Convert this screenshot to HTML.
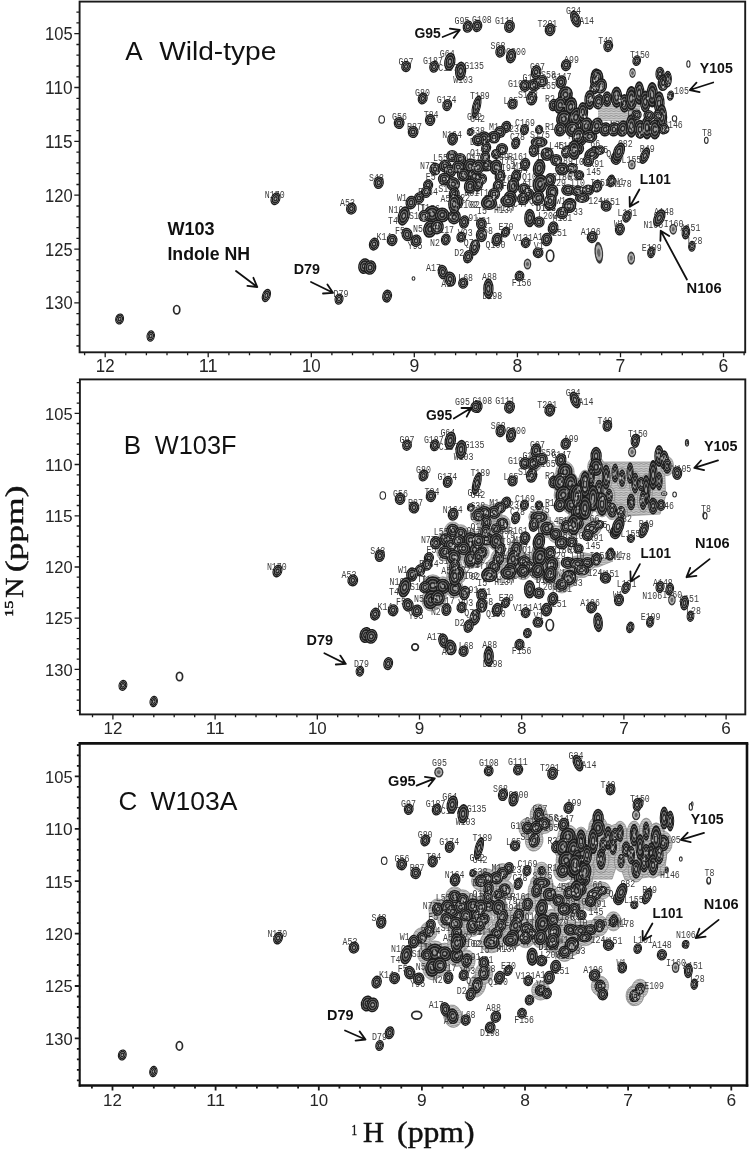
<!DOCTYPE html>
<html><head><meta charset="utf-8"><title>HSQC spectra</title>
<style>
html,body{margin:0;padding:0;background:#fff}
svg{display:block}
.tk{font-family:"Liberation Sans",sans-serif;fill:#262626}
.pl text{font-family:"Liberation Mono",monospace;font-size:10.2px;fill:#3c3c3c}
.an{font-family:"Liberation Sans",sans-serif;font-weight:bold;font-size:15.2px;fill:#111}
.an2{font-family:"Liberation Sans",sans-serif;font-weight:bold;font-size:18px;fill:#111}
.ti{font-family:"Liberation Sans",sans-serif;font-size:26px;fill:#111}
.ax{font-family:"Liberation Serif",serif;font-size:27px;fill:#111}
</style></head><body>
<svg width="749" height="1150" viewBox="0 0 749 1150">
<defs><filter id="bl" x="-2%" y="-2%" width="104%" height="104%"><feGaussianBlur stdDeviation="0.55"/></filter><radialGradient id="cg"><stop offset="0" stop-color="#a8a8a8"/><stop offset=".15" stop-color="#989898"/><stop offset=".24" stop-color="#2a2a2a"/><stop offset=".36" stop-color="#2a2a2a"/><stop offset=".43" stop-color="#686868"/><stop offset=".5" stop-color="#686868"/><stop offset=".57" stop-color="#222"/><stop offset=".69" stop-color="#222"/><stop offset=".75" stop-color="#5a5a5a"/><stop offset=".8" stop-color="#5a5a5a"/><stop offset=".86" stop-color="#1a1a1a"/><stop offset="1" stop-color="#1a1a1a"/></radialGradient><radialGradient id="gg"><stop offset="0" stop-color="#666"/><stop offset=".3" stop-color="#666"/><stop offset=".45" stop-color="#aaa"/><stop offset=".65" stop-color="#aaa"/><stop offset=".78" stop-color="#3a3a3a"/><stop offset="1" stop-color="#3a3a3a"/></radialGradient><pattern id="hat" width="5" height="2.4" patternUnits="userSpaceOnUse"><rect width="5" height="2.4" fill="#cdcdcd"/><path d="M0 0.8Q1.25 0.2 2.5 0.8T5 0.8" stroke="#5c5c5c" stroke-width="0.6" fill="none"/></pattern></defs>
<rect width="749" height="1150" fill="#fff"/>
<g filter="url(#bl)">
<path d="M598 104H640V121H598Z" fill="url(#hat)"/>
<g class="pl"><text x="454.6" y="24.0" textLength="14.9" lengthAdjust="spacingAndGlyphs">G95</text><text x="439.8" y="57.1" textLength="14.9" lengthAdjust="spacingAndGlyphs">G64</text><text x="398.5" y="64.5" textLength="14.9" lengthAdjust="spacingAndGlyphs">G97</text><text x="423.1" y="64.1" textLength="19.8" lengthAdjust="spacingAndGlyphs">G187</text><text x="438.2" y="71.1" textLength="19.8" lengthAdjust="spacingAndGlyphs">C157</text><text x="464.2" y="69.1" textLength="19.8" lengthAdjust="spacingAndGlyphs">G135</text><text x="453.2" y="82.5" textLength="19.8" lengthAdjust="spacingAndGlyphs">W103</text><text x="415.1" y="95.7" textLength="14.9" lengthAdjust="spacingAndGlyphs">G80</text><text x="436.7" y="102.7" textLength="19.8" lengthAdjust="spacingAndGlyphs">G174</text><text x="472.0" y="23.0" textLength="19.8" lengthAdjust="spacingAndGlyphs">G108</text><text x="495.0" y="23.6" textLength="19.8" lengthAdjust="spacingAndGlyphs">G111</text><text x="537.5" y="27.0" textLength="19.8" lengthAdjust="spacingAndGlyphs">T201</text><text x="566.1" y="14.4" textLength="14.9" lengthAdjust="spacingAndGlyphs">G34</text><text x="579.2" y="24.0" textLength="14.9" lengthAdjust="spacingAndGlyphs">A14</text><text x="598.2" y="44.1" textLength="14.9" lengthAdjust="spacingAndGlyphs">T40</text><text x="490.6" y="49.1" textLength="14.9" lengthAdjust="spacingAndGlyphs">S68</text><text x="506.1" y="55.1" textLength="19.8" lengthAdjust="spacingAndGlyphs">G200</text><text x="564.1" y="63.1" textLength="14.9" lengthAdjust="spacingAndGlyphs">A99</text><text x="530.1" y="69.7" textLength="14.9" lengthAdjust="spacingAndGlyphs">G97</text><text x="551.7" y="79.7" textLength="19.8" lengthAdjust="spacingAndGlyphs">G147</text><text x="508.1" y="86.5" textLength="14.9" lengthAdjust="spacingAndGlyphs">G19</text><text x="541.1" y="78.1" textLength="14.9" lengthAdjust="spacingAndGlyphs">S58</text><text x="536.1" y="89.1" textLength="19.8" lengthAdjust="spacingAndGlyphs">S165</text><text x="518.1" y="97.5" textLength="19.8" lengthAdjust="spacingAndGlyphs">S152</text><text x="503.4" y="103.5" textLength="14.9" lengthAdjust="spacingAndGlyphs">L65</text><text x="545.1" y="102.1" textLength="9.9" lengthAdjust="spacingAndGlyphs">R2</text><text x="470.0" y="99.1" textLength="19.8" lengthAdjust="spacingAndGlyphs">T189</text><text x="522.5" y="81.1" textLength="9.9" lengthAdjust="spacingAndGlyphs">G1</text><text x="467.0" y="119.5" textLength="14.9" lengthAdjust="spacingAndGlyphs">G42</text><text x="630.0" y="58.0" textLength="19.8" lengthAdjust="spacingAndGlyphs">T150</text><text x="674.0" y="93.7" textLength="14.9" lengthAdjust="spacingAndGlyphs">105</text><text x="663.0" y="127.5" textLength="19.8" lengthAdjust="spacingAndGlyphs">H146</text><text x="702.0" y="136.0" textLength="9.9" lengthAdjust="spacingAndGlyphs">T8</text><text x="626.0" y="117.0" textLength="14.9" lengthAdjust="spacingAndGlyphs">T82</text><text x="610.0" y="128.0" textLength="14.9" lengthAdjust="spacingAndGlyphs">N71</text><text x="515.1" y="126.0" textLength="19.8" lengthAdjust="spacingAndGlyphs">C169</text><text x="489.0" y="130.0" textLength="9.9" lengthAdjust="spacingAndGlyphs">M1</text><text x="509.1" y="132.0" textLength="9.9" lengthAdjust="spacingAndGlyphs">23</text><text x="545.1" y="130.0" textLength="14.9" lengthAdjust="spacingAndGlyphs">R14</text><text x="510.1" y="140.1" textLength="14.9" lengthAdjust="spacingAndGlyphs">C78</text><text x="530.1" y="138.1" textLength="19.8" lengthAdjust="spacingAndGlyphs">S175</text><text x="508.1" y="160.1" textLength="19.8" lengthAdjust="spacingAndGlyphs">R161</text><text x="500.0" y="164.1" textLength="14.9" lengthAdjust="spacingAndGlyphs">T79</text><text x="494.0" y="160.1" textLength="14.9" lengthAdjust="spacingAndGlyphs">V89</text><text x="501.0" y="171.1" textLength="14.9" lengthAdjust="spacingAndGlyphs">I94</text><text x="518.1" y="173.1" textLength="9.9" lengthAdjust="spacingAndGlyphs">44</text><text x="502.0" y="182.1" textLength="9.9" lengthAdjust="spacingAndGlyphs">76</text><text x="502.0" y="189.1" textLength="9.9" lengthAdjust="spacingAndGlyphs">F6</text><text x="479.0" y="196.1" textLength="9.9" lengthAdjust="spacingAndGlyphs">T1</text><text x="522.1" y="180.1" textLength="14.9" lengthAdjust="spacingAndGlyphs">Q10</text><text x="522.1" y="187.1" textLength="14.9" lengthAdjust="spacingAndGlyphs">A1E</text><text x="549.1" y="149.1" textLength="14.9" lengthAdjust="spacingAndGlyphs">L45</text><text x="558.1" y="149.1" textLength="19.8" lengthAdjust="spacingAndGlyphs">L195</text><text x="590.2" y="147.1" textLength="9.9" lengthAdjust="spacingAndGlyphs">66</text><text x="598.2" y="153.1" textLength="9.9" lengthAdjust="spacingAndGlyphs">85</text><text x="606.2" y="157.1" textLength="5.0" lengthAdjust="spacingAndGlyphs">Q</text><text x="553.1" y="164.1" textLength="19.8" lengthAdjust="spacingAndGlyphs">V189</text><text x="574.1" y="165.1" textLength="9.9" lengthAdjust="spacingAndGlyphs">I0</text><text x="589.2" y="167.1" textLength="14.9" lengthAdjust="spacingAndGlyphs">K91</text><text x="586.2" y="175.1" textLength="14.9" lengthAdjust="spacingAndGlyphs">145</text><text x="552.1" y="180.1" textLength="19.8" lengthAdjust="spacingAndGlyphs">R186</text><text x="568.1" y="180.1" textLength="9.9" lengthAdjust="spacingAndGlyphs">R5</text><text x="556.1" y="186.1" textLength="9.9" lengthAdjust="spacingAndGlyphs">29</text><text x="570.1" y="186.1" textLength="14.9" lengthAdjust="spacingAndGlyphs">110</text><text x="590.2" y="186.1" textLength="19.8" lengthAdjust="spacingAndGlyphs">I152</text><text x="529.1" y="204.1" textLength="14.9" lengthAdjust="spacingAndGlyphs">Q12</text><text x="556.1" y="204.1" textLength="9.9" lengthAdjust="spacingAndGlyphs">W1</text><text x="588.2" y="204.1" textLength="14.9" lengthAdjust="spacingAndGlyphs">124</text><text x="600.2" y="205.1" textLength="19.8" lengthAdjust="spacingAndGlyphs">W151</text><text x="536.1" y="211.2" textLength="19.8" lengthAdjust="spacingAndGlyphs">D128</text><text x="557.1" y="118.0" textLength="5.0" lengthAdjust="spacingAndGlyphs">N</text><text x="568.1" y="139.1" textLength="5.0" lengthAdjust="spacingAndGlyphs">F</text><text x="574.1" y="143.1" textLength="5.0" lengthAdjust="spacingAndGlyphs">N</text><text x="470.0" y="122.0" textLength="14.9" lengthAdjust="spacingAndGlyphs">G42</text><text x="470.0" y="134.0" textLength="14.9" lengthAdjust="spacingAndGlyphs">G38</text><text x="470.0" y="145.1" textLength="9.9" lengthAdjust="spacingAndGlyphs">D2</text><text x="470.0" y="156.1" textLength="19.8" lengthAdjust="spacingAndGlyphs">Q112</text><text x="496.0" y="211.2" textLength="19.8" lengthAdjust="spacingAndGlyphs">H137</text><text x="513.1" y="207.2" textLength="14.9" lengthAdjust="spacingAndGlyphs">C47</text><text x="614.2" y="185.1" textLength="9.9" lengthAdjust="spacingAndGlyphs">N1</text><text x="513.1" y="169.1" textLength="9.9" lengthAdjust="spacingAndGlyphs">M1</text><text x="536.1" y="160.1" textLength="9.9" lengthAdjust="spacingAndGlyphs">I1</text><text x="470.0" y="208.2" textLength="9.9" lengthAdjust="spacingAndGlyphs">02</text><text x="470.0" y="194.1" textLength="9.9" lengthAdjust="spacingAndGlyphs">61</text><text x="617.9" y="146.7" textLength="14.9" lengthAdjust="spacingAndGlyphs">C82</text><text x="639.8" y="152.1" textLength="14.9" lengthAdjust="spacingAndGlyphs">R49</text><text x="621.5" y="163.3" textLength="19.8" lengthAdjust="spacingAndGlyphs">L155</text><text x="611.9" y="186.9" textLength="19.8" lengthAdjust="spacingAndGlyphs">N178</text><text x="392.1" y="120.4" textLength="14.9" lengthAdjust="spacingAndGlyphs">G56</text><text x="423.7" y="118.4" textLength="14.9" lengthAdjust="spacingAndGlyphs">T84</text><text x="407.1" y="130.0" textLength="14.9" lengthAdjust="spacingAndGlyphs">R87</text><text x="442.2" y="137.5" textLength="19.8" lengthAdjust="spacingAndGlyphs">N164</text><text x="433.1" y="160.5" textLength="14.9" lengthAdjust="spacingAndGlyphs">L55</text><text x="420.1" y="169.1" textLength="14.9" lengthAdjust="spacingAndGlyphs">N77</text><text x="425.7" y="180.1" textLength="9.9" lengthAdjust="spacingAndGlyphs">E5</text><text x="369.1" y="181.1" textLength="14.9" lengthAdjust="spacingAndGlyphs">S43</text><text x="418.1" y="194.5" textLength="19.8" lengthAdjust="spacingAndGlyphs">F184</text><text x="438.2" y="191.7" textLength="14.9" lengthAdjust="spacingAndGlyphs">S11</text><text x="397.1" y="201.1" textLength="9.9" lengthAdjust="spacingAndGlyphs">W1</text><text x="440.6" y="201.5" textLength="9.9" lengthAdjust="spacingAndGlyphs">A5</text><text x="460.2" y="201.1" textLength="9.9" lengthAdjust="spacingAndGlyphs">22</text><text x="464.2" y="195.5" textLength="14.9" lengthAdjust="spacingAndGlyphs">R61</text><text x="416.1" y="210.6" textLength="9.9" lengthAdjust="spacingAndGlyphs">T1</text><text x="458.2" y="207.6" textLength="19.8" lengthAdjust="spacingAndGlyphs">I102</text><text x="466.2" y="160.1" textLength="14.9" lengthAdjust="spacingAndGlyphs">Q17</text><text x="340.0" y="206.0" textLength="14.9" lengthAdjust="spacingAndGlyphs">A53</text><text x="388.5" y="213.4" textLength="14.9" lengthAdjust="spacingAndGlyphs">N10</text><text x="388.1" y="224.0" textLength="9.9" lengthAdjust="spacingAndGlyphs">T4</text><text x="409.1" y="218.6" textLength="19.8" lengthAdjust="spacingAndGlyphs">S129</text><text x="395.1" y="234.1" textLength="9.9" lengthAdjust="spacingAndGlyphs">F5</text><text x="413.1" y="231.5" textLength="9.9" lengthAdjust="spacingAndGlyphs">N5</text><text x="439.2" y="233.1" textLength="14.9" lengthAdjust="spacingAndGlyphs">117</text><text x="457.8" y="235.7" textLength="14.9" lengthAdjust="spacingAndGlyphs">V93</text><text x="376.5" y="239.5" textLength="14.9" lengthAdjust="spacingAndGlyphs">K14</text><text x="407.7" y="249.1" textLength="14.9" lengthAdjust="spacingAndGlyphs">Y95</text><text x="430.1" y="245.5" textLength="9.9" lengthAdjust="spacingAndGlyphs">N2</text><text x="463.8" y="246.1" textLength="9.9" lengthAdjust="spacingAndGlyphs">Q7</text><text x="454.2" y="256.1" textLength="9.9" lengthAdjust="spacingAndGlyphs">D2</text><text x="426.1" y="271.1" textLength="14.9" lengthAdjust="spacingAndGlyphs">A17</text><text x="441.2" y="286.7" textLength="9.9" lengthAdjust="spacingAndGlyphs">A9</text><text x="458.2" y="281.1" textLength="14.9" lengthAdjust="spacingAndGlyphs">L68</text><text x="333.6" y="296.5" textLength="14.9" lengthAdjust="spacingAndGlyphs">D79</text><text x="468.2" y="221.4" textLength="9.9" lengthAdjust="spacingAndGlyphs">91</text><text x="420.1" y="211.0" textLength="9.9" lengthAdjust="spacingAndGlyphs">T1</text><text x="430.1" y="212.0" textLength="9.9" lengthAdjust="spacingAndGlyphs">76</text><text x="494.0" y="213.4" textLength="19.8" lengthAdjust="spacingAndGlyphs">H137</text><text x="477.0" y="214.0" textLength="9.9" lengthAdjust="spacingAndGlyphs">I5</text><text x="536.1" y="211.4" textLength="19.8" lengthAdjust="spacingAndGlyphs">D128</text><text x="538.1" y="219.0" textLength="19.8" lengthAdjust="spacingAndGlyphs">L203</text><text x="552.5" y="220.6" textLength="19.8" lengthAdjust="spacingAndGlyphs">M181</text><text x="573.1" y="215.0" textLength="9.9" lengthAdjust="spacingAndGlyphs">33</text><text x="476.0" y="224.0" textLength="14.9" lengthAdjust="spacingAndGlyphs">H31</text><text x="478.0" y="234.1" textLength="14.9" lengthAdjust="spacingAndGlyphs">I58</text><text x="498.6" y="230.4" textLength="14.9" lengthAdjust="spacingAndGlyphs">E70</text><text x="485.6" y="247.5" textLength="19.8" lengthAdjust="spacingAndGlyphs">Q100</text><text x="513.1" y="240.7" textLength="19.8" lengthAdjust="spacingAndGlyphs">V131</text><text x="533.1" y="239.5" textLength="9.9" lengthAdjust="spacingAndGlyphs">A1</text><text x="552.1" y="236.1" textLength="14.9" lengthAdjust="spacingAndGlyphs">251</text><text x="533.7" y="249.1" textLength="9.9" lengthAdjust="spacingAndGlyphs">V1</text><text x="580.8" y="235.1" textLength="19.8" lengthAdjust="spacingAndGlyphs">A196</text><text x="482.0" y="279.5" textLength="14.9" lengthAdjust="spacingAndGlyphs">A88</text><text x="511.7" y="286.1" textLength="19.8" lengthAdjust="spacingAndGlyphs">F156</text><text x="482.4" y="299.1" textLength="19.8" lengthAdjust="spacingAndGlyphs">D198</text><text x="617.5" y="215.9" textLength="19.8" lengthAdjust="spacingAndGlyphs">L101</text><text x="654.1" y="214.9" textLength="19.8" lengthAdjust="spacingAndGlyphs">A148</text><text x="643.4" y="227.8" textLength="19.8" lengthAdjust="spacingAndGlyphs">N106</text><text x="663.7" y="227.2" textLength="19.8" lengthAdjust="spacingAndGlyphs">I160</text><text x="680.6" y="230.8" textLength="19.8" lengthAdjust="spacingAndGlyphs">A151</text><text x="687.5" y="243.7" textLength="14.9" lengthAdjust="spacingAndGlyphs">L28</text><text x="641.8" y="250.7" textLength="19.8" lengthAdjust="spacingAndGlyphs">E109</text><text x="613.9" y="227.2" textLength="9.9" lengthAdjust="spacingAndGlyphs">W1</text><text x="264.8" y="198.0" textLength="19.8" lengthAdjust="spacingAndGlyphs">N170</text></g>
<g fill="url(#cg)"><ellipse cx="467.8" cy="26.6" rx="5.1" ry="6.3" transform="rotate(12 467.8 26.6)"/><ellipse cx="477.2" cy="26.0" rx="5.1" ry="6.3" transform="rotate(12 477.2 26.0)"/><ellipse cx="449.8" cy="61.7" rx="5.6" ry="9.2" transform="rotate(10 449.8 61.7)"/><ellipse cx="434.1" cy="66.7" rx="4.9" ry="6.1" transform="rotate(12 434.1 66.7)"/><ellipse cx="406.1" cy="66.5" rx="4.9" ry="5.7" transform="rotate(12 406.1 66.5)"/><ellipse cx="460.6" cy="71.1" rx="5.6" ry="9.7" transform="rotate(5 460.6 71.1)"/><ellipse cx="422.7" cy="98.5" rx="4.9" ry="6.1" transform="rotate(20 422.7 98.5)"/><ellipse cx="447.2" cy="105.1" rx="4.9" ry="6.1" transform="rotate(15 447.2 105.1)"/><ellipse cx="509.5" cy="26.4" rx="5.4" ry="6.6" transform="rotate(12 509.5 26.4)"/><ellipse cx="550.1" cy="29.6" rx="5.4" ry="6.6" transform="rotate(12 550.1 29.6)"/><ellipse cx="575.5" cy="19.0" rx="4.9" ry="8.8" transform="rotate(-20 575.5 19.0)"/><ellipse cx="608.2" cy="46.1" rx="4.9" ry="6.1" transform="rotate(12 608.2 46.1)"/><ellipse cx="500.4" cy="51.5" rx="5.1" ry="6.3" transform="rotate(12 500.4 51.5)"/><ellipse cx="511.1" cy="56.1" rx="5.1" ry="7.4" transform="rotate(12 511.1 56.1)"/><ellipse cx="566.1" cy="65.1" rx="5.2" ry="6.1" transform="rotate(15 566.1 65.1)"/><ellipse cx="536.1" cy="72.1" rx="5.3" ry="7.1" transform="rotate(12 536.1 72.1)"/><ellipse cx="525.1" cy="85.7" rx="5.6" ry="6.2" transform="rotate(12 525.1 85.7)"/><ellipse cx="534.1" cy="85.1" rx="6.0" ry="6.6" transform="rotate(12 534.1 85.1)"/><ellipse cx="542.1" cy="81.1" rx="5.8" ry="6.2" transform="rotate(12 542.1 81.1)"/><ellipse cx="561.1" cy="82.1" rx="5.6" ry="6.9" transform="rotate(12 561.1 82.1)"/><ellipse cx="531.7" cy="98.5" rx="5.6" ry="7.1" transform="rotate(10 531.7 98.5)"/><ellipse cx="512.5" cy="104.1" rx="5.2" ry="5.5" transform="rotate(10 512.5 104.1)"/><ellipse cx="553.7" cy="105.1" rx="5.1" ry="6.3" transform="rotate(12 553.7 105.1)"/><ellipse cx="596.2" cy="77.1" rx="5.6" ry="8.9"/><ellipse cx="600.2" cy="86.1" rx="6.3" ry="7.0" transform="rotate(12 600.2 86.1)"/><ellipse cx="594.6" cy="88.1" rx="5.0" ry="6.4" transform="rotate(12 594.6 88.1)"/><ellipse cx="476.5" cy="106.5" rx="4.3" ry="11.6" transform="rotate(14 476.5 106.5)"/><ellipse cx="636.7" cy="60.6" rx="4.3" ry="5.5" transform="rotate(12 636.7 60.6)"/><ellipse cx="632.5" cy="73.0" rx="3.2" ry="5.0" fill="url(#gg)"/><ellipse cx="688.4" cy="64.0" rx="1.6" ry="3.3" fill="#fff" stroke="#2c2c2c" stroke-width="1.1"/><ellipse cx="565.4" cy="94.7" rx="7.4" ry="8.6" transform="rotate(12 565.4 94.7)"/><ellipse cx="560.2" cy="105.1" rx="6.5" ry="8.9" transform="rotate(12 560.2 105.1)"/><ellipse cx="570.6" cy="106.9" rx="6.5" ry="10.0" transform="rotate(12 570.6 106.9)"/><ellipse cx="563.7" cy="119.0" rx="7.6" ry="8.9" transform="rotate(12 563.7 119.0)"/><ellipse cx="575.8" cy="117.3" rx="6.5" ry="10.0" transform="rotate(12 575.8 117.3)"/><ellipse cx="560.2" cy="129.4" rx="6.1" ry="7.2" transform="rotate(12 560.2 129.4)"/><ellipse cx="572.4" cy="129.4" rx="7.6" ry="7.8"/><ellipse cx="582.8" cy="112.1" rx="5.4" ry="10.0"/><ellipse cx="586.2" cy="126.0" rx="6.5" ry="8.9" transform="rotate(12 586.2 126.0)"/><ellipse cx="581.0" cy="138.1" rx="6.5" ry="7.8" transform="rotate(12 581.0 138.1)"/><ellipse cx="589.7" cy="136.4" rx="7.6" ry="6.6"/><ellipse cx="577.6" cy="148.5" rx="6.5" ry="6.6"/><ellipse cx="568.9" cy="150.3" rx="5.3" ry="5.3"/><ellipse cx="594.9" cy="150.3" rx="4.4" ry="4.4"/><ellipse cx="596.7" cy="79.1" rx="6.5" ry="10.0" transform="rotate(12 596.7 79.1)"/><ellipse cx="601.0" cy="86.0" rx="6.0" ry="7.8" transform="rotate(12 601.0 86.0)"/><ellipse cx="594.1" cy="87.8" rx="4.4" ry="6.6" transform="rotate(12 594.1 87.8)"/><ellipse cx="589.7" cy="99.9" rx="5.4" ry="10.0"/><ellipse cx="598.4" cy="101.7" rx="5.4" ry="7.8" transform="rotate(12 598.4 101.7)"/><ellipse cx="607.1" cy="99.1" rx="4.9" ry="7.8"/><ellipse cx="616.6" cy="97.3" rx="5.8" ry="10.7"/><ellipse cx="624.4" cy="103.4" rx="5.1" ry="9.3"/><ellipse cx="631.4" cy="98.2" rx="6.0" ry="12.2"/><ellipse cx="639.2" cy="93.0" rx="5.3" ry="11.8"/><ellipse cx="645.3" cy="101.7" rx="5.4" ry="11.1"/><ellipse cx="652.2" cy="94.7" rx="5.8" ry="12.8"/><ellipse cx="659.2" cy="103.4" rx="5.4" ry="12.2"/><ellipse cx="660.0" cy="73.9" rx="4.6" ry="7.2"/><ellipse cx="663.5" cy="82.6" rx="5.8" ry="8.6" transform="rotate(12 663.5 82.6)"/><ellipse cx="667.8" cy="79.1" rx="4.1" ry="8.3"/><ellipse cx="670.5" cy="95.6" rx="3.5" ry="5.2" transform="rotate(12 670.5 95.6)"/><ellipse cx="596.7" cy="126.0" rx="6.3" ry="8.6" transform="rotate(12 596.7 126.0)"/><ellipse cx="605.3" cy="129.4" rx="6.1" ry="7.2" transform="rotate(12 605.3 129.4)"/><ellipse cx="614.0" cy="129.4" rx="6.1" ry="7.2" transform="rotate(12 614.0 129.4)"/><ellipse cx="622.7" cy="128.6" rx="6.1" ry="8.3" transform="rotate(12 622.7 128.6)"/><ellipse cx="631.4" cy="126.0" rx="5.8" ry="11.8"/><ellipse cx="640.1" cy="129.4" rx="5.8" ry="9.6"/><ellipse cx="647.0" cy="127.7" rx="5.8" ry="11.8"/><ellipse cx="654.8" cy="129.4" rx="6.0" ry="10.0"/><ellipse cx="661.8" cy="117.3" rx="5.4" ry="13.3"/><ellipse cx="665.2" cy="129.4" rx="4.2" ry="4.3"/><ellipse cx="636.6" cy="114.7" rx="5.1" ry="5.2"/><ellipse cx="648.8" cy="115.6" rx="5.4" ry="5.5"/><ellipse cx="657.4" cy="115.6" rx="4.9" ry="5.5" transform="rotate(12 657.4 115.6)"/><ellipse cx="674.5" cy="118.5" rx="2.2" ry="2.8" fill="#fff" stroke="#2c2c2c" stroke-width="1.1"/><ellipse cx="706.3" cy="140.3" rx="1.8" ry="3.1" fill="#fff" stroke="#2c2c2c" stroke-width="1.1"/><ellipse cx="578.2" cy="136.1" rx="6.3" ry="8.9" transform="rotate(12 578.2 136.1)"/><ellipse cx="574.1" cy="150.1" rx="6.3" ry="10.2"/><ellipse cx="566.1" cy="152.1" rx="5.0" ry="6.4" transform="rotate(12 566.1 152.1)"/><ellipse cx="592.2" cy="154.1" rx="8.5" ry="6.2" transform="rotate(-30 592.2 154.1)"/><ellipse cx="588.2" cy="161.1" rx="5.8" ry="5.9"/><ellipse cx="600.2" cy="150.1" rx="4.7" ry="4.8"/><ellipse cx="506.1" cy="127.0" rx="5.1" ry="6.3" transform="rotate(20 506.1 127.0)"/><ellipse cx="500.0" cy="132.0" rx="5.8" ry="5.9"/><ellipse cx="494.0" cy="137.1" rx="6.3" ry="6.4"/><ellipse cx="484.0" cy="138.1" rx="6.7" ry="6.8"/><ellipse cx="478.0" cy="140.1" rx="6.1" ry="6.2"/><ellipse cx="524.5" cy="129.6" rx="4.5" ry="5.7" transform="rotate(12 524.5 129.6)"/><ellipse cx="539.1" cy="129.6" rx="4.1" ry="4.8" transform="rotate(12 539.1 129.6)"/><ellipse cx="515.7" cy="143.1" rx="4.5" ry="6.3" transform="rotate(15 515.7 143.1)"/><ellipse cx="502.0" cy="149.1" rx="6.1" ry="6.2"/><ellipse cx="496.0" cy="154.1" rx="5.0" ry="5.1"/><ellipse cx="539.1" cy="142.1" rx="8.5" ry="5.6"/><ellipse cx="534.1" cy="150.1" rx="5.3" ry="7.1" transform="rotate(12 534.1 150.1)"/><ellipse cx="547.1" cy="154.1" rx="6.7" ry="6.8"/><ellipse cx="556.1" cy="160.1" rx="6.1" ry="6.2"/><ellipse cx="525.1" cy="164.1" rx="5.1" ry="6.3" transform="rotate(12 525.1 164.1)"/><ellipse cx="476.0" cy="167.1" rx="7.5" ry="6.4"/><ellipse cx="486.0" cy="165.1" rx="7.5" ry="6.4"/><ellipse cx="496.0" cy="167.1" rx="6.3" ry="7.7" transform="rotate(12 496.0 167.1)"/><ellipse cx="500.0" cy="176.1" rx="5.3" ry="7.1" transform="rotate(12 500.0 176.1)"/><ellipse cx="498.0" cy="186.1" rx="5.3" ry="7.1" transform="rotate(12 498.0 186.1)"/><ellipse cx="494.0" cy="194.1" rx="6.1" ry="6.2"/><ellipse cx="488.0" cy="202.1" rx="6.4" ry="7.1" transform="rotate(12 488.0 202.1)"/><ellipse cx="472.0" cy="176.1" rx="5.0" ry="7.7" transform="rotate(12 472.0 176.1)"/><ellipse cx="482.0" cy="179.1" rx="5.0" ry="5.8" transform="rotate(12 482.0 179.1)"/><ellipse cx="516.1" cy="176.1" rx="5.1" ry="6.9" transform="rotate(12 516.1 176.1)"/><ellipse cx="513.1" cy="186.1" rx="6.1" ry="8.6" transform="rotate(12 513.1 186.1)"/><ellipse cx="510.1" cy="198.1" rx="6.7" ry="7.4" transform="rotate(12 510.1 198.1)"/><ellipse cx="524.1" cy="189.1" rx="6.1" ry="6.2"/><ellipse cx="528.1" cy="194.1" rx="6.1" ry="6.2"/><ellipse cx="539.1" cy="168.1" rx="6.2" ry="9.2" transform="rotate(12 539.1 168.1)"/><ellipse cx="540.1" cy="184.1" rx="7.3" ry="9.9" transform="rotate(12 540.1 184.1)"/><ellipse cx="538.1" cy="198.1" rx="6.3" ry="7.7" transform="rotate(12 538.1 198.1)"/><ellipse cx="550.1" cy="180.1" rx="5.8" ry="7.1" transform="rotate(12 550.1 180.1)"/><ellipse cx="552.1" cy="192.1" rx="6.3" ry="7.7" transform="rotate(12 552.1 192.1)"/><ellipse cx="550.1" cy="204.1" rx="6.3" ry="6.4"/><ellipse cx="562.1" cy="169.1" rx="7.0" ry="6.5"/><ellipse cx="572.1" cy="168.1" rx="5.8" ry="5.4"/><ellipse cx="579.2" cy="175.1" rx="5.1" ry="5.2"/><ellipse cx="568.1" cy="190.1" rx="7.0" ry="5.9"/><ellipse cx="578.2" cy="191.1" rx="7.3" ry="5.6"/><ellipse cx="588.2" cy="190.1" rx="6.1" ry="5.6"/><ellipse cx="597.2" cy="186.1" rx="5.3" ry="6.5" transform="rotate(12 597.2 186.1)"/><ellipse cx="570.1" cy="204.1" rx="6.3" ry="6.4"/><ellipse cx="606.2" cy="205.1" rx="4.5" ry="4.6"/><ellipse cx="611.2" cy="180.1" rx="3.9" ry="5.7" transform="rotate(12 611.2 180.1)"/><ellipse cx="616.2" cy="158.1" rx="5.6" ry="6.9" transform="rotate(12 616.2 158.1)"/><ellipse cx="618.9" cy="151.7" rx="5.6" ry="9.7" transform="rotate(20 618.9 151.7)"/><ellipse cx="644.8" cy="155.7" rx="4.5" ry="8.8" transform="rotate(22 644.8 155.7)"/><ellipse cx="631.8" cy="164.7" rx="3.8" ry="4.9" fill="url(#gg)"/><ellipse cx="610.9" cy="181.6" rx="4.6" ry="5.9" transform="rotate(12 610.9 181.6)"/><ellipse cx="663.7" cy="128.8" rx="5.0" ry="5.7" transform="rotate(12 663.7 128.8)"/><ellipse cx="381.7" cy="119.4" rx="2.8" ry="3.7" fill="#fff" stroke="#2c2c2c" stroke-width="1.1"/><ellipse cx="399.1" cy="123.0" rx="5.4" ry="6.1" transform="rotate(10 399.1 123.0)"/><ellipse cx="413.1" cy="132.0" rx="5.4" ry="6.1" transform="rotate(10 413.1 132.0)"/><ellipse cx="430.1" cy="120.0" rx="5.2" ry="6.1" transform="rotate(10 430.1 120.0)"/><ellipse cx="452.6" cy="139.1" rx="5.4" ry="6.6" transform="rotate(10 452.6 139.1)"/><ellipse cx="470.2" cy="132.0" rx="3.4" ry="4.0" transform="rotate(12 470.2 132.0)"/><ellipse cx="378.7" cy="182.7" rx="5.2" ry="6.4" transform="rotate(10 378.7 182.7)"/><ellipse cx="452.2" cy="156.1" rx="6.1" ry="6.2"/><ellipse cx="460.2" cy="159.1" rx="6.1" ry="6.2"/><ellipse cx="435.1" cy="169.1" rx="5.8" ry="6.5" transform="rotate(12 435.1 169.1)"/><ellipse cx="445.2" cy="166.1" rx="6.3" ry="6.4"/><ellipse cx="450.2" cy="171.1" rx="6.3" ry="6.4"/><ellipse cx="458.2" cy="167.1" rx="6.3" ry="6.4"/><ellipse cx="444.2" cy="179.1" rx="6.3" ry="6.4"/><ellipse cx="453.2" cy="184.1" rx="6.9" ry="7.0"/><ellipse cx="428.1" cy="185.1" rx="5.1" ry="5.7" transform="rotate(12 428.1 185.1)"/><ellipse cx="426.1" cy="192.1" rx="5.3" ry="5.9" transform="rotate(12 426.1 192.1)"/><ellipse cx="419.1" cy="198.1" rx="5.3" ry="5.9" transform="rotate(12 419.1 198.1)"/><ellipse cx="470.2" cy="166.1" rx="6.9" ry="7.7" transform="rotate(12 470.2 166.1)"/><ellipse cx="474.2" cy="176.1" rx="6.3" ry="7.7" transform="rotate(12 474.2 176.1)"/><ellipse cx="478.2" cy="167.1" rx="6.3" ry="7.7" transform="rotate(12 478.2 167.1)"/><ellipse cx="454.2" cy="194.1" rx="5.5" ry="6.8" transform="rotate(12 454.2 194.1)"/><ellipse cx="458.2" cy="202.1" rx="5.3" ry="7.1" transform="rotate(12 458.2 202.1)"/><ellipse cx="463.2" cy="175.1" rx="6.3" ry="6.4"/><ellipse cx="470.2" cy="186.1" rx="6.3" ry="7.7" transform="rotate(12 470.2 186.1)"/><ellipse cx="478.2" cy="184.1" rx="5.0" ry="7.7" transform="rotate(12 478.2 184.1)"/><ellipse cx="351.4" cy="208.6" rx="5.4" ry="6.1" transform="rotate(12 351.4 208.6)"/><ellipse cx="411.1" cy="202.6" rx="5.6" ry="6.9" transform="rotate(10 411.1 202.6)"/><ellipse cx="403.7" cy="216.0" rx="5.9" ry="9.9" transform="rotate(15 403.7 216.0)"/><ellipse cx="432.1" cy="214.0" rx="8.5" ry="8.6"/><ellipse cx="442.2" cy="215.0" rx="7.3" ry="7.4"/><ellipse cx="454.2" cy="217.0" rx="6.7" ry="7.4" transform="rotate(12 454.2 217.0)"/><ellipse cx="454.2" cy="204.0" rx="6.1" ry="9.9"/><ellipse cx="430.1" cy="229.0" rx="7.0" ry="8.9" transform="rotate(12 430.1 229.0)"/><ellipse cx="437.2" cy="227.0" rx="6.7" ry="7.4" transform="rotate(12 437.2 227.0)"/><ellipse cx="424.1" cy="216.0" rx="5.8" ry="5.9"/><ellipse cx="464.2" cy="222.0" rx="5.1" ry="6.9" transform="rotate(12 464.2 222.0)"/><ellipse cx="407.1" cy="234.5" rx="5.6" ry="6.9" transform="rotate(-15 407.1 234.5)"/><ellipse cx="416.1" cy="240.7" rx="5.6" ry="6.3" transform="rotate(12 416.1 240.7)"/><ellipse cx="374.1" cy="244.1" rx="5.2" ry="6.6" transform="rotate(15 374.1 244.1)"/><ellipse cx="392.1" cy="240.1" rx="5.4" ry="6.1" transform="rotate(10 392.1 240.1)"/><ellipse cx="445.8" cy="239.5" rx="4.9" ry="6.1" transform="rotate(10 445.8 239.5)"/><ellipse cx="461.2" cy="237.1" rx="4.9" ry="5.5" transform="rotate(12 461.2 237.1)"/><ellipse cx="474.6" cy="247.5" rx="5.3" ry="8.3" transform="rotate(15 474.6 247.5)"/><ellipse cx="468.2" cy="256.7" rx="5.1" ry="6.9" transform="rotate(15 468.2 256.7)"/><ellipse cx="364.4" cy="266.1" rx="6.2" ry="8.0" transform="rotate(12 364.4 266.1)"/><ellipse cx="370.1" cy="267.5" rx="6.2" ry="7.4" transform="rotate(12 370.1 267.5)"/><ellipse cx="442.8" cy="272.1" rx="5.1" ry="7.4" transform="rotate(-10 442.8 272.1)"/><ellipse cx="450.2" cy="279.1" rx="5.8" ry="7.7" transform="rotate(-10 450.2 279.1)"/><ellipse cx="463.2" cy="283.1" rx="5.1" ry="5.7" transform="rotate(12 463.2 283.1)"/><ellipse cx="413.5" cy="278.5" rx="1.4" ry="1.8" fill="#fff" stroke="#2c2c2c" stroke-width="1.1"/><ellipse cx="387.1" cy="296.1" rx="4.9" ry="6.6" transform="rotate(12 387.1 296.1)"/><ellipse cx="339.0" cy="299.1" rx="4.5" ry="5.7" transform="rotate(12 339.0 299.1)"/><ellipse cx="489.0" cy="203.0" rx="8.2" ry="7.1"/><ellipse cx="508.1" cy="201.0" rx="7.9" ry="6.3"/><ellipse cx="523.1" cy="199.0" rx="6.1" ry="6.2"/><ellipse cx="550.1" cy="201.0" rx="6.1" ry="7.4" transform="rotate(12 550.1 201.0)"/><ellipse cx="569.1" cy="206.0" rx="7.0" ry="7.1" transform="rotate(20 569.1 206.0)"/><ellipse cx="562.1" cy="213.0" rx="6.1" ry="6.2"/><ellipse cx="582.2" cy="198.0" rx="7.3" ry="4.9"/><ellipse cx="606.2" cy="206.0" rx="5.6" ry="5.7" transform="rotate(15 606.2 206.0)"/><ellipse cx="481.4" cy="224.0" rx="5.4" ry="6.3" transform="rotate(0.1 481.4 224.0)"/><ellipse cx="481.4" cy="235.1" rx="5.6" ry="7.1" transform="rotate(0.1 481.4 235.1)"/><ellipse cx="505.6" cy="232.1" rx="4.5" ry="5.7" transform="rotate(25 505.6 232.1)"/><ellipse cx="497.0" cy="239.5" rx="5.4" ry="6.9" transform="rotate(15 497.0 239.5)"/><ellipse cx="529.7" cy="218.0" rx="5.6" ry="9.2"/><ellipse cx="539.1" cy="222.0" rx="5.6" ry="5.7"/><ellipse cx="553.1" cy="228.0" rx="5.4" ry="6.9" transform="rotate(12 553.1 228.0)"/><ellipse cx="546.7" cy="239.5" rx="5.6" ry="6.9" transform="rotate(10 546.7 239.5)"/><ellipse cx="525.7" cy="242.7" rx="4.9" ry="5.5" transform="rotate(12 525.7 242.7)"/><ellipse cx="538.1" cy="252.7" rx="5.4" ry="5.5"/><ellipse cx="550.1" cy="255.7" rx="3.7" ry="5.6" fill="#fff" stroke="#2c2c2c" stroke-width="1.7"/><ellipse cx="527.5" cy="264.1" rx="3.8" ry="5.5" fill="url(#gg)"/><ellipse cx="519.5" cy="276.1" rx="4.9" ry="5.5" transform="rotate(12 519.5 276.1)"/><ellipse cx="488.4" cy="288.7" rx="5.2" ry="10.5" transform="rotate(0.1 488.4 288.7)"/><ellipse cx="592.2" cy="237.1" rx="5.4" ry="6.1" transform="rotate(20 592.2 237.1)"/><ellipse cx="598.8" cy="252.7" rx="4.3" ry="11.0" transform="rotate(-5 598.8 252.7)" fill="url(#gg)"/><ellipse cx="626.9" cy="216.5" rx="4.5" ry="6.3" transform="rotate(20 626.9 216.5)"/><ellipse cx="619.9" cy="229.2" rx="5.0" ry="6.3" transform="rotate(10 619.9 229.2)"/><ellipse cx="659.3" cy="217.9" rx="5.4" ry="9.3" transform="rotate(25 659.3 217.9)"/><ellipse cx="673.2" cy="229.2" rx="3.8" ry="5.5" fill="url(#gg)"/><ellipse cx="685.9" cy="232.4" rx="4.3" ry="7.1" transform="rotate(5 685.9 232.4)"/><ellipse cx="691.9" cy="246.3" rx="3.8" ry="5.5" transform="rotate(5 691.9 246.3)"/><ellipse cx="651.3" cy="252.3" rx="4.1" ry="6.0" transform="rotate(10 651.3 252.3)"/><ellipse cx="631.2" cy="258.1" rx="3.8" ry="6.6" fill="url(#gg)"/><ellipse cx="275.5" cy="198.8" rx="4.8" ry="6.6" transform="rotate(20 275.5 198.8)"/><ellipse cx="266.4" cy="295.5" rx="4.3" ry="7.0" transform="rotate(20 266.4 295.5)"/><ellipse cx="176.7" cy="309.7" rx="3.1" ry="4.2" fill="#fff" stroke="#2c2c2c" stroke-width="1.7"/><ellipse cx="119.6" cy="319.0" rx="4.4" ry="5.6" transform="rotate(15 119.6 319.0)"/><ellipse cx="150.7" cy="336.0" rx="4.2" ry="5.8" transform="rotate(10 150.7 336.0)"/><ellipse cx="486.1" cy="148.0" rx="5.0" ry="6.4" transform="rotate(12 486.1 148.0)"/><ellipse cx="485.1" cy="157.1" rx="5.0" ry="6.4" transform="rotate(12 485.1 157.1)"/><ellipse cx="535.3" cy="74.2" rx="0.8" ry="0.7" fill="#1c1c1c"/><ellipse cx="538.4" cy="74.2" rx="1.0" ry="0.8" fill="#c5c5c5"/><ellipse cx="534.7" cy="72.9" rx="0.5" ry="1.0" fill="#1c1c1c"/><ellipse cx="526.5" cy="87.3" rx="0.8" ry="1.5" fill="#1c1c1c"/><ellipse cx="523.7" cy="84.8" rx="0.6" ry="1.1" fill="#aaa"/><ellipse cx="524.6" cy="87.6" rx="0.6" ry="0.9" fill="#222"/><ellipse cx="535.3" cy="88.0" rx="0.8" ry="0.9" fill="#1c1c1c"/><ellipse cx="533.4" cy="82.0" rx="0.8" ry="1.0" fill="#1c1c1c"/><ellipse cx="532.0" cy="86.2" rx="0.8" ry="1.0" fill="#e0e0e0"/><ellipse cx="542.1" cy="83.2" rx="0.9" ry="0.7" fill="#e0e0e0"/><ellipse cx="538.2" cy="80.5" rx="0.9" ry="0.9" fill="#c5c5c5"/><ellipse cx="544.1" cy="83.0" rx="0.9" ry="0.7" fill="#999"/><ellipse cx="528.2" cy="100.9" rx="0.5" ry="1.1" fill="#e0e0e0"/><ellipse cx="530.4" cy="101.0" rx="0.7" ry="1.3" fill="#c5c5c5"/><ellipse cx="533.8" cy="94.4" rx="0.7" ry="1.2" fill="#c5c5c5"/><ellipse cx="595.9" cy="73.8" rx="0.8" ry="1.2" fill="#999"/><ellipse cx="595.7" cy="80.6" rx="0.8" ry="0.6" fill="#999"/><ellipse cx="594.4" cy="80.6" rx="0.7" ry="0.8" fill="#e0e0e0"/><ellipse cx="601.7" cy="87.9" rx="0.7" ry="1.4" fill="#c5c5c5"/><ellipse cx="601.5" cy="88.6" rx="0.6" ry="0.7" fill="#999"/><ellipse cx="601.7" cy="84.2" rx="0.7" ry="0.9" fill="#999"/><ellipse cx="596.1" cy="87.6" rx="0.6" ry="0.8" fill="#aaa"/><ellipse cx="597.6" cy="88.4" rx="0.6" ry="0.9" fill="#aaa"/><ellipse cx="592.8" cy="89.4" rx="0.8" ry="1.5" fill="#222"/><ellipse cx="568.6" cy="90.3" rx="0.8" ry="1.3" fill="#999"/><ellipse cx="569.0" cy="91.7" rx="0.9" ry="1.3" fill="#999"/><ellipse cx="562.9" cy="96.9" rx="0.7" ry="1.0" fill="#aaa"/><ellipse cx="562.2" cy="106.3" rx="0.6" ry="0.9" fill="#c5c5c5"/><ellipse cx="562.8" cy="107.7" rx="0.8" ry="1.5" fill="#1c1c1c"/><ellipse cx="564.2" cy="106.0" rx="0.8" ry="0.7" fill="#e0e0e0"/><ellipse cx="573.8" cy="105.5" rx="0.7" ry="0.7" fill="#999"/><ellipse cx="573.5" cy="106.7" rx="0.7" ry="0.7" fill="#c5c5c5"/><ellipse cx="570.6" cy="101.4" rx="0.7" ry="1.2" fill="#1c1c1c"/><ellipse cx="568.6" cy="119.9" rx="0.8" ry="0.7" fill="#1c1c1c"/><ellipse cx="567.4" cy="116.5" rx="0.6" ry="1.2" fill="#c5c5c5"/><ellipse cx="562.8" cy="116.1" rx="0.7" ry="0.8" fill="#aaa"/><ellipse cx="572.1" cy="116.1" rx="0.7" ry="0.8" fill="#aaa"/><ellipse cx="577.2" cy="111.8" rx="0.9" ry="0.8" fill="#1c1c1c"/><ellipse cx="572.2" cy="117.5" rx="1.0" ry="1.3" fill="#999"/><ellipse cx="560.0" cy="133.6" rx="1.0" ry="1.0" fill="#222"/><ellipse cx="564.5" cy="129.1" rx="0.7" ry="0.8" fill="#aaa"/><ellipse cx="557.7" cy="130.0" rx="0.7" ry="1.5" fill="#1c1c1c"/><ellipse cx="574.2" cy="126.6" rx="0.8" ry="1.3" fill="#c5c5c5"/><ellipse cx="573.5" cy="127.5" rx="0.7" ry="1.2" fill="#aaa"/><ellipse cx="570.0" cy="129.8" rx="0.9" ry="0.9" fill="#222"/><ellipse cx="581.0" cy="114.6" rx="1.0" ry="1.3" fill="#aaa"/><ellipse cx="584.1" cy="112.0" rx="0.8" ry="1.0" fill="#222"/><ellipse cx="584.8" cy="116.8" rx="1.0" ry="1.2" fill="#e0e0e0"/><ellipse cx="588.0" cy="129.4" rx="0.5" ry="1.3" fill="#222"/><ellipse cx="584.4" cy="122.7" rx="1.0" ry="1.0" fill="#aaa"/><ellipse cx="587.2" cy="123.4" rx="0.6" ry="0.9" fill="#aaa"/><ellipse cx="581.3" cy="135.2" rx="0.8" ry="1.4" fill="#c5c5c5"/><ellipse cx="583.2" cy="136.5" rx="0.7" ry="1.1" fill="#1c1c1c"/><ellipse cx="577.4" cy="140.5" rx="0.8" ry="1.1" fill="#1c1c1c"/><ellipse cx="585.0" cy="136.1" rx="0.9" ry="1.1" fill="#aaa"/><ellipse cx="591.3" cy="139.0" rx="0.9" ry="1.1" fill="#e0e0e0"/><ellipse cx="588.2" cy="133.6" rx="0.7" ry="1.3" fill="#1c1c1c"/><ellipse cx="579.5" cy="149.3" rx="0.5" ry="0.7" fill="#999"/><ellipse cx="574.1" cy="147.1" rx="1.0" ry="1.0" fill="#1c1c1c"/><ellipse cx="580.8" cy="148.0" rx="0.6" ry="0.8" fill="#1c1c1c"/><ellipse cx="566.5" cy="149.8" rx="1.0" ry="1.2" fill="#e0e0e0"/><ellipse cx="571.9" cy="148.7" rx="0.6" ry="1.0" fill="#999"/><ellipse cx="570.6" cy="151.9" rx="0.5" ry="0.8" fill="#c5c5c5"/><ellipse cx="595.3" cy="151.9" rx="0.6" ry="1.3" fill="#222"/><ellipse cx="593.9" cy="148.9" rx="0.6" ry="0.7" fill="#999"/><ellipse cx="595.5" cy="153.1" rx="0.7" ry="1.0" fill="#222"/><ellipse cx="597.7" cy="76.5" rx="0.7" ry="1.1" fill="#e0e0e0"/><ellipse cx="594.4" cy="80.9" rx="0.5" ry="0.9" fill="#e0e0e0"/><ellipse cx="594.0" cy="77.7" rx="0.5" ry="0.9" fill="#1c1c1c"/><ellipse cx="599.9" cy="90.9" rx="0.6" ry="1.4" fill="#aaa"/><ellipse cx="602.7" cy="85.7" rx="0.6" ry="0.6" fill="#aaa"/><ellipse cx="600.8" cy="88.3" rx="0.7" ry="1.4" fill="#e0e0e0"/><ellipse cx="592.3" cy="89.5" rx="0.8" ry="1.0" fill="#e0e0e0"/><ellipse cx="595.0" cy="88.7" rx="0.8" ry="1.0" fill="#c5c5c5"/><ellipse cx="593.9" cy="89.4" rx="0.5" ry="0.8" fill="#1c1c1c"/><ellipse cx="590.6" cy="97.9" rx="0.9" ry="1.0" fill="#e0e0e0"/><ellipse cx="592.0" cy="99.8" rx="1.0" ry="1.2" fill="#c5c5c5"/><ellipse cx="587.9" cy="99.4" rx="0.6" ry="0.7" fill="#c5c5c5"/><ellipse cx="599.9" cy="106.2" rx="0.8" ry="1.1" fill="#aaa"/><ellipse cx="597.8" cy="105.1" rx="0.6" ry="0.9" fill="#c5c5c5"/><ellipse cx="599.8" cy="101.6" rx="0.5" ry="1.1" fill="#aaa"/><ellipse cx="605.4" cy="98.8" rx="0.7" ry="1.2" fill="#222"/><ellipse cx="605.0" cy="100.5" rx="0.9" ry="1.0" fill="#1c1c1c"/><ellipse cx="606.5" cy="101.4" rx="0.6" ry="0.8" fill="#222"/><ellipse cx="616.4" cy="94.1" rx="1.0" ry="1.5" fill="#aaa"/><ellipse cx="619.7" cy="97.8" rx="0.9" ry="1.0" fill="#c5c5c5"/><ellipse cx="619.8" cy="100.7" rx="0.9" ry="1.2" fill="#e0e0e0"/><ellipse cx="622.0" cy="100.3" rx="0.5" ry="0.8" fill="#e0e0e0"/><ellipse cx="622.6" cy="104.6" rx="1.0" ry="1.5" fill="#1c1c1c"/><ellipse cx="623.8" cy="105.6" rx="0.9" ry="0.8" fill="#aaa"/><ellipse cx="633.8" cy="98.2" rx="0.7" ry="1.1" fill="#aaa"/><ellipse cx="631.4" cy="105.1" rx="0.5" ry="1.3" fill="#aaa"/><ellipse cx="630.1" cy="100.0" rx="0.5" ry="0.9" fill="#aaa"/><ellipse cx="642.3" cy="97.0" rx="0.9" ry="0.7" fill="#222"/><ellipse cx="639.8" cy="87.1" rx="0.9" ry="1.2" fill="#999"/><ellipse cx="641.0" cy="98.4" rx="0.8" ry="0.6" fill="#222"/><ellipse cx="647.5" cy="98.1" rx="0.9" ry="1.3" fill="#aaa"/><ellipse cx="647.9" cy="98.3" rx="0.8" ry="1.3" fill="#c5c5c5"/><ellipse cx="646.5" cy="96.9" rx="0.9" ry="1.2" fill="#222"/><ellipse cx="651.2" cy="91.9" rx="0.5" ry="1.2" fill="#c5c5c5"/><ellipse cx="650.4" cy="98.7" rx="0.5" ry="0.6" fill="#1c1c1c"/><ellipse cx="651.1" cy="89.3" rx="0.5" ry="1.3" fill="#222"/><ellipse cx="662.3" cy="100.3" rx="0.5" ry="1.1" fill="#222"/><ellipse cx="659.0" cy="99.2" rx="0.5" ry="0.8" fill="#222"/><ellipse cx="659.2" cy="99.3" rx="0.8" ry="1.0" fill="#999"/><ellipse cx="662.8" cy="76.1" rx="0.6" ry="0.6" fill="#222"/><ellipse cx="659.2" cy="72.3" rx="0.6" ry="0.8" fill="#222"/><ellipse cx="659.2" cy="70.2" rx="0.6" ry="1.0" fill="#999"/><ellipse cx="663.1" cy="87.2" rx="0.8" ry="1.2" fill="#e0e0e0"/><ellipse cx="662.9" cy="79.5" rx="0.7" ry="1.3" fill="#1c1c1c"/><ellipse cx="664.8" cy="88.1" rx="1.0" ry="0.6" fill="#999"/><ellipse cx="669.6" cy="81.0" rx="1.0" ry="1.5" fill="#999"/><ellipse cx="668.6" cy="84.6" rx="0.6" ry="1.1" fill="#aaa"/><ellipse cx="667.8" cy="76.0" rx="0.7" ry="1.1" fill="#222"/><ellipse cx="668.1" cy="95.4" rx="0.9" ry="0.8" fill="#999"/><ellipse cx="669.5" cy="96.6" rx="1.0" ry="1.2" fill="#999"/><ellipse cx="670.1" cy="97.1" rx="0.7" ry="0.9" fill="#e0e0e0"/><ellipse cx="600.4" cy="126.0" rx="0.9" ry="0.7" fill="#aaa"/><ellipse cx="595.7" cy="120.6" rx="0.6" ry="0.9" fill="#999"/><ellipse cx="593.5" cy="129.4" rx="0.5" ry="1.4" fill="#e0e0e0"/><ellipse cx="606.8" cy="127.3" rx="0.5" ry="1.2" fill="#222"/><ellipse cx="607.4" cy="128.4" rx="0.6" ry="1.1" fill="#aaa"/><ellipse cx="605.9" cy="125.0" rx="0.7" ry="0.6" fill="#222"/><ellipse cx="610.7" cy="132.2" rx="0.8" ry="0.8" fill="#c5c5c5"/><ellipse cx="617.5" cy="130.8" rx="0.7" ry="1.3" fill="#222"/><ellipse cx="616.0" cy="126.9" rx="1.0" ry="1.1" fill="#aaa"/><ellipse cx="620.2" cy="129.2" rx="0.6" ry="1.3" fill="#222"/><ellipse cx="622.5" cy="133.2" rx="0.7" ry="1.1" fill="#999"/><ellipse cx="625.2" cy="131.7" rx="0.5" ry="1.1" fill="#999"/><ellipse cx="628.9" cy="124.3" rx="0.7" ry="1.3" fill="#999"/><ellipse cx="632.6" cy="129.0" rx="0.5" ry="0.9" fill="#c5c5c5"/><ellipse cx="630.4" cy="130.3" rx="0.9" ry="0.8" fill="#c5c5c5"/><ellipse cx="640.1" cy="125.3" rx="0.7" ry="1.1" fill="#999"/><ellipse cx="639.6" cy="135.0" rx="0.7" ry="1.1" fill="#e0e0e0"/><ellipse cx="642.0" cy="132.6" rx="0.8" ry="1.4" fill="#aaa"/><ellipse cx="650.2" cy="131.9" rx="0.7" ry="1.2" fill="#999"/><ellipse cx="650.5" cy="125.6" rx="0.9" ry="0.6" fill="#c5c5c5"/><ellipse cx="643.9" cy="130.8" rx="0.9" ry="1.5" fill="#999"/><ellipse cx="657.3" cy="129.4" rx="1.0" ry="1.3" fill="#999"/><ellipse cx="656.9" cy="128.9" rx="0.6" ry="0.7" fill="#1c1c1c"/><ellipse cx="656.5" cy="128.9" rx="0.9" ry="1.2" fill="#999"/><ellipse cx="664.5" cy="121.1" rx="0.5" ry="0.7" fill="#1c1c1c"/><ellipse cx="664.3" cy="114.0" rx="0.7" ry="0.7" fill="#e0e0e0"/><ellipse cx="659.5" cy="116.3" rx="0.9" ry="0.7" fill="#e0e0e0"/><ellipse cx="663.1" cy="129.1" rx="0.7" ry="0.8" fill="#1c1c1c"/><ellipse cx="667.3" cy="129.5" rx="1.0" ry="0.9" fill="#e0e0e0"/><ellipse cx="663.6" cy="127.3" rx="0.7" ry="0.8" fill="#aaa"/><ellipse cx="638.8" cy="115.1" rx="0.8" ry="0.6" fill="#aaa"/><ellipse cx="633.7" cy="114.7" rx="0.7" ry="0.8" fill="#222"/><ellipse cx="634.7" cy="115.7" rx="0.7" ry="1.2" fill="#222"/><ellipse cx="646.2" cy="117.0" rx="0.6" ry="1.3" fill="#222"/><ellipse cx="649.6" cy="114.3" rx="0.7" ry="0.8" fill="#aaa"/><ellipse cx="649.0" cy="117.4" rx="0.9" ry="0.9" fill="#1c1c1c"/><ellipse cx="655.9" cy="115.6" rx="0.6" ry="1.0" fill="#222"/><ellipse cx="659.7" cy="116.5" rx="1.0" ry="0.6" fill="#c5c5c5"/><ellipse cx="658.9" cy="115.3" rx="0.5" ry="0.7" fill="#999"/><ellipse cx="574.9" cy="137.6" rx="0.7" ry="0.7" fill="#c5c5c5"/><ellipse cx="580.3" cy="134.6" rx="0.6" ry="1.4" fill="#222"/><ellipse cx="575.8" cy="136.7" rx="0.9" ry="1.4" fill="#e0e0e0"/><ellipse cx="572.5" cy="151.1" rx="0.5" ry="0.7" fill="#999"/><ellipse cx="575.9" cy="149.3" rx="1.0" ry="0.8" fill="#e0e0e0"/><ellipse cx="574.4" cy="146.3" rx="0.9" ry="0.7" fill="#222"/><ellipse cx="564.1" cy="152.5" rx="1.0" ry="0.8" fill="#e0e0e0"/><ellipse cx="566.0" cy="149.3" rx="0.8" ry="0.8" fill="#222"/><ellipse cx="566.3" cy="150.5" rx="0.5" ry="0.7" fill="#c5c5c5"/><ellipse cx="592.0" cy="157.6" rx="0.9" ry="0.9" fill="#e0e0e0"/><ellipse cx="589.2" cy="157.6" rx="0.5" ry="1.3" fill="#222"/><ellipse cx="590.9" cy="156.1" rx="0.5" ry="1.3" fill="#222"/><ellipse cx="589.8" cy="160.5" rx="0.9" ry="0.7" fill="#222"/><ellipse cx="592.1" cy="160.0" rx="0.7" ry="0.8" fill="#999"/><ellipse cx="588.9" cy="159.4" rx="0.7" ry="0.6" fill="#222"/><ellipse cx="599.3" cy="152.6" rx="0.6" ry="0.8" fill="#e0e0e0"/><ellipse cx="597.3" cy="150.8" rx="0.8" ry="1.1" fill="#999"/><ellipse cx="600.2" cy="148.3" rx="0.5" ry="0.6" fill="#1c1c1c"/><ellipse cx="498.2" cy="131.5" rx="0.7" ry="0.7" fill="#c5c5c5"/><ellipse cx="499.9" cy="133.8" rx="0.5" ry="1.0" fill="#222"/><ellipse cx="502.0" cy="131.7" rx="0.6" ry="1.0" fill="#222"/><ellipse cx="494.3" cy="140.0" rx="0.9" ry="1.3" fill="#e0e0e0"/><ellipse cx="493.2" cy="140.0" rx="0.7" ry="1.3" fill="#aaa"/><ellipse cx="492.2" cy="137.8" rx="0.6" ry="0.9" fill="#1c1c1c"/><ellipse cx="484.7" cy="139.8" rx="0.6" ry="0.8" fill="#1c1c1c"/><ellipse cx="484.5" cy="142.1" rx="0.8" ry="1.5" fill="#c5c5c5"/><ellipse cx="488.3" cy="138.2" rx="0.6" ry="1.0" fill="#e0e0e0"/><ellipse cx="480.2" cy="140.6" rx="0.6" ry="0.8" fill="#1c1c1c"/><ellipse cx="478.6" cy="141.7" rx="0.8" ry="0.8" fill="#1c1c1c"/><ellipse cx="477.8" cy="143.7" rx="1.0" ry="0.7" fill="#1c1c1c"/><ellipse cx="538.7" cy="127.7" rx="0.5" ry="0.9" fill="#c5c5c5"/><ellipse cx="539.5" cy="131.3" rx="0.8" ry="1.2" fill="#aaa"/><ellipse cx="540.1" cy="126.9" rx="0.7" ry="0.9" fill="#1c1c1c"/><ellipse cx="501.3" cy="151.0" rx="0.9" ry="1.1" fill="#c5c5c5"/><ellipse cx="498.9" cy="151.1" rx="0.8" ry="0.7" fill="#1c1c1c"/><ellipse cx="503.7" cy="150.1" rx="0.8" ry="1.0" fill="#e0e0e0"/><ellipse cx="495.0" cy="152.2" rx="0.5" ry="1.3" fill="#e0e0e0"/><ellipse cx="495.0" cy="154.7" rx="0.9" ry="1.3" fill="#222"/><ellipse cx="497.0" cy="156.7" rx="0.6" ry="0.6" fill="#aaa"/><ellipse cx="534.4" cy="143.6" rx="0.7" ry="1.4" fill="#999"/><ellipse cx="539.5" cy="140.4" rx="0.5" ry="0.7" fill="#999"/><ellipse cx="542.9" cy="143.6" rx="0.7" ry="1.1" fill="#aaa"/><ellipse cx="533.1" cy="152.0" rx="0.6" ry="0.7" fill="#999"/><ellipse cx="530.7" cy="150.3" rx="1.0" ry="0.8" fill="#aaa"/><ellipse cx="534.9" cy="148.4" rx="1.0" ry="0.9" fill="#1c1c1c"/><ellipse cx="549.6" cy="152.8" rx="1.0" ry="1.2" fill="#aaa"/><ellipse cx="544.4" cy="150.8" rx="0.8" ry="1.2" fill="#aaa"/><ellipse cx="548.2" cy="152.1" rx="0.6" ry="1.0" fill="#1c1c1c"/><ellipse cx="557.5" cy="162.2" rx="0.6" ry="1.5" fill="#aaa"/><ellipse cx="559.1" cy="160.9" rx="0.9" ry="0.6" fill="#e0e0e0"/><ellipse cx="558.4" cy="162.2" rx="0.8" ry="1.2" fill="#e0e0e0"/><ellipse cx="474.3" cy="165.2" rx="0.6" ry="1.0" fill="#e0e0e0"/><ellipse cx="472.9" cy="168.0" rx="0.5" ry="1.2" fill="#999"/><ellipse cx="472.8" cy="167.7" rx="0.8" ry="1.3" fill="#aaa"/><ellipse cx="487.2" cy="162.7" rx="0.5" ry="0.9" fill="#e0e0e0"/><ellipse cx="488.8" cy="166.6" rx="0.8" ry="0.6" fill="#222"/><ellipse cx="489.3" cy="168.0" rx="0.7" ry="1.2" fill="#c5c5c5"/><ellipse cx="498.8" cy="168.3" rx="0.7" ry="1.5" fill="#aaa"/><ellipse cx="497.7" cy="167.4" rx="0.8" ry="1.2" fill="#c5c5c5"/><ellipse cx="497.5" cy="171.8" rx="0.7" ry="1.5" fill="#aaa"/><ellipse cx="498.8" cy="172.3" rx="0.6" ry="1.3" fill="#1c1c1c"/><ellipse cx="500.1" cy="173.8" rx="0.9" ry="0.8" fill="#999"/><ellipse cx="501.7" cy="178.8" rx="1.0" ry="0.8" fill="#e0e0e0"/><ellipse cx="496.6" cy="184.4" rx="0.7" ry="0.8" fill="#999"/><ellipse cx="500.0" cy="190.3" rx="0.8" ry="1.4" fill="#aaa"/><ellipse cx="498.6" cy="183.5" rx="0.9" ry="0.6" fill="#e0e0e0"/><ellipse cx="496.7" cy="193.6" rx="0.8" ry="1.2" fill="#c5c5c5"/><ellipse cx="494.0" cy="197.1" rx="0.9" ry="1.3" fill="#e0e0e0"/><ellipse cx="493.6" cy="198.3" rx="0.8" ry="0.9" fill="#c5c5c5"/><ellipse cx="486.0" cy="203.0" rx="0.9" ry="0.6" fill="#1c1c1c"/><ellipse cx="487.9" cy="206.1" rx="1.0" ry="1.1" fill="#222"/><ellipse cx="491.1" cy="199.6" rx="0.9" ry="0.8" fill="#e0e0e0"/><ellipse cx="470.4" cy="174.0" rx="0.8" ry="1.4" fill="#aaa"/><ellipse cx="469.5" cy="176.4" rx="0.5" ry="0.6" fill="#1c1c1c"/><ellipse cx="471.1" cy="177.8" rx="0.7" ry="0.8" fill="#1c1c1c"/><ellipse cx="481.5" cy="180.7" rx="0.7" ry="1.3" fill="#aaa"/><ellipse cx="484.2" cy="181.9" rx="0.6" ry="0.7" fill="#c5c5c5"/><ellipse cx="483.4" cy="179.8" rx="0.8" ry="0.8" fill="#e0e0e0"/><ellipse cx="514.7" cy="185.6" rx="0.9" ry="1.4" fill="#1c1c1c"/><ellipse cx="511.4" cy="183.1" rx="1.0" ry="1.3" fill="#aaa"/><ellipse cx="513.8" cy="187.9" rx="0.5" ry="0.6" fill="#aaa"/><ellipse cx="510.2" cy="200.1" rx="0.9" ry="0.6" fill="#1c1c1c"/><ellipse cx="508.8" cy="196.1" rx="0.7" ry="1.1" fill="#222"/><ellipse cx="506.5" cy="198.0" rx="0.9" ry="0.8" fill="#e0e0e0"/><ellipse cx="527.0" cy="190.4" rx="1.0" ry="1.3" fill="#999"/><ellipse cx="523.7" cy="187.6" rx="0.9" ry="1.3" fill="#999"/><ellipse cx="527.0" cy="190.7" rx="0.6" ry="1.5" fill="#e0e0e0"/><ellipse cx="528.3" cy="195.7" rx="0.7" ry="1.3" fill="#222"/><ellipse cx="530.2" cy="193.3" rx="0.5" ry="1.2" fill="#222"/><ellipse cx="524.7" cy="195.6" rx="0.8" ry="0.8" fill="#222"/><ellipse cx="544.4" cy="181.4" rx="0.5" ry="1.1" fill="#aaa"/><ellipse cx="539.9" cy="187.6" rx="0.9" ry="1.5" fill="#222"/><ellipse cx="542.2" cy="182.5" rx="0.7" ry="1.1" fill="#999"/><ellipse cx="540.8" cy="196.0" rx="0.8" ry="1.2" fill="#1c1c1c"/><ellipse cx="534.4" cy="199.0" rx="0.8" ry="1.4" fill="#999"/><ellipse cx="540.2" cy="197.4" rx="0.9" ry="1.3" fill="#999"/><ellipse cx="548.9" cy="178.7" rx="1.0" ry="0.7" fill="#c5c5c5"/><ellipse cx="552.6" cy="182.6" rx="0.6" ry="1.5" fill="#222"/><ellipse cx="551.7" cy="180.5" rx="0.8" ry="1.2" fill="#222"/><ellipse cx="553.6" cy="192.9" rx="0.9" ry="1.3" fill="#aaa"/><ellipse cx="553.7" cy="188.0" rx="0.9" ry="0.7" fill="#222"/><ellipse cx="553.8" cy="191.4" rx="0.6" ry="0.7" fill="#c5c5c5"/><ellipse cx="553.9" cy="202.9" rx="0.9" ry="0.7" fill="#222"/><ellipse cx="548.2" cy="202.1" rx="0.6" ry="1.3" fill="#222"/><ellipse cx="550.8" cy="206.4" rx="0.7" ry="0.6" fill="#e0e0e0"/><ellipse cx="563.9" cy="168.3" rx="0.9" ry="1.4" fill="#1c1c1c"/><ellipse cx="557.5" cy="169.0" rx="0.8" ry="0.6" fill="#999"/><ellipse cx="565.6" cy="169.7" rx="0.5" ry="1.0" fill="#c5c5c5"/><ellipse cx="570.1" cy="167.7" rx="0.9" ry="0.7" fill="#e0e0e0"/><ellipse cx="572.9" cy="169.3" rx="0.6" ry="1.3" fill="#c5c5c5"/><ellipse cx="575.0" cy="168.2" rx="0.7" ry="1.3" fill="#aaa"/><ellipse cx="571.8" cy="189.5" rx="1.0" ry="1.1" fill="#1c1c1c"/><ellipse cx="570.7" cy="189.3" rx="0.6" ry="1.2" fill="#999"/><ellipse cx="570.6" cy="193.7" rx="0.9" ry="1.0" fill="#222"/><ellipse cx="576.2" cy="190.5" rx="0.7" ry="0.7" fill="#999"/><ellipse cx="581.5" cy="189.1" rx="0.7" ry="1.2" fill="#e0e0e0"/><ellipse cx="578.9" cy="193.1" rx="1.0" ry="1.1" fill="#999"/><ellipse cx="591.4" cy="189.8" rx="1.0" ry="0.7" fill="#1c1c1c"/><ellipse cx="588.3" cy="186.9" rx="0.8" ry="0.9" fill="#e0e0e0"/><ellipse cx="584.3" cy="189.6" rx="0.7" ry="1.1" fill="#e0e0e0"/><ellipse cx="598.4" cy="188.7" rx="0.9" ry="1.1" fill="#aaa"/><ellipse cx="595.7" cy="189.2" rx="0.8" ry="1.1" fill="#e0e0e0"/><ellipse cx="596.2" cy="189.7" rx="0.9" ry="0.7" fill="#aaa"/><ellipse cx="573.6" cy="203.6" rx="0.8" ry="0.9" fill="#aaa"/><ellipse cx="569.2" cy="205.9" rx="1.0" ry="1.3" fill="#c5c5c5"/><ellipse cx="571.8" cy="207.0" rx="0.6" ry="0.7" fill="#aaa"/><ellipse cx="611.7" cy="178.2" rx="0.7" ry="0.8" fill="#222"/><ellipse cx="612.5" cy="180.4" rx="0.9" ry="1.0" fill="#c5c5c5"/><ellipse cx="608.6" cy="183.7" rx="0.8" ry="1.1" fill="#222"/><ellipse cx="663.3" cy="130.2" rx="0.6" ry="1.3" fill="#c5c5c5"/><ellipse cx="663.5" cy="125.3" rx="0.7" ry="1.1" fill="#222"/><ellipse cx="661.8" cy="126.1" rx="0.8" ry="1.2" fill="#222"/><ellipse cx="451.0" cy="152.4" rx="0.8" ry="1.2" fill="#999"/><ellipse cx="450.1" cy="157.0" rx="0.9" ry="1.4" fill="#aaa"/><ellipse cx="452.9" cy="152.7" rx="0.8" ry="0.8" fill="#999"/><ellipse cx="458.6" cy="159.3" rx="0.9" ry="1.1" fill="#222"/><ellipse cx="462.0" cy="158.2" rx="0.8" ry="1.3" fill="#999"/><ellipse cx="462.2" cy="155.6" rx="0.6" ry="0.8" fill="#aaa"/><ellipse cx="437.1" cy="172.5" rx="1.0" ry="1.1" fill="#c5c5c5"/><ellipse cx="436.7" cy="166.6" rx="0.6" ry="1.0" fill="#c5c5c5"/><ellipse cx="432.7" cy="165.9" rx="0.8" ry="1.0" fill="#999"/><ellipse cx="446.0" cy="169.4" rx="0.7" ry="1.3" fill="#c5c5c5"/><ellipse cx="444.7" cy="162.9" rx="0.8" ry="0.8" fill="#999"/><ellipse cx="443.9" cy="167.0" rx="0.7" ry="1.0" fill="#222"/><ellipse cx="448.8" cy="168.3" rx="0.6" ry="0.9" fill="#999"/><ellipse cx="452.9" cy="170.0" rx="0.6" ry="1.3" fill="#999"/><ellipse cx="448.3" cy="171.6" rx="1.0" ry="0.7" fill="#222"/><ellipse cx="459.3" cy="170.2" rx="0.9" ry="1.3" fill="#aaa"/><ellipse cx="456.2" cy="169.7" rx="0.9" ry="1.3" fill="#999"/><ellipse cx="461.8" cy="167.0" rx="0.8" ry="1.3" fill="#999"/><ellipse cx="441.8" cy="182.2" rx="0.6" ry="0.9" fill="#e0e0e0"/><ellipse cx="447.5" cy="178.7" rx="0.7" ry="1.3" fill="#e0e0e0"/><ellipse cx="442.1" cy="181.7" rx="0.7" ry="1.0" fill="#1c1c1c"/><ellipse cx="450.8" cy="181.3" rx="0.7" ry="1.4" fill="#999"/><ellipse cx="457.1" cy="185.6" rx="1.0" ry="1.3" fill="#aaa"/><ellipse cx="450.5" cy="183.6" rx="0.8" ry="1.2" fill="#aaa"/><ellipse cx="429.0" cy="191.1" rx="0.6" ry="0.7" fill="#aaa"/><ellipse cx="427.2" cy="190.5" rx="0.7" ry="1.3" fill="#aaa"/><ellipse cx="428.9" cy="190.0" rx="0.6" ry="1.4" fill="#1c1c1c"/><ellipse cx="420.7" cy="197.9" rx="1.0" ry="1.1" fill="#222"/><ellipse cx="420.1" cy="196.4" rx="0.8" ry="1.1" fill="#222"/><ellipse cx="420.7" cy="195.3" rx="0.6" ry="0.7" fill="#999"/><ellipse cx="470.4" cy="168.3" rx="0.7" ry="0.7" fill="#999"/><ellipse cx="473.3" cy="163.8" rx="0.6" ry="0.7" fill="#1c1c1c"/><ellipse cx="471.3" cy="164.7" rx="0.9" ry="1.0" fill="#1c1c1c"/><ellipse cx="471.9" cy="176.1" rx="0.7" ry="1.0" fill="#222"/><ellipse cx="477.1" cy="177.9" rx="0.8" ry="0.6" fill="#1c1c1c"/><ellipse cx="477.6" cy="177.3" rx="1.0" ry="1.3" fill="#c5c5c5"/><ellipse cx="475.4" cy="166.9" rx="0.9" ry="0.6" fill="#222"/><ellipse cx="476.6" cy="168.2" rx="0.5" ry="1.2" fill="#e0e0e0"/><ellipse cx="475.3" cy="167.7" rx="0.9" ry="0.8" fill="#999"/><ellipse cx="453.1" cy="196.2" rx="0.5" ry="0.9" fill="#e0e0e0"/><ellipse cx="455.3" cy="191.6" rx="0.8" ry="0.8" fill="#1c1c1c"/><ellipse cx="453.1" cy="196.0" rx="0.7" ry="0.7" fill="#aaa"/><ellipse cx="457.3" cy="204.7" rx="0.8" ry="1.2" fill="#c5c5c5"/><ellipse cx="456.0" cy="204.3" rx="0.7" ry="1.1" fill="#999"/><ellipse cx="457.8" cy="203.9" rx="0.6" ry="1.4" fill="#1c1c1c"/><ellipse cx="463.4" cy="173.4" rx="0.8" ry="1.1" fill="#999"/><ellipse cx="460.8" cy="172.9" rx="0.8" ry="1.1" fill="#222"/><ellipse cx="464.6" cy="175.9" rx="0.8" ry="1.2" fill="#aaa"/><ellipse cx="471.8" cy="187.5" rx="0.5" ry="1.3" fill="#222"/><ellipse cx="474.1" cy="186.5" rx="0.6" ry="0.9" fill="#222"/><ellipse cx="470.1" cy="188.9" rx="0.7" ry="0.9" fill="#999"/><ellipse cx="475.9" cy="182.6" rx="1.0" ry="1.0" fill="#1c1c1c"/><ellipse cx="479.6" cy="184.7" rx="0.9" ry="1.1" fill="#999"/><ellipse cx="477.0" cy="184.7" rx="0.7" ry="1.1" fill="#222"/><ellipse cx="436.1" cy="213.6" rx="0.7" ry="0.7" fill="#222"/><ellipse cx="426.7" cy="215.0" rx="0.8" ry="1.0" fill="#c5c5c5"/><ellipse cx="431.1" cy="211.7" rx="1.0" ry="0.7" fill="#c5c5c5"/><ellipse cx="443.4" cy="216.4" rx="0.9" ry="0.8" fill="#222"/><ellipse cx="442.0" cy="210.2" rx="0.7" ry="1.3" fill="#222"/><ellipse cx="444.7" cy="211.7" rx="0.5" ry="1.2" fill="#222"/><ellipse cx="450.5" cy="217.1" rx="0.9" ry="1.4" fill="#c5c5c5"/><ellipse cx="453.8" cy="215.2" rx="0.5" ry="1.2" fill="#1c1c1c"/><ellipse cx="456.5" cy="218.4" rx="0.9" ry="0.7" fill="#999"/><ellipse cx="452.3" cy="201.6" rx="1.0" ry="1.3" fill="#999"/><ellipse cx="453.3" cy="201.3" rx="0.9" ry="0.9" fill="#222"/><ellipse cx="456.1" cy="209.1" rx="0.7" ry="1.3" fill="#999"/><ellipse cx="434.3" cy="227.2" rx="0.8" ry="0.9" fill="#c5c5c5"/><ellipse cx="427.3" cy="225.6" rx="0.9" ry="1.1" fill="#1c1c1c"/><ellipse cx="429.9" cy="226.8" rx="0.6" ry="1.3" fill="#1c1c1c"/><ellipse cx="433.2" cy="229.1" rx="0.7" ry="1.2" fill="#1c1c1c"/><ellipse cx="437.5" cy="224.5" rx="0.7" ry="1.2" fill="#e0e0e0"/><ellipse cx="436.9" cy="230.2" rx="0.8" ry="1.3" fill="#c5c5c5"/><ellipse cx="423.7" cy="217.9" rx="0.9" ry="1.5" fill="#aaa"/><ellipse cx="423.6" cy="219.8" rx="0.9" ry="1.2" fill="#999"/><ellipse cx="423.1" cy="217.5" rx="0.8" ry="1.3" fill="#aaa"/><ellipse cx="475.3" cy="242.7" rx="1.0" ry="0.9" fill="#c5c5c5"/><ellipse cx="473.5" cy="244.0" rx="0.6" ry="0.8" fill="#c5c5c5"/><ellipse cx="475.2" cy="243.7" rx="0.5" ry="1.3" fill="#c5c5c5"/><ellipse cx="450.5" cy="283.1" rx="0.9" ry="1.4" fill="#1c1c1c"/><ellipse cx="448.9" cy="282.5" rx="0.6" ry="0.8" fill="#c5c5c5"/><ellipse cx="451.6" cy="283.2" rx="0.7" ry="1.1" fill="#999"/><ellipse cx="490.0" cy="198.5" rx="0.6" ry="1.4" fill="#999"/><ellipse cx="487.3" cy="204.5" rx="0.8" ry="1.3" fill="#aaa"/><ellipse cx="488.1" cy="204.8" rx="0.6" ry="1.1" fill="#c5c5c5"/><ellipse cx="527.2" cy="199.9" rx="0.9" ry="1.0" fill="#1c1c1c"/><ellipse cx="524.0" cy="203.0" rx="0.6" ry="0.7" fill="#999"/><ellipse cx="523.5" cy="195.3" rx="1.0" ry="0.8" fill="#c5c5c5"/><ellipse cx="547.9" cy="205.3" rx="0.7" ry="0.6" fill="#c5c5c5"/><ellipse cx="546.5" cy="199.4" rx="0.7" ry="1.5" fill="#c5c5c5"/><ellipse cx="552.2" cy="198.0" rx="1.0" ry="1.2" fill="#c5c5c5"/><ellipse cx="569.0" cy="209.7" rx="0.8" ry="1.5" fill="#222"/><ellipse cx="566.7" cy="205.9" rx="0.9" ry="0.9" fill="#aaa"/><ellipse cx="571.7" cy="205.9" rx="0.5" ry="0.8" fill="#e0e0e0"/><ellipse cx="564.9" cy="214.1" rx="0.5" ry="1.4" fill="#e0e0e0"/><ellipse cx="562.9" cy="209.7" rx="0.8" ry="1.5" fill="#c5c5c5"/><ellipse cx="564.0" cy="214.4" rx="0.5" ry="0.8" fill="#222"/><ellipse cx="581.0" cy="200.4" rx="0.9" ry="0.7" fill="#e0e0e0"/><ellipse cx="580.0" cy="199.5" rx="0.7" ry="0.9" fill="#999"/><ellipse cx="582.3" cy="199.5" rx="0.8" ry="0.6" fill="#222"/><ellipse cx="484.4" cy="232.7" rx="0.6" ry="1.3" fill="#c5c5c5"/><ellipse cx="484.8" cy="233.2" rx="0.9" ry="0.7" fill="#999"/><ellipse cx="485.2" cy="233.8" rx="0.7" ry="0.6" fill="#c5c5c5"/><ellipse cx="484.3" cy="148.8" rx="0.9" ry="1.0" fill="#222"/><ellipse cx="484.8" cy="149.8" rx="0.9" ry="0.8" fill="#999"/><ellipse cx="484.7" cy="147.4" rx="0.9" ry="0.8" fill="#999"/><ellipse cx="485.1" cy="158.6" rx="0.8" ry="0.9" fill="#aaa"/><ellipse cx="485.0" cy="158.9" rx="0.7" ry="1.0" fill="#aaa"/><ellipse cx="486.4" cy="156.8" rx="0.9" ry="1.2" fill="#aaa"/></g>
</g>
<rect x="79.6" y="1.6" width="665.6" height="350.7" fill="none" stroke="#1a1a1a" stroke-width="1.9"/>
<path d="M744.1 352.3v2.9M723.5 352.3v5.0M702.9 352.3v2.9M682.3 352.3v2.9M661.7 352.3v2.9M641.1 352.3v2.9M620.5 352.3v5.0M599.8 352.3v2.9M579.2 352.3v2.9M558.6 352.3v2.9M538.0 352.3v2.9M517.4 352.3v5.0M496.8 352.3v2.9M476.2 352.3v2.9M455.6 352.3v2.9M435.0 352.3v2.9M414.3 352.3v5.0M393.7 352.3v2.9M373.1 352.3v2.9M352.5 352.3v2.9M331.9 352.3v2.9M311.3 352.3v5.0M290.7 352.3v2.9M270.1 352.3v2.9M249.5 352.3v2.9M228.9 352.3v2.9M208.2 352.3v5.0M187.6 352.3v2.9M167.0 352.3v2.9M146.4 352.3v2.9M125.8 352.3v2.9M105.2 352.3v5.0M84.6 352.3v2.9" stroke="#1a1a1a" stroke-width="1.3" fill="none"/>
<path d="M79.6 12.2h-3.2M79.6 22.9h-3.2M79.6 33.7h-5.3M79.6 44.5h-3.2M79.6 55.2h-3.2M79.6 66.0h-3.2M79.6 76.8h-3.2M79.6 87.5h-5.3M79.6 98.3h-3.2M79.6 109.1h-3.2M79.6 119.9h-3.2M79.6 130.6h-3.2M79.6 141.4h-5.3M79.6 152.2h-3.2M79.6 162.9h-3.2M79.6 173.7h-3.2M79.6 184.5h-3.2M79.6 195.2h-5.3M79.6 206.0h-3.2M79.6 216.8h-3.2M79.6 227.6h-3.2M79.6 238.3h-3.2M79.6 249.1h-5.3M79.6 259.9h-3.2M79.6 270.6h-3.2M79.6 281.4h-3.2M79.6 292.2h-3.2M79.6 302.9h-5.3M79.6 313.7h-3.2M79.6 324.5h-3.2M79.6 335.3h-3.2M79.6 346.0h-3.2" stroke="#1a1a1a" stroke-width="1.3" fill="none"/>
<text x="72.7" y="40.1" text-anchor="end" class="tk" font-size="17.6" textLength="27.6" lengthAdjust="spacingAndGlyphs">105</text>
<text x="72.7" y="94.0" text-anchor="end" class="tk" font-size="17.6" textLength="27.6" lengthAdjust="spacingAndGlyphs">110</text>
<text x="72.7" y="147.8" text-anchor="end" class="tk" font-size="17.6" textLength="27.6" lengthAdjust="spacingAndGlyphs">115</text>
<text x="72.7" y="201.7" text-anchor="end" class="tk" font-size="17.6" textLength="27.6" lengthAdjust="spacingAndGlyphs">120</text>
<text x="72.7" y="255.5" text-anchor="end" class="tk" font-size="17.6" textLength="27.6" lengthAdjust="spacingAndGlyphs">125</text>
<text x="72.7" y="309.4" text-anchor="end" class="tk" font-size="17.6" textLength="27.6" lengthAdjust="spacingAndGlyphs">130</text>
<text x="723.5" y="372.4" text-anchor="middle" class="tk" font-size="17.6">6</text>
<text x="620.5" y="372.4" text-anchor="middle" class="tk" font-size="17.6">7</text>
<text x="517.4" y="372.4" text-anchor="middle" class="tk" font-size="17.6">8</text>
<text x="414.3" y="372.4" text-anchor="middle" class="tk" font-size="17.6">9</text>
<text x="311.3" y="372.4" text-anchor="middle" class="tk" font-size="17.6" textLength="18.8" lengthAdjust="spacingAndGlyphs">10</text>
<text x="208.2" y="372.4" text-anchor="middle" class="tk" font-size="17.6" textLength="18.8" lengthAdjust="spacingAndGlyphs">11</text>
<text x="105.2" y="372.4" text-anchor="middle" class="tk" font-size="17.6" textLength="18.8" lengthAdjust="spacingAndGlyphs">12</text>
<text x="125.2" y="60.0" class="ti">A</text>
<text x="159.2" y="60.0" class="ti" textLength="117.2" lengthAdjust="spacingAndGlyphs">Wild-type</text>
<text x="414.5" y="38.0" class="an" textLength="26.3" lengthAdjust="spacingAndGlyphs">G95</text>
<path d="M442.6 37.0L459.8 30.0M449.9 28.6L459.8 30.0L453.7 37.9" stroke="#111" stroke-width="1.8" fill="none" stroke-linecap="round" stroke-linejoin="round"/>
<text x="699.8" y="73.2" class="an" textLength="33.0" lengthAdjust="spacingAndGlyphs">Y105</text>
<path d="M713.2 82.5L689.8 90.0M699.6 92.1L689.8 90.0L696.5 82.6" stroke="#111" stroke-width="1.8" fill="none" stroke-linecap="round" stroke-linejoin="round"/>
<text x="639.8" y="183.5" class="an" textLength="31.0" lengthAdjust="spacingAndGlyphs">L101</text>
<path d="M639.4 189.5L629.8 206.8M638.4 201.7L629.8 206.8L629.6 196.8" stroke="#111" stroke-width="1.8" fill="none" stroke-linecap="round" stroke-linejoin="round"/>
<text x="686.5" y="292.5" class="an" textLength="35.2" lengthAdjust="spacingAndGlyphs">N106</text>
<path d="M686.9 279.5L660.7 230.8M660.4 240.8L660.7 230.8L669.2 236.1" stroke="#111" stroke-width="1.8" fill="none" stroke-linecap="round" stroke-linejoin="round"/>
<text x="293.7" y="274.0" class="an" textLength="26.3" lengthAdjust="spacingAndGlyphs">D79</text>
<path d="M311.0 282.0L333.0 292.8M327.4 284.5L333.0 292.8L323.0 293.5" stroke="#111" stroke-width="1.8" fill="none" stroke-linecap="round" stroke-linejoin="round"/>
<text x="167.4" y="235.4" class="an2" textLength="47.2" lengthAdjust="spacingAndGlyphs">W103</text>
<text x="167.4" y="259.5" class="an2" textLength="82.7" lengthAdjust="spacingAndGlyphs">Indole NH</text>
<path d="M236.0 271.0L257.3 287.0M253.4 277.8L257.3 287.0L247.4 285.8" stroke="#111" stroke-width="1.8" fill="none" stroke-linecap="round" stroke-linejoin="round"/>
<g filter="url(#bl)">
<path d="M588.0 473.1L600.1 462.0L660.1 462.0L664.8 471.1L665.6 496.1L660.1 514.1L615.1 516.5L595.1 511.1L587.0 496.1Z" fill="url(#hat)" stroke="#7a7a7a" stroke-width="0.6"/>
<path d="M580.0 552.0L596.0 555.0L613.0 561.0L598.0 567.0L580.0 568.0Z" fill="url(#hat)" stroke="#7a7a7a" stroke-width="0.6"/>
<g fill="url(#hat)" stroke="#777" stroke-width="0.6"><ellipse cx="534.0" cy="462.9" rx="7.8" ry="8.7"/><ellipse cx="565.0" cy="472.0" rx="9.2" ry="10.6"/><ellipse cx="559.9" cy="481.9" rx="8.2" ry="10.6"/><ellipse cx="570.2" cy="483.6" rx="8.2" ry="11.6"/><ellipse cx="563.3" cy="495.1" rx="9.2" ry="10.6"/><ellipse cx="575.4" cy="493.5" rx="8.2" ry="11.6"/><ellipse cx="571.9" cy="505.0" rx="9.2" ry="9.7"/><ellipse cx="582.2" cy="488.5" rx="7.3" ry="11.6"/><ellipse cx="580.5" cy="513.3" rx="8.2" ry="9.7"/><ellipse cx="577.1" cy="523.2" rx="8.2" ry="8.7"/><ellipse cx="568.5" cy="524.9" rx="7.3" ry="7.8"/><ellipse cx="594.3" cy="524.9" rx="6.4" ry="6.8"/><ellipse cx="577.7" cy="511.3" rx="8.0" ry="10.7"/><ellipse cx="573.7" cy="524.7" rx="8.0" ry="11.8"/><ellipse cx="565.7" cy="526.6" rx="6.9" ry="8.5"/><ellipse cx="591.6" cy="528.5" rx="10.2" ry="8.5" transform="rotate(-30 591.6 528.5)"/><ellipse cx="494.2" cy="512.3" rx="8.0" ry="8.5"/><ellipse cx="484.3" cy="513.2" rx="8.5" ry="9.0"/><ellipse cx="478.3" cy="515.1" rx="8.0" ry="8.5"/><ellipse cx="502.2" cy="523.7" rx="8.0" ry="8.5"/><ellipse cx="496.2" cy="528.5" rx="6.9" ry="7.4"/><ellipse cx="538.9" cy="517.0" rx="10.2" ry="7.9"/><ellipse cx="546.9" cy="528.5" rx="8.5" ry="9.0"/><ellipse cx="555.8" cy="534.2" rx="8.0" ry="8.5"/><ellipse cx="476.3" cy="540.9" rx="9.1" ry="8.5"/><ellipse cx="486.3" cy="538.9" rx="9.1" ry="8.5"/><ellipse cx="496.2" cy="540.9" rx="8.0" ry="9.6"/><ellipse cx="498.2" cy="559.0" rx="7.5" ry="9.6"/><ellipse cx="494.2" cy="566.6" rx="8.0" ry="8.5"/><ellipse cx="472.4" cy="549.4" rx="6.9" ry="9.6"/><ellipse cx="482.3" cy="552.3" rx="6.9" ry="7.9"/><ellipse cx="516.1" cy="549.4" rx="7.5" ry="9.6"/><ellipse cx="513.1" cy="559.0" rx="8.0" ry="10.7"/><ellipse cx="510.1" cy="570.4" rx="8.5" ry="9.6"/><ellipse cx="524.0" cy="561.8" rx="8.0" ry="8.5"/><ellipse cx="528.0" cy="566.6" rx="8.0" ry="8.5"/><ellipse cx="539.9" cy="557.0" rx="9.1" ry="11.8"/><ellipse cx="537.9" cy="570.4" rx="8.0" ry="9.6"/><ellipse cx="551.8" cy="564.7" rx="8.0" ry="9.6"/><ellipse cx="549.8" cy="576.1" rx="8.0" ry="8.5"/><ellipse cx="577.7" cy="563.7" rx="9.1" ry="7.9"/><ellipse cx="587.6" cy="562.8" rx="8.0" ry="7.9"/><ellipse cx="569.7" cy="576.1" rx="8.0" ry="8.5"/><ellipse cx="452.7" cy="530.4" rx="8.0" ry="8.5"/><ellipse cx="460.7" cy="533.2" rx="8.0" ry="8.5"/><ellipse cx="445.8" cy="539.9" rx="8.0" ry="8.5"/><ellipse cx="450.7" cy="544.7" rx="8.0" ry="8.5"/><ellipse cx="458.7" cy="540.9" rx="8.0" ry="8.5"/><ellipse cx="444.8" cy="552.3" rx="8.0" ry="8.5"/><ellipse cx="453.7" cy="557.0" rx="8.5" ry="9.0"/><ellipse cx="470.6" cy="539.9" rx="8.5" ry="9.6"/><ellipse cx="474.6" cy="549.4" rx="8.0" ry="9.6"/><ellipse cx="478.5" cy="540.9" rx="8.0" ry="9.6"/><ellipse cx="454.7" cy="566.6" rx="7.5" ry="9.0"/><ellipse cx="458.7" cy="574.2" rx="7.5" ry="9.6"/><ellipse cx="463.6" cy="548.5" rx="8.0" ry="8.5"/><ellipse cx="470.6" cy="559.0" rx="8.0" ry="9.6"/><ellipse cx="478.5" cy="557.0" rx="6.9" ry="9.6"/><ellipse cx="432.8" cy="585.5" rx="10.2" ry="10.7"/><ellipse cx="442.8" cy="586.4" rx="9.1" ry="9.6"/><ellipse cx="454.7" cy="588.4" rx="8.5" ry="9.6"/><ellipse cx="454.7" cy="576.0" rx="8.0" ry="11.8"/><ellipse cx="430.9" cy="599.8" rx="9.1" ry="11.3"/><ellipse cx="437.8" cy="597.9" rx="8.5" ry="9.6"/><ellipse cx="523.0" cy="571.2" rx="8.0" ry="8.5"/><ellipse cx="549.8" cy="573.1" rx="8.0" ry="9.6"/><ellipse cx="568.7" cy="577.9" rx="9.1" ry="9.6" transform="rotate(20 568.7 577.9)"/><ellipse cx="561.8" cy="584.5" rx="8.0" ry="8.5"/><ellipse cx="581.6" cy="570.3" rx="9.1" ry="7.4"/><ellipse cx="486.4" cy="522.7" rx="6.9" ry="8.5"/><ellipse cx="485.4" cy="531.3" rx="6.9" ry="8.5"/><ellipse cx="596.1" cy="467.1" rx="8.5" ry="10.7" transform="rotate(0.1 596.1 467.1)"/><ellipse cx="667.2" cy="466.1" rx="6.4" ry="9.6" transform="rotate(0.1 667.2 466.1)"/><ellipse cx="606.1" cy="477.1" rx="6.4" ry="14.0" transform="rotate(0.1 606.1 477.1)"/><ellipse cx="635.1" cy="483.1" rx="5.8" ry="11.8" transform="rotate(0.1 635.1 483.1)"/><ellipse cx="646.1" cy="490.1" rx="6.4" ry="16.2" transform="rotate(0.1 646.1 490.1)"/><ellipse cx="643.1" cy="500.1" rx="5.8" ry="11.8" transform="rotate(0.1 643.1 500.1)"/><ellipse cx="622.1" cy="478.1" rx="5.6" ry="10.7" transform="rotate(0.1 622.1 478.1)"/><ellipse cx="599.1" cy="490.1" rx="6.4" ry="11.8" transform="rotate(0.1 599.1 490.1)"/><ellipse cx="609.1" cy="496.1" rx="5.8" ry="9.6" transform="rotate(0.1 609.1 496.1)"/><ellipse cx="585.0" cy="484.1" rx="6.9" ry="14.0" transform="rotate(0.1 585.0 484.1)"/><ellipse cx="593.1" cy="498.1" rx="7.5" ry="14.0" transform="rotate(0.1 593.1 498.1)"/><ellipse cx="602.1" cy="504.1" rx="7.5" ry="12.9" transform="rotate(0.1 602.1 504.1)"/><ellipse cx="585.0" cy="508.1" rx="8.0" ry="12.9" transform="rotate(0.1 585.0 508.1)"/><ellipse cx="577.0" cy="496.1" rx="7.5" ry="12.9" transform="rotate(0.1 577.0 496.1)"/><ellipse cx="612.1" cy="510.1" rx="6.9" ry="9.6" transform="rotate(0.1 612.1 510.1)"/><ellipse cx="621.1" cy="512.1" rx="6.4" ry="8.5" transform="rotate(0.1 621.1 512.1)"/></g>
<g class="pl"><text x="455.1" y="404.8" textLength="14.9" lengthAdjust="spacingAndGlyphs">G95</text><text x="440.4" y="436.2" textLength="14.9" lengthAdjust="spacingAndGlyphs">G64</text><text x="399.5" y="443.3" textLength="14.9" lengthAdjust="spacingAndGlyphs">G97</text><text x="423.9" y="442.9" textLength="19.8" lengthAdjust="spacingAndGlyphs">G187</text><text x="438.8" y="449.5" textLength="19.8" lengthAdjust="spacingAndGlyphs">C157</text><text x="464.6" y="447.6" textLength="19.8" lengthAdjust="spacingAndGlyphs">G135</text><text x="453.7" y="460.4" textLength="19.8" lengthAdjust="spacingAndGlyphs">W103</text><text x="416.0" y="473.0" textLength="14.9" lengthAdjust="spacingAndGlyphs">G80</text><text x="437.4" y="479.6" textLength="19.8" lengthAdjust="spacingAndGlyphs">G174</text><text x="472.4" y="403.8" textLength="19.8" lengthAdjust="spacingAndGlyphs">G108</text><text x="495.2" y="404.4" textLength="19.8" lengthAdjust="spacingAndGlyphs">G111</text><text x="537.3" y="407.6" textLength="19.8" lengthAdjust="spacingAndGlyphs">T201</text><text x="565.7" y="395.6" textLength="14.9" lengthAdjust="spacingAndGlyphs">G34</text><text x="578.6" y="404.8" textLength="14.9" lengthAdjust="spacingAndGlyphs">A14</text><text x="597.5" y="423.8" textLength="14.9" lengthAdjust="spacingAndGlyphs">T40</text><text x="490.8" y="428.6" textLength="14.9" lengthAdjust="spacingAndGlyphs">S68</text><text x="506.1" y="434.3" textLength="19.8" lengthAdjust="spacingAndGlyphs">G200</text><text x="563.7" y="441.9" textLength="14.9" lengthAdjust="spacingAndGlyphs">A99</text><text x="530.0" y="448.2" textLength="14.9" lengthAdjust="spacingAndGlyphs">G97</text><text x="551.4" y="457.7" textLength="19.8" lengthAdjust="spacingAndGlyphs">G147</text><text x="508.1" y="464.2" textLength="14.9" lengthAdjust="spacingAndGlyphs">G19</text><text x="540.9" y="456.2" textLength="14.9" lengthAdjust="spacingAndGlyphs">S58</text><text x="535.9" y="466.7" textLength="19.8" lengthAdjust="spacingAndGlyphs">S165</text><text x="518.1" y="474.7" textLength="19.8" lengthAdjust="spacingAndGlyphs">S152</text><text x="503.6" y="480.4" textLength="14.9" lengthAdjust="spacingAndGlyphs">L65</text><text x="544.9" y="479.1" textLength="9.9" lengthAdjust="spacingAndGlyphs">R2</text><text x="470.4" y="476.2" textLength="19.8" lengthAdjust="spacingAndGlyphs">T189</text><text x="522.4" y="459.1" textLength="9.9" lengthAdjust="spacingAndGlyphs">G1</text><text x="467.4" y="495.6" textLength="14.9" lengthAdjust="spacingAndGlyphs">G42</text><text x="515.1" y="501.8" textLength="19.8" lengthAdjust="spacingAndGlyphs">C169</text><text x="489.3" y="505.6" textLength="9.9" lengthAdjust="spacingAndGlyphs">M1</text><text x="509.1" y="507.5" textLength="9.9" lengthAdjust="spacingAndGlyphs">23</text><text x="544.9" y="505.6" textLength="14.9" lengthAdjust="spacingAndGlyphs">R14</text><text x="510.1" y="515.1" textLength="14.9" lengthAdjust="spacingAndGlyphs">C78</text><text x="530.0" y="513.2" textLength="19.8" lengthAdjust="spacingAndGlyphs">S175</text><text x="508.1" y="534.2" textLength="19.8" lengthAdjust="spacingAndGlyphs">R161</text><text x="500.2" y="538.0" textLength="14.9" lengthAdjust="spacingAndGlyphs">T79</text><text x="494.2" y="534.2" textLength="14.9" lengthAdjust="spacingAndGlyphs">V89</text><text x="501.2" y="544.7" textLength="14.9" lengthAdjust="spacingAndGlyphs">I94</text><text x="518.1" y="546.6" textLength="9.9" lengthAdjust="spacingAndGlyphs">44</text><text x="502.2" y="555.1" textLength="9.9" lengthAdjust="spacingAndGlyphs">76</text><text x="502.2" y="561.8" textLength="9.9" lengthAdjust="spacingAndGlyphs">F6</text><text x="479.3" y="568.5" textLength="9.9" lengthAdjust="spacingAndGlyphs">T1</text><text x="522.0" y="553.2" textLength="14.9" lengthAdjust="spacingAndGlyphs">Q10</text><text x="522.0" y="559.9" textLength="14.9" lengthAdjust="spacingAndGlyphs">A1E</text><text x="548.8" y="523.7" textLength="14.9" lengthAdjust="spacingAndGlyphs">L45</text><text x="557.8" y="523.7" textLength="19.8" lengthAdjust="spacingAndGlyphs">L195</text><text x="589.6" y="521.8" textLength="9.9" lengthAdjust="spacingAndGlyphs">66</text><text x="597.5" y="527.5" textLength="9.9" lengthAdjust="spacingAndGlyphs">85</text><text x="605.5" y="531.3" textLength="5.0" lengthAdjust="spacingAndGlyphs">Q</text><text x="552.8" y="538.0" textLength="19.8" lengthAdjust="spacingAndGlyphs">V189</text><text x="573.7" y="538.9" textLength="9.9" lengthAdjust="spacingAndGlyphs">I0</text><text x="588.6" y="540.9" textLength="14.9" lengthAdjust="spacingAndGlyphs">K91</text><text x="585.6" y="548.5" textLength="14.9" lengthAdjust="spacingAndGlyphs">145</text><text x="551.8" y="553.2" textLength="19.8" lengthAdjust="spacingAndGlyphs">R186</text><text x="567.7" y="553.2" textLength="9.9" lengthAdjust="spacingAndGlyphs">R5</text><text x="555.8" y="559.0" textLength="9.9" lengthAdjust="spacingAndGlyphs">29</text><text x="569.7" y="559.0" textLength="14.9" lengthAdjust="spacingAndGlyphs">110</text><text x="589.6" y="559.0" textLength="19.8" lengthAdjust="spacingAndGlyphs">I152</text><text x="529.0" y="576.1" textLength="14.9" lengthAdjust="spacingAndGlyphs">Q12</text><text x="555.8" y="576.1" textLength="9.9" lengthAdjust="spacingAndGlyphs">W1</text><text x="587.6" y="576.1" textLength="14.9" lengthAdjust="spacingAndGlyphs">124</text><text x="599.5" y="577.1" textLength="19.8" lengthAdjust="spacingAndGlyphs">W151</text><text x="535.9" y="582.8" textLength="19.8" lengthAdjust="spacingAndGlyphs">D128</text><text x="556.8" y="494.2" textLength="5.0" lengthAdjust="spacingAndGlyphs">N</text><text x="567.7" y="514.2" textLength="5.0" lengthAdjust="spacingAndGlyphs">F</text><text x="573.7" y="518.0" textLength="5.0" lengthAdjust="spacingAndGlyphs">N</text><text x="470.4" y="498.0" textLength="14.9" lengthAdjust="spacingAndGlyphs">G42</text><text x="470.4" y="509.4" textLength="14.9" lengthAdjust="spacingAndGlyphs">G38</text><text x="470.4" y="519.9" textLength="9.9" lengthAdjust="spacingAndGlyphs">D2</text><text x="470.4" y="530.4" textLength="19.8" lengthAdjust="spacingAndGlyphs">Q112</text><text x="496.2" y="582.8" textLength="19.8" lengthAdjust="spacingAndGlyphs">H137</text><text x="513.1" y="579.0" textLength="14.9" lengthAdjust="spacingAndGlyphs">C47</text><text x="613.4" y="558.0" textLength="9.9" lengthAdjust="spacingAndGlyphs">N1</text><text x="513.1" y="542.8" textLength="9.9" lengthAdjust="spacingAndGlyphs">M1</text><text x="535.9" y="534.2" textLength="9.9" lengthAdjust="spacingAndGlyphs">I1</text><text x="470.4" y="579.9" textLength="9.9" lengthAdjust="spacingAndGlyphs">02</text><text x="470.4" y="566.6" textLength="9.9" lengthAdjust="spacingAndGlyphs">61</text><text x="617.1" y="521.5" textLength="14.9" lengthAdjust="spacingAndGlyphs">C82</text><text x="638.8" y="526.6" textLength="14.9" lengthAdjust="spacingAndGlyphs">R49</text><text x="620.6" y="537.2" textLength="19.8" lengthAdjust="spacingAndGlyphs">L155</text><text x="611.2" y="559.7" textLength="19.8" lengthAdjust="spacingAndGlyphs">N178</text><text x="393.1" y="496.5" textLength="14.9" lengthAdjust="spacingAndGlyphs">G56</text><text x="424.5" y="494.6" textLength="14.9" lengthAdjust="spacingAndGlyphs">T84</text><text x="408.0" y="505.6" textLength="14.9" lengthAdjust="spacingAndGlyphs">R87</text><text x="442.8" y="512.7" textLength="19.8" lengthAdjust="spacingAndGlyphs">N164</text><text x="433.8" y="534.6" textLength="14.9" lengthAdjust="spacingAndGlyphs">L55</text><text x="420.9" y="542.8" textLength="14.9" lengthAdjust="spacingAndGlyphs">N77</text><text x="426.5" y="553.2" textLength="9.9" lengthAdjust="spacingAndGlyphs">E5</text><text x="370.3" y="554.2" textLength="14.9" lengthAdjust="spacingAndGlyphs">S43</text><text x="418.9" y="567.0" textLength="19.8" lengthAdjust="spacingAndGlyphs">F184</text><text x="438.8" y="564.3" textLength="14.9" lengthAdjust="spacingAndGlyphs">S11</text><text x="398.1" y="573.2" textLength="9.9" lengthAdjust="spacingAndGlyphs">W1</text><text x="441.2" y="573.6" textLength="9.9" lengthAdjust="spacingAndGlyphs">A5</text><text x="460.7" y="573.2" textLength="9.9" lengthAdjust="spacingAndGlyphs">22</text><text x="464.6" y="567.9" textLength="14.9" lengthAdjust="spacingAndGlyphs">R61</text><text x="417.0" y="582.2" textLength="9.9" lengthAdjust="spacingAndGlyphs">T1</text><text x="458.7" y="579.3" textLength="19.8" lengthAdjust="spacingAndGlyphs">I102</text><text x="466.6" y="534.2" textLength="14.9" lengthAdjust="spacingAndGlyphs">Q17</text><text x="341.5" y="577.9" textLength="14.9" lengthAdjust="spacingAndGlyphs">A53</text><text x="389.5" y="584.9" textLength="14.9" lengthAdjust="spacingAndGlyphs">N10</text><text x="389.1" y="595.0" textLength="9.9" lengthAdjust="spacingAndGlyphs">T4</text><text x="410.0" y="589.9" textLength="19.8" lengthAdjust="spacingAndGlyphs">S129</text><text x="396.1" y="604.5" textLength="9.9" lengthAdjust="spacingAndGlyphs">F5</text><text x="414.0" y="602.1" textLength="9.9" lengthAdjust="spacingAndGlyphs">N5</text><text x="439.8" y="603.6" textLength="14.9" lengthAdjust="spacingAndGlyphs">117</text><text x="458.3" y="606.1" textLength="14.9" lengthAdjust="spacingAndGlyphs">V93</text><text x="377.6" y="609.7" textLength="14.9" lengthAdjust="spacingAndGlyphs">K14</text><text x="408.6" y="618.8" textLength="14.9" lengthAdjust="spacingAndGlyphs">Y95</text><text x="430.9" y="615.4" textLength="9.9" lengthAdjust="spacingAndGlyphs">N2</text><text x="464.2" y="616.0" textLength="9.9" lengthAdjust="spacingAndGlyphs">Q7</text><text x="454.7" y="625.5" textLength="9.9" lengthAdjust="spacingAndGlyphs">D2</text><text x="426.9" y="639.8" textLength="14.9" lengthAdjust="spacingAndGlyphs">A17</text><text x="441.8" y="654.7" textLength="9.9" lengthAdjust="spacingAndGlyphs">A9</text><text x="458.7" y="649.3" textLength="14.9" lengthAdjust="spacingAndGlyphs">L68</text><text x="468.6" y="592.5" textLength="9.9" lengthAdjust="spacingAndGlyphs">91</text><text x="420.9" y="582.6" textLength="9.9" lengthAdjust="spacingAndGlyphs">T1</text><text x="430.9" y="583.6" textLength="9.9" lengthAdjust="spacingAndGlyphs">76</text><text x="494.2" y="584.9" textLength="19.8" lengthAdjust="spacingAndGlyphs">H137</text><text x="477.3" y="585.5" textLength="9.9" lengthAdjust="spacingAndGlyphs">I5</text><text x="535.9" y="583.0" textLength="19.8" lengthAdjust="spacingAndGlyphs">D128</text><text x="537.9" y="590.3" textLength="19.8" lengthAdjust="spacingAndGlyphs">L203</text><text x="552.2" y="591.8" textLength="19.8" lengthAdjust="spacingAndGlyphs">M181</text><text x="572.7" y="586.4" textLength="9.9" lengthAdjust="spacingAndGlyphs">33</text><text x="476.3" y="595.0" textLength="14.9" lengthAdjust="spacingAndGlyphs">H31</text><text x="478.3" y="604.5" textLength="14.9" lengthAdjust="spacingAndGlyphs">I58</text><text x="498.8" y="601.1" textLength="14.9" lengthAdjust="spacingAndGlyphs">E70</text><text x="485.9" y="617.3" textLength="19.8" lengthAdjust="spacingAndGlyphs">Q100</text><text x="513.1" y="610.8" textLength="19.8" lengthAdjust="spacingAndGlyphs">V131</text><text x="533.0" y="609.7" textLength="9.9" lengthAdjust="spacingAndGlyphs">A1</text><text x="551.8" y="606.5" textLength="14.9" lengthAdjust="spacingAndGlyphs">251</text><text x="533.6" y="618.8" textLength="9.9" lengthAdjust="spacingAndGlyphs">V1</text><text x="580.2" y="605.5" textLength="19.8" lengthAdjust="spacingAndGlyphs">A196</text><text x="482.3" y="647.8" textLength="14.9" lengthAdjust="spacingAndGlyphs">A88</text><text x="511.7" y="654.1" textLength="19.8" lengthAdjust="spacingAndGlyphs">F156</text><text x="482.7" y="666.5" textLength="19.8" lengthAdjust="spacingAndGlyphs">D198</text><text x="616.7" y="587.3" textLength="19.8" lengthAdjust="spacingAndGlyphs">L101</text><text x="653.0" y="586.3" textLength="19.8" lengthAdjust="spacingAndGlyphs">A148</text><text x="642.3" y="598.6" textLength="19.8" lengthAdjust="spacingAndGlyphs">N106</text><text x="662.4" y="598.1" textLength="19.8" lengthAdjust="spacingAndGlyphs">I160</text><text x="679.2" y="601.5" textLength="19.8" lengthAdjust="spacingAndGlyphs">A151</text><text x="686.1" y="613.8" textLength="14.9" lengthAdjust="spacingAndGlyphs">L28</text><text x="640.7" y="620.4" textLength="19.8" lengthAdjust="spacingAndGlyphs">E109</text><text x="613.1" y="598.1" textLength="9.9" lengthAdjust="spacingAndGlyphs">W1</text><text x="266.9" y="570.3" textLength="19.8" lengthAdjust="spacingAndGlyphs">N170</text><text x="628.0" y="437.0" textLength="19.8" lengthAdjust="spacingAndGlyphs">T150</text><text x="671.5" y="472.0" textLength="19.8" lengthAdjust="spacingAndGlyphs">Y105</text><text x="664.0" y="508.5" textLength="9.9" lengthAdjust="spacingAndGlyphs">46</text><text x="701.0" y="511.5" textLength="9.9" lengthAdjust="spacingAndGlyphs">T8</text><text x="354.0" y="666.5" textLength="14.9" lengthAdjust="spacingAndGlyphs">D79</text></g>
<g fill="url(#cg)"><ellipse cx="477.5" cy="406.7" rx="5.1" ry="6.4" transform="rotate(12 477.5 406.7)"/><ellipse cx="450.3" cy="440.6" rx="5.7" ry="9.3" transform="rotate(10 450.3 440.6)"/><ellipse cx="434.8" cy="445.3" rx="4.9" ry="6.1" transform="rotate(12 434.8 445.3)"/><ellipse cx="407.0" cy="445.2" rx="4.9" ry="5.7" transform="rotate(12 407.0 445.2)"/><ellipse cx="461.1" cy="449.5" rx="5.7" ry="9.8" transform="rotate(5 461.1 449.5)"/><ellipse cx="423.5" cy="475.6" rx="4.9" ry="6.1" transform="rotate(20 423.5 475.6)"/><ellipse cx="447.7" cy="481.9" rx="4.9" ry="6.1" transform="rotate(15 447.7 481.9)"/><ellipse cx="509.5" cy="407.1" rx="5.4" ry="6.6" transform="rotate(12 509.5 407.1)"/><ellipse cx="549.8" cy="410.1" rx="5.4" ry="6.6" transform="rotate(12 549.8 410.1)"/><ellipse cx="575.1" cy="400.0" rx="4.9" ry="8.8" transform="rotate(-20 575.1 400.0)"/><ellipse cx="607.4" cy="425.7" rx="4.9" ry="6.1" transform="rotate(12 607.4 425.7)"/><ellipse cx="500.6" cy="430.9" rx="5.1" ry="6.4" transform="rotate(12 500.6 430.9)"/><ellipse cx="511.1" cy="435.2" rx="5.1" ry="7.5" transform="rotate(12 511.1 435.2)"/><ellipse cx="565.7" cy="443.8" rx="5.2" ry="6.1" transform="rotate(15 565.7 443.8)"/><ellipse cx="535.9" cy="450.5" rx="5.4" ry="7.3" transform="rotate(12 535.9 450.5)"/><ellipse cx="525.0" cy="463.4" rx="5.7" ry="6.3" transform="rotate(12 525.0 463.4)"/><ellipse cx="534.0" cy="462.9" rx="6.2" ry="6.9" transform="rotate(12 534.0 462.9)"/><ellipse cx="541.9" cy="459.1" rx="5.9" ry="6.3" transform="rotate(12 541.9 459.1)"/><ellipse cx="560.8" cy="460.0" rx="5.7" ry="6.9" transform="rotate(12 560.8 460.0)"/><ellipse cx="531.6" cy="475.6" rx="5.7" ry="7.3" transform="rotate(10 531.6 475.6)"/><ellipse cx="512.5" cy="481.0" rx="5.2" ry="5.5" transform="rotate(10 512.5 481.0)"/><ellipse cx="553.4" cy="481.9" rx="5.1" ry="6.4" transform="rotate(12 553.4 481.9)"/><ellipse cx="476.8" cy="483.2" rx="4.3" ry="11.6" transform="rotate(14 476.8 483.2)"/><ellipse cx="635.7" cy="439.5" rx="4.5" ry="5.8" transform="rotate(12 635.7 439.5)"/><ellipse cx="687.0" cy="442.8" rx="1.6" ry="3.3" fill="#fff" stroke="#2c2c2c" stroke-width="1.1"/><ellipse cx="565.0" cy="472.0" rx="7.5" ry="8.8" transform="rotate(12 565.0 472.0)"/><ellipse cx="559.9" cy="481.9" rx="6.8" ry="9.2" transform="rotate(12 559.9 481.9)"/><ellipse cx="570.2" cy="483.6" rx="6.8" ry="10.3" transform="rotate(12 570.2 483.6)"/><ellipse cx="563.3" cy="495.1" rx="7.9" ry="9.2" transform="rotate(12 563.3 495.1)"/><ellipse cx="575.4" cy="493.5" rx="6.8" ry="10.3" transform="rotate(12 575.4 493.5)"/><ellipse cx="559.9" cy="505.0" rx="6.2" ry="7.4" transform="rotate(12 559.9 505.0)"/><ellipse cx="571.9" cy="505.0" rx="7.9" ry="8.0"/><ellipse cx="582.2" cy="488.5" rx="5.6" ry="10.3"/><ellipse cx="580.5" cy="513.3" rx="6.8" ry="8.0" transform="rotate(12 580.5 513.3)"/><ellipse cx="577.1" cy="523.2" rx="6.8" ry="6.9"/><ellipse cx="568.5" cy="524.9" rx="5.4" ry="5.5"/><ellipse cx="594.3" cy="524.9" rx="4.3" ry="4.4"/><ellipse cx="704.7" cy="515.4" rx="1.8" ry="3.1" fill="#fff" stroke="#2c2c2c" stroke-width="1.1"/><ellipse cx="577.7" cy="511.3" rx="6.5" ry="9.3" transform="rotate(12 577.7 511.3)"/><ellipse cx="573.7" cy="524.7" rx="6.5" ry="10.6"/><ellipse cx="565.7" cy="526.6" rx="5.2" ry="6.6" transform="rotate(12 565.7 526.6)"/><ellipse cx="591.6" cy="528.5" rx="8.7" ry="6.3" transform="rotate(-30 591.6 528.5)"/><ellipse cx="587.6" cy="535.1" rx="5.9" ry="6.1"/><ellipse cx="599.5" cy="524.7" rx="4.8" ry="4.8"/><ellipse cx="506.1" cy="502.7" rx="5.1" ry="6.4" transform="rotate(20 506.1 502.7)"/><ellipse cx="500.2" cy="507.5" rx="5.9" ry="6.1"/><ellipse cx="494.2" cy="512.3" rx="6.5" ry="6.6"/><ellipse cx="484.3" cy="513.2" rx="7.1" ry="7.3"/><ellipse cx="478.3" cy="515.1" rx="6.2" ry="6.3"/><ellipse cx="524.4" cy="505.2" rx="4.5" ry="5.8" transform="rotate(12 524.4 505.2)"/><ellipse cx="538.9" cy="505.2" rx="4.2" ry="4.8" transform="rotate(12 538.9 505.2)"/><ellipse cx="515.7" cy="518.0" rx="4.5" ry="6.4" transform="rotate(15 515.7 518.0)"/><ellipse cx="502.2" cy="523.7" rx="6.2" ry="6.3"/><ellipse cx="496.2" cy="528.5" rx="5.2" ry="5.3"/><ellipse cx="538.9" cy="517.0" rx="8.7" ry="5.7"/><ellipse cx="534.0" cy="524.7" rx="5.4" ry="7.3" transform="rotate(12 534.0 524.7)"/><ellipse cx="546.9" cy="528.5" rx="6.8" ry="7.0"/><ellipse cx="555.8" cy="534.2" rx="6.2" ry="6.3"/><ellipse cx="525.0" cy="538.0" rx="5.4" ry="6.7" transform="rotate(12 525.0 538.0)"/><ellipse cx="476.3" cy="540.9" rx="7.8" ry="6.6"/><ellipse cx="486.3" cy="538.9" rx="7.8" ry="6.6"/><ellipse cx="496.2" cy="540.9" rx="6.5" ry="7.9" transform="rotate(12 496.2 540.9)"/><ellipse cx="500.2" cy="549.4" rx="5.4" ry="7.3" transform="rotate(12 500.2 549.4)"/><ellipse cx="498.2" cy="559.0" rx="5.6" ry="7.6" transform="rotate(12 498.2 559.0)"/><ellipse cx="494.2" cy="566.6" rx="6.2" ry="6.3"/><ellipse cx="488.3" cy="574.2" rx="6.5" ry="7.3" transform="rotate(12 488.3 574.2)"/><ellipse cx="472.4" cy="549.4" rx="5.2" ry="7.9" transform="rotate(12 472.4 549.4)"/><ellipse cx="482.3" cy="552.3" rx="5.2" ry="5.9" transform="rotate(12 482.3 552.3)"/><ellipse cx="516.1" cy="549.4" rx="5.6" ry="7.6" transform="rotate(12 516.1 549.4)"/><ellipse cx="513.1" cy="559.0" rx="6.5" ry="9.3" transform="rotate(12 513.1 559.0)"/><ellipse cx="510.1" cy="570.4" rx="6.8" ry="7.6" transform="rotate(12 510.1 570.4)"/><ellipse cx="524.0" cy="561.8" rx="6.5" ry="6.6"/><ellipse cx="528.0" cy="566.6" rx="6.2" ry="6.3"/><ellipse cx="538.9" cy="541.8" rx="6.2" ry="9.3" transform="rotate(12 538.9 541.8)"/><ellipse cx="539.9" cy="557.0" rx="7.5" ry="10.1" transform="rotate(12 539.9 557.0)"/><ellipse cx="537.9" cy="570.4" rx="6.5" ry="7.9" transform="rotate(12 537.9 570.4)"/><ellipse cx="549.8" cy="553.2" rx="5.9" ry="7.3" transform="rotate(12 549.8 553.2)"/><ellipse cx="551.8" cy="564.7" rx="6.5" ry="7.9" transform="rotate(12 551.8 564.7)"/><ellipse cx="549.8" cy="576.1" rx="6.5" ry="6.6"/><ellipse cx="561.8" cy="542.8" rx="7.1" ry="6.7"/><ellipse cx="571.7" cy="541.8" rx="5.9" ry="5.5"/><ellipse cx="578.6" cy="548.5" rx="5.1" ry="5.2"/><ellipse cx="567.7" cy="562.8" rx="7.1" ry="6.1"/><ellipse cx="577.7" cy="563.7" rx="7.8" ry="5.9"/><ellipse cx="587.6" cy="562.8" rx="6.2" ry="5.7"/><ellipse cx="596.5" cy="559.0" rx="5.4" ry="6.7" transform="rotate(12 596.5 559.0)"/><ellipse cx="569.7" cy="576.1" rx="6.5" ry="6.6"/><ellipse cx="605.5" cy="577.1" rx="4.5" ry="4.6"/><ellipse cx="610.4" cy="553.2" rx="4.0" ry="5.8" transform="rotate(12 610.4 553.2)"/><ellipse cx="615.4" cy="532.3" rx="5.7" ry="6.9" transform="rotate(12 615.4 532.3)"/><ellipse cx="618.1" cy="526.2" rx="5.9" ry="10.2" transform="rotate(20 618.1 526.2)"/><ellipse cx="643.7" cy="530.0" rx="4.5" ry="8.8" transform="rotate(22 643.7 530.0)"/><ellipse cx="630.9" cy="538.5" rx="4.1" ry="4.4" transform="rotate(12 630.9 538.5)"/><ellipse cx="610.2" cy="554.6" rx="4.7" ry="6.0" transform="rotate(12 610.2 554.6)"/><ellipse cx="382.8" cy="495.5" rx="2.8" ry="3.7" fill="#fff" stroke="#2c2c2c" stroke-width="1.1"/><ellipse cx="400.1" cy="498.9" rx="5.4" ry="6.1" transform="rotate(10 400.1 498.9)"/><ellipse cx="414.0" cy="507.5" rx="5.4" ry="6.1" transform="rotate(10 414.0 507.5)"/><ellipse cx="430.9" cy="496.1" rx="5.2" ry="6.1" transform="rotate(10 430.9 496.1)"/><ellipse cx="453.1" cy="514.2" rx="5.4" ry="6.6" transform="rotate(10 453.1 514.2)"/><ellipse cx="470.6" cy="507.5" rx="3.6" ry="4.2" transform="rotate(12 470.6 507.5)"/><ellipse cx="379.8" cy="555.7" rx="5.2" ry="6.4" transform="rotate(10 379.8 555.7)"/><ellipse cx="452.7" cy="530.4" rx="6.5" ry="6.6"/><ellipse cx="460.7" cy="533.2" rx="6.2" ry="6.3"/><ellipse cx="435.8" cy="542.8" rx="5.9" ry="6.7" transform="rotate(12 435.8 542.8)"/><ellipse cx="445.8" cy="539.9" rx="6.5" ry="6.6"/><ellipse cx="450.7" cy="544.7" rx="6.5" ry="6.6"/><ellipse cx="458.7" cy="540.9" rx="6.5" ry="6.6"/><ellipse cx="444.8" cy="552.3" rx="6.5" ry="6.6"/><ellipse cx="453.7" cy="557.0" rx="7.1" ry="7.3"/><ellipse cx="428.9" cy="558.0" rx="5.1" ry="5.8" transform="rotate(12 428.9 558.0)"/><ellipse cx="426.9" cy="564.7" rx="5.4" ry="6.1" transform="rotate(12 426.9 564.7)"/><ellipse cx="419.9" cy="570.4" rx="5.4" ry="6.1" transform="rotate(12 419.9 570.4)"/><ellipse cx="470.6" cy="539.9" rx="7.1" ry="7.9" transform="rotate(12 470.6 539.9)"/><ellipse cx="474.6" cy="549.4" rx="6.5" ry="7.9" transform="rotate(12 474.6 549.4)"/><ellipse cx="478.5" cy="540.9" rx="6.5" ry="7.9" transform="rotate(12 478.5 540.9)"/><ellipse cx="454.7" cy="566.6" rx="5.6" ry="7.0" transform="rotate(12 454.7 566.6)"/><ellipse cx="458.7" cy="574.2" rx="5.6" ry="7.6" transform="rotate(12 458.7 574.2)"/><ellipse cx="463.6" cy="548.5" rx="6.5" ry="6.6"/><ellipse cx="470.6" cy="559.0" rx="6.5" ry="7.9" transform="rotate(12 470.6 559.0)"/><ellipse cx="478.5" cy="557.0" rx="5.2" ry="7.9" transform="rotate(12 478.5 557.0)"/><ellipse cx="352.8" cy="580.4" rx="5.4" ry="6.1" transform="rotate(12 352.8 580.4)"/><ellipse cx="412.0" cy="574.6" rx="5.9" ry="7.3" transform="rotate(10 412.0 574.6)"/><ellipse cx="404.6" cy="587.4" rx="6.2" ry="10.4" transform="rotate(15 404.6 587.4)"/><ellipse cx="432.8" cy="585.5" rx="9.1" ry="9.3"/><ellipse cx="442.8" cy="586.4" rx="7.5" ry="7.6"/><ellipse cx="454.7" cy="588.4" rx="7.1" ry="7.9" transform="rotate(12 454.7 588.4)"/><ellipse cx="454.7" cy="576.0" rx="6.2" ry="10.1"/><ellipse cx="430.9" cy="599.8" rx="7.5" ry="9.5" transform="rotate(12 430.9 599.8)"/><ellipse cx="437.8" cy="597.9" rx="7.1" ry="7.9" transform="rotate(12 437.8 597.9)"/><ellipse cx="424.9" cy="587.4" rx="5.9" ry="6.1"/><ellipse cx="464.6" cy="593.1" rx="5.4" ry="7.3" transform="rotate(12 464.6 593.1)"/><ellipse cx="408.0" cy="604.9" rx="5.7" ry="6.9" transform="rotate(-15 408.0 604.9)"/><ellipse cx="417.0" cy="610.8" rx="5.7" ry="6.4" transform="rotate(12 417.0 610.8)"/><ellipse cx="375.2" cy="614.1" rx="5.2" ry="6.6" transform="rotate(15 375.2 614.1)"/><ellipse cx="393.1" cy="610.3" rx="5.4" ry="6.1" transform="rotate(10 393.1 610.3)"/><ellipse cx="446.4" cy="609.7" rx="5.1" ry="6.4" transform="rotate(10 446.4 609.7)"/><ellipse cx="461.6" cy="607.4" rx="5.1" ry="5.8" transform="rotate(12 461.6 607.4)"/><ellipse cx="475.0" cy="617.3" rx="5.4" ry="8.5" transform="rotate(15 475.0 617.3)"/><ellipse cx="468.6" cy="626.1" rx="5.1" ry="6.9" transform="rotate(15 468.6 626.1)"/><ellipse cx="365.7" cy="635.0" rx="6.2" ry="8.1" transform="rotate(12 365.7 635.0)"/><ellipse cx="371.3" cy="636.4" rx="6.2" ry="7.5" transform="rotate(12 371.3 636.4)"/><ellipse cx="443.4" cy="640.7" rx="5.1" ry="7.5" transform="rotate(-10 443.4 640.7)"/><ellipse cx="450.7" cy="647.4" rx="5.9" ry="7.9" transform="rotate(-10 450.7 647.4)"/><ellipse cx="463.6" cy="651.2" rx="5.1" ry="5.8" transform="rotate(12 463.6 651.2)"/><ellipse cx="388.2" cy="663.6" rx="4.9" ry="6.6" transform="rotate(12 388.2 663.6)"/><ellipse cx="489.3" cy="575.0" rx="8.3" ry="7.3"/><ellipse cx="508.1" cy="573.1" rx="7.9" ry="6.4"/><ellipse cx="523.0" cy="571.2" rx="6.5" ry="6.6"/><ellipse cx="549.8" cy="573.1" rx="6.2" ry="7.6" transform="rotate(12 549.8 573.1)"/><ellipse cx="568.7" cy="577.9" rx="7.5" ry="7.6" transform="rotate(20 568.7 577.9)"/><ellipse cx="561.8" cy="584.5" rx="6.2" ry="6.3"/><ellipse cx="581.6" cy="570.3" rx="7.8" ry="5.3"/><ellipse cx="605.5" cy="577.9" rx="5.7" ry="5.8" transform="rotate(15 605.5 577.9)"/><ellipse cx="481.7" cy="595.0" rx="5.5" ry="6.4" transform="rotate(0.1 481.7 595.0)"/><ellipse cx="481.7" cy="605.5" rx="5.7" ry="7.3" transform="rotate(0.1 481.7 605.5)"/><ellipse cx="505.7" cy="602.6" rx="4.5" ry="5.8" transform="rotate(25 505.7 602.6)"/><ellipse cx="497.2" cy="609.7" rx="5.5" ry="6.9" transform="rotate(15 497.2 609.7)"/><ellipse cx="529.6" cy="589.3" rx="5.7" ry="9.3"/><ellipse cx="538.9" cy="593.1" rx="5.7" ry="5.8"/><ellipse cx="552.8" cy="598.8" rx="5.5" ry="6.9" transform="rotate(12 552.8 598.8)"/><ellipse cx="546.5" cy="609.7" rx="5.7" ry="6.9" transform="rotate(10 546.5 609.7)"/><ellipse cx="525.6" cy="612.7" rx="4.9" ry="5.5" transform="rotate(12 525.6 612.7)"/><ellipse cx="537.9" cy="622.3" rx="5.4" ry="5.5"/><ellipse cx="549.8" cy="625.1" rx="3.7" ry="5.6" fill="#fff" stroke="#2c2c2c" stroke-width="1.7"/><ellipse cx="527.4" cy="633.1" rx="4.4" ry="5.2" transform="rotate(12 527.4 633.1)"/><ellipse cx="519.5" cy="644.6" rx="5.1" ry="5.8" transform="rotate(12 519.5 644.6)"/><ellipse cx="488.7" cy="656.6" rx="5.2" ry="10.5" transform="rotate(0.1 488.7 656.6)"/><ellipse cx="591.6" cy="607.4" rx="5.4" ry="6.1" transform="rotate(20 591.6 607.4)"/><ellipse cx="598.1" cy="622.3" rx="4.8" ry="9.9" transform="rotate(-5 598.1 622.3)"/><ellipse cx="626.0" cy="587.8" rx="4.5" ry="6.3" transform="rotate(20 626.0 587.8)"/><ellipse cx="619.0" cy="599.9" rx="5.1" ry="6.3" transform="rotate(10 619.0 599.9)"/><ellipse cx="671.9" cy="599.9" rx="3.8" ry="5.5" fill="url(#gg)"/><ellipse cx="684.5" cy="603.0" rx="4.5" ry="7.5" transform="rotate(5 684.5 603.0)"/><ellipse cx="690.5" cy="616.2" rx="3.9" ry="5.7" transform="rotate(5 690.5 616.2)"/><ellipse cx="650.2" cy="621.9" rx="4.1" ry="6.0" transform="rotate(10 650.2 621.9)"/><ellipse cx="630.3" cy="627.4" rx="4.1" ry="5.9" transform="rotate(12 630.3 627.4)"/><ellipse cx="277.5" cy="571.0" rx="4.8" ry="6.6" transform="rotate(20 277.5 571.0)"/><ellipse cx="179.5" cy="676.5" rx="3.1" ry="4.2" fill="#fff" stroke="#2c2c2c" stroke-width="1.7"/><ellipse cx="122.9" cy="685.4" rx="4.4" ry="5.6" transform="rotate(15 122.9 685.4)"/><ellipse cx="153.7" cy="701.5" rx="4.2" ry="5.8" transform="rotate(10 153.7 701.5)"/><ellipse cx="486.4" cy="522.7" rx="5.2" ry="6.6" transform="rotate(12 486.4 522.7)"/><ellipse cx="485.4" cy="531.3" rx="5.2" ry="6.6" transform="rotate(12 485.4 531.3)"/><ellipse cx="415.1" cy="647.1" rx="3.3" ry="3.3" fill="#fff" stroke="#2c2c2c" stroke-width="1.7"/><ellipse cx="359.9" cy="671.2" rx="4.3" ry="5.5" transform="rotate(12 359.9 671.2)"/><ellipse cx="475.5" cy="406.9" rx="5.1" ry="5.8" transform="rotate(12 475.5 406.9)"/><ellipse cx="660.0" cy="587.0" rx="4.5" ry="6.1" transform="rotate(12 660.0 587.0)"/><ellipse cx="669.7" cy="589.2" rx="4.3" ry="6.4" transform="rotate(12 669.7 589.2)"/><ellipse cx="635.1" cy="441.0" rx="4.5" ry="6.9" transform="rotate(0.1 635.1 441.0)"/><ellipse cx="632.1" cy="452.0" rx="4.1" ry="5.3" transform="rotate(0.1 632.1 452.0)" fill="url(#gg)"/><ellipse cx="686.8" cy="442.4" rx="0.9" ry="1.8" transform="rotate(0.1 686.8 442.4)" fill="#fff" stroke="#2c2c2c" stroke-width="1.1"/><ellipse cx="677.2" cy="473.1" rx="5.1" ry="6.9" transform="rotate(0.1 677.2 473.1)"/><ellipse cx="596.1" cy="456.0" rx="5.7" ry="9.3" transform="rotate(0.1 596.1 456.0)"/><ellipse cx="596.1" cy="467.1" rx="6.8" ry="8.9" transform="rotate(0.1 596.1 467.1)"/><ellipse cx="659.1" cy="456.0" rx="4.8" ry="10.9" transform="rotate(0.1 659.1 456.0)"/><ellipse cx="664.2" cy="460.0" rx="4.8" ry="9.7" transform="rotate(0.1 664.2 460.0)"/><ellipse cx="667.2" cy="466.1" rx="4.4" ry="7.6" transform="rotate(0.1 667.2 466.1)"/><ellipse cx="591.1" cy="476.1" rx="3.8" ry="10.9" transform="rotate(0.1 591.1 476.1)"/><ellipse cx="606.1" cy="477.1" rx="4.4" ry="12.7" transform="rotate(0.1 606.1 477.1)"/><ellipse cx="615.1" cy="473.1" rx="3.6" ry="9.7" transform="rotate(0.1 615.1 473.1)"/><ellipse cx="630.1" cy="473.1" rx="3.6" ry="10.9" transform="rotate(0.1 630.1 473.1)"/><ellipse cx="635.1" cy="483.1" rx="3.9" ry="10.6" transform="rotate(0.1 635.1 483.1)"/><ellipse cx="641.1" cy="484.1" rx="3.6" ry="7.3" transform="rotate(0.1 641.1 484.1)"/><ellipse cx="646.1" cy="490.1" rx="4.4" ry="15.2" transform="rotate(0.1 646.1 490.1)"/><ellipse cx="653.1" cy="475.1" rx="4.5" ry="15.0" transform="rotate(0.1 653.1 475.1)"/><ellipse cx="659.1" cy="481.1" rx="3.6" ry="9.3" transform="rotate(0.1 659.1 481.1)"/><ellipse cx="631.1" cy="502.1" rx="4.2" ry="8.5" transform="rotate(0.1 631.1 502.1)"/><ellipse cx="643.1" cy="500.1" rx="3.7" ry="10.1" transform="rotate(0.1 643.1 500.1)"/><ellipse cx="653.1" cy="506.1" rx="4.8" ry="8.5" transform="rotate(0.1 653.1 506.1)"/><ellipse cx="661.1" cy="505.1" rx="4.5" ry="5.8" transform="rotate(0.1 661.1 505.1)"/><ellipse cx="622.1" cy="478.1" rx="3.5" ry="8.9" transform="rotate(0.1 622.1 478.1)"/><ellipse cx="599.1" cy="490.1" rx="4.5" ry="10.6" transform="rotate(0.1 599.1 490.1)"/><ellipse cx="609.1" cy="496.1" rx="3.7" ry="7.6" transform="rotate(0.1 609.1 496.1)"/><ellipse cx="674.6" cy="494.5" rx="1.8" ry="2.5" transform="rotate(0.1 674.6 494.5)" fill="#fff" stroke="#2c2c2c" stroke-width="1.1"/><ellipse cx="585.0" cy="484.1" rx="5.2" ry="13.2" transform="rotate(0.1 585.0 484.1)"/><ellipse cx="593.1" cy="498.1" rx="5.8" ry="13.2" transform="rotate(0.1 593.1 498.1)"/><ellipse cx="602.1" cy="504.1" rx="5.8" ry="11.9" transform="rotate(0.1 602.1 504.1)"/><ellipse cx="585.0" cy="508.1" rx="6.5" ry="11.9" transform="rotate(0.1 585.0 508.1)"/><ellipse cx="577.0" cy="496.1" rx="5.8" ry="11.9" transform="rotate(0.1 577.0 496.1)"/><ellipse cx="612.1" cy="510.1" rx="5.0" ry="7.6" transform="rotate(0.1 612.1 510.1)"/><ellipse cx="621.1" cy="512.1" rx="4.4" ry="6.3" transform="rotate(0.1 621.1 512.1)"/><ellipse cx="664.2" cy="493.7" rx="3.2" ry="2.4" transform="rotate(0.1 664.2 493.7)" fill="url(#gg)"/><ellipse cx="705.2" cy="515.9" rx="1.8" ry="3.1" fill="#fff" stroke="#2c2c2c" stroke-width="1.1"/><ellipse cx="535.2" cy="452.5" rx="0.8" ry="0.7" fill="#1c1c1c"/><ellipse cx="538.3" cy="452.6" rx="1.0" ry="0.8" fill="#c5c5c5"/><ellipse cx="534.5" cy="451.3" rx="0.5" ry="1.0" fill="#1c1c1c"/><ellipse cx="526.5" cy="465.0" rx="0.8" ry="1.5" fill="#1c1c1c"/><ellipse cx="523.7" cy="462.6" rx="0.6" ry="1.1" fill="#aaa"/><ellipse cx="524.6" cy="465.4" rx="0.6" ry="0.9" fill="#222"/><ellipse cx="535.2" cy="465.8" rx="0.8" ry="0.9" fill="#1c1c1c"/><ellipse cx="533.3" cy="459.8" rx="0.8" ry="1.0" fill="#1c1c1c"/><ellipse cx="531.9" cy="464.0" rx="0.8" ry="1.0" fill="#e0e0e0"/><ellipse cx="541.9" cy="461.1" rx="0.9" ry="0.7" fill="#e0e0e0"/><ellipse cx="538.0" cy="458.4" rx="0.9" ry="0.9" fill="#c5c5c5"/><ellipse cx="543.9" cy="460.9" rx="0.9" ry="0.7" fill="#999"/><ellipse cx="528.1" cy="478.0" rx="0.5" ry="1.1" fill="#e0e0e0"/><ellipse cx="530.3" cy="478.1" rx="0.7" ry="1.3" fill="#c5c5c5"/><ellipse cx="533.7" cy="471.5" rx="0.7" ry="1.2" fill="#c5c5c5"/><ellipse cx="564.7" cy="468.8" rx="0.8" ry="1.2" fill="#999"/><ellipse cx="564.3" cy="475.5" rx="0.8" ry="0.6" fill="#999"/><ellipse cx="562.6" cy="475.5" rx="0.7" ry="0.8" fill="#e0e0e0"/><ellipse cx="561.4" cy="484.1" rx="0.7" ry="1.4" fill="#c5c5c5"/><ellipse cx="561.2" cy="485.0" rx="0.6" ry="0.7" fill="#999"/><ellipse cx="561.4" cy="479.5" rx="0.7" ry="0.9" fill="#999"/><ellipse cx="572.1" cy="482.8" rx="0.6" ry="0.8" fill="#aaa"/><ellipse cx="574.1" cy="484.0" rx="0.6" ry="0.9" fill="#aaa"/><ellipse cx="567.9" cy="485.5" rx="0.8" ry="1.5" fill="#222"/><ellipse cx="566.5" cy="490.7" rx="0.8" ry="1.3" fill="#999"/><ellipse cx="566.9" cy="492.1" rx="0.9" ry="1.3" fill="#999"/><ellipse cx="560.8" cy="497.3" rx="0.7" ry="1.0" fill="#aaa"/><ellipse cx="577.3" cy="494.8" rx="0.6" ry="0.9" fill="#c5c5c5"/><ellipse cx="577.9" cy="496.3" rx="0.8" ry="1.5" fill="#1c1c1c"/><ellipse cx="579.4" cy="494.5" rx="0.8" ry="0.7" fill="#e0e0e0"/><ellipse cx="563.0" cy="504.0" rx="0.7" ry="0.7" fill="#999"/><ellipse cx="562.7" cy="504.9" rx="0.7" ry="0.7" fill="#c5c5c5"/><ellipse cx="559.8" cy="500.7" rx="0.7" ry="1.2" fill="#1c1c1c"/><ellipse cx="576.9" cy="505.8" rx="0.8" ry="0.7" fill="#1c1c1c"/><ellipse cx="575.6" cy="502.8" rx="0.6" ry="1.2" fill="#c5c5c5"/><ellipse cx="571.0" cy="502.5" rx="0.7" ry="0.8" fill="#aaa"/><ellipse cx="579.1" cy="487.4" rx="0.7" ry="0.8" fill="#aaa"/><ellipse cx="583.4" cy="483.0" rx="0.9" ry="0.8" fill="#1c1c1c"/><ellipse cx="579.2" cy="488.8" rx="1.0" ry="1.3" fill="#999"/><ellipse cx="580.3" cy="517.4" rx="1.0" ry="1.0" fill="#222"/><ellipse cx="584.8" cy="512.9" rx="0.7" ry="0.8" fill="#aaa"/><ellipse cx="578.0" cy="513.8" rx="0.7" ry="1.5" fill="#1c1c1c"/><ellipse cx="578.7" cy="520.7" rx="0.8" ry="1.3" fill="#c5c5c5"/><ellipse cx="578.0" cy="521.6" rx="0.7" ry="1.2" fill="#aaa"/><ellipse cx="575.0" cy="523.5" rx="0.9" ry="0.9" fill="#222"/><ellipse cx="566.7" cy="526.2" rx="1.0" ry="1.3" fill="#aaa"/><ellipse cx="569.8" cy="524.8" rx="0.8" ry="1.0" fill="#222"/><ellipse cx="570.5" cy="527.5" rx="1.0" ry="1.2" fill="#e0e0e0"/><ellipse cx="595.5" cy="526.6" rx="0.5" ry="1.3" fill="#222"/><ellipse cx="593.1" cy="523.2" rx="1.0" ry="1.0" fill="#aaa"/><ellipse cx="595.0" cy="523.6" rx="0.6" ry="0.9" fill="#aaa"/><ellipse cx="577.9" cy="508.0" rx="0.8" ry="1.4" fill="#c5c5c5"/><ellipse cx="579.7" cy="509.5" rx="0.7" ry="1.1" fill="#1c1c1c"/><ellipse cx="574.1" cy="514.0" rx="0.8" ry="1.1" fill="#1c1c1c"/><ellipse cx="569.8" cy="524.2" rx="0.9" ry="1.1" fill="#aaa"/><ellipse cx="575.0" cy="528.6" rx="0.9" ry="1.1" fill="#e0e0e0"/><ellipse cx="572.5" cy="520.3" rx="0.7" ry="1.3" fill="#1c1c1c"/><ellipse cx="567.3" cy="527.3" rx="0.5" ry="0.7" fill="#999"/><ellipse cx="563.1" cy="525.2" rx="1.0" ry="1.0" fill="#1c1c1c"/><ellipse cx="568.2" cy="526.0" rx="0.6" ry="0.8" fill="#1c1c1c"/><ellipse cx="587.7" cy="527.9" rx="1.0" ry="1.2" fill="#e0e0e0"/><ellipse cx="596.5" cy="526.6" rx="0.6" ry="1.0" fill="#999"/><ellipse cx="594.3" cy="530.4" rx="0.5" ry="0.8" fill="#c5c5c5"/><ellipse cx="588.1" cy="537.4" rx="0.6" ry="1.3" fill="#222"/><ellipse cx="586.0" cy="533.2" rx="0.6" ry="0.7" fill="#999"/><ellipse cx="588.4" cy="539.2" rx="0.7" ry="1.0" fill="#222"/><ellipse cx="600.3" cy="523.3" rx="0.7" ry="1.1" fill="#e0e0e0"/><ellipse cx="597.8" cy="525.6" rx="0.5" ry="0.9" fill="#e0e0e0"/><ellipse cx="597.5" cy="523.9" rx="0.5" ry="0.9" fill="#1c1c1c"/><ellipse cx="499.0" cy="511.5" rx="0.6" ry="1.4" fill="#aaa"/><ellipse cx="501.9" cy="507.2" rx="0.6" ry="0.6" fill="#aaa"/><ellipse cx="499.9" cy="509.4" rx="0.7" ry="1.4" fill="#e0e0e0"/><ellipse cx="491.8" cy="513.9" rx="0.8" ry="1.0" fill="#e0e0e0"/><ellipse cx="495.6" cy="513.2" rx="0.8" ry="1.0" fill="#c5c5c5"/><ellipse cx="494.0" cy="513.8" rx="0.5" ry="0.8" fill="#1c1c1c"/><ellipse cx="485.4" cy="511.8" rx="0.9" ry="1.0" fill="#e0e0e0"/><ellipse cx="487.2" cy="513.1" rx="1.0" ry="1.2" fill="#c5c5c5"/><ellipse cx="482.0" cy="512.8" rx="0.6" ry="0.7" fill="#c5c5c5"/><ellipse cx="480.0" cy="518.8" rx="0.8" ry="1.1" fill="#aaa"/><ellipse cx="477.6" cy="517.9" rx="0.6" ry="0.9" fill="#c5c5c5"/><ellipse cx="479.9" cy="515.1" rx="0.5" ry="1.1" fill="#aaa"/><ellipse cx="537.4" cy="505.1" rx="0.7" ry="1.2" fill="#222"/><ellipse cx="537.1" cy="506.2" rx="0.9" ry="1.0" fill="#1c1c1c"/><ellipse cx="538.4" cy="506.8" rx="0.6" ry="0.8" fill="#222"/><ellipse cx="501.9" cy="521.8" rx="1.0" ry="1.5" fill="#aaa"/><ellipse cx="505.4" cy="524.0" rx="0.9" ry="1.0" fill="#c5c5c5"/><ellipse cx="505.5" cy="525.6" rx="0.9" ry="1.2" fill="#e0e0e0"/><ellipse cx="494.0" cy="526.9" rx="0.5" ry="0.8" fill="#e0e0e0"/><ellipse cx="494.5" cy="529.1" rx="1.0" ry="1.5" fill="#1c1c1c"/><ellipse cx="495.6" cy="529.6" rx="0.9" ry="0.8" fill="#aaa"/><ellipse cx="542.5" cy="517.1" rx="0.7" ry="1.1" fill="#aaa"/><ellipse cx="539.0" cy="520.3" rx="0.5" ry="1.3" fill="#aaa"/><ellipse cx="537.1" cy="517.9" rx="0.5" ry="0.9" fill="#aaa"/><ellipse cx="537.2" cy="527.2" rx="0.9" ry="0.7" fill="#222"/><ellipse cx="534.6" cy="521.0" rx="0.9" ry="1.2" fill="#999"/><ellipse cx="535.8" cy="528.0" rx="0.8" ry="0.6" fill="#222"/><ellipse cx="549.6" cy="526.2" rx="0.9" ry="1.3" fill="#aaa"/><ellipse cx="550.2" cy="526.4" rx="0.8" ry="1.3" fill="#c5c5c5"/><ellipse cx="548.4" cy="525.4" rx="0.9" ry="1.2" fill="#222"/><ellipse cx="554.7" cy="532.8" rx="0.5" ry="1.2" fill="#c5c5c5"/><ellipse cx="553.8" cy="536.1" rx="0.5" ry="0.6" fill="#1c1c1c"/><ellipse cx="554.6" cy="531.6" rx="0.5" ry="1.3" fill="#222"/><ellipse cx="528.3" cy="536.2" rx="0.5" ry="1.1" fill="#222"/><ellipse cx="524.8" cy="535.6" rx="0.5" ry="0.8" fill="#222"/><ellipse cx="525.1" cy="535.6" rx="0.8" ry="1.0" fill="#999"/><ellipse cx="480.6" cy="542.7" rx="0.6" ry="0.6" fill="#222"/><ellipse cx="475.1" cy="539.5" rx="0.6" ry="0.8" fill="#222"/><ellipse cx="475.0" cy="537.8" rx="0.6" ry="1.0" fill="#999"/><ellipse cx="485.8" cy="542.3" rx="0.8" ry="1.2" fill="#e0e0e0"/><ellipse cx="485.6" cy="536.7" rx="0.7" ry="1.3" fill="#1c1c1c"/><ellipse cx="487.9" cy="542.9" rx="1.0" ry="0.6" fill="#999"/><ellipse cx="498.8" cy="542.5" rx="1.0" ry="1.5" fill="#999"/><ellipse cx="497.2" cy="545.6" rx="0.6" ry="1.1" fill="#aaa"/><ellipse cx="496.2" cy="538.2" rx="0.7" ry="1.1" fill="#222"/><ellipse cx="496.6" cy="549.2" rx="0.9" ry="0.8" fill="#999"/><ellipse cx="498.8" cy="550.9" rx="1.0" ry="1.2" fill="#999"/><ellipse cx="499.6" cy="551.6" rx="0.7" ry="0.9" fill="#e0e0e0"/><ellipse cx="501.4" cy="559.0" rx="0.9" ry="0.7" fill="#aaa"/><ellipse cx="497.4" cy="554.3" rx="0.6" ry="0.9" fill="#999"/><ellipse cx="495.5" cy="561.9" rx="0.5" ry="1.4" fill="#e0e0e0"/><ellipse cx="495.6" cy="564.8" rx="0.5" ry="1.2" fill="#222"/><ellipse cx="496.2" cy="565.7" rx="0.6" ry="1.1" fill="#aaa"/><ellipse cx="494.8" cy="562.9" rx="0.7" ry="0.6" fill="#222"/><ellipse cx="484.8" cy="577.0" rx="0.8" ry="0.8" fill="#c5c5c5"/><ellipse cx="492.0" cy="575.5" rx="0.7" ry="1.3" fill="#222"/><ellipse cx="490.4" cy="571.7" rx="1.0" ry="1.1" fill="#aaa"/><ellipse cx="470.4" cy="549.9" rx="0.6" ry="1.3" fill="#222"/><ellipse cx="472.2" cy="553.4" rx="0.7" ry="1.1" fill="#999"/><ellipse cx="474.3" cy="552.1" rx="0.5" ry="1.1" fill="#999"/><ellipse cx="480.2" cy="551.5" rx="0.7" ry="1.3" fill="#999"/><ellipse cx="483.3" cy="553.7" rx="0.5" ry="0.9" fill="#c5c5c5"/><ellipse cx="481.5" cy="554.3" rx="0.9" ry="0.8" fill="#c5c5c5"/><ellipse cx="516.1" cy="546.3" rx="0.7" ry="1.1" fill="#999"/><ellipse cx="515.7" cy="553.7" rx="0.7" ry="1.1" fill="#e0e0e0"/><ellipse cx="517.9" cy="551.9" rx="0.8" ry="1.4" fill="#aaa"/><ellipse cx="516.4" cy="562.0" rx="0.7" ry="1.2" fill="#999"/><ellipse cx="516.8" cy="557.4" rx="0.9" ry="0.6" fill="#c5c5c5"/><ellipse cx="509.9" cy="561.2" rx="0.9" ry="1.5" fill="#999"/><ellipse cx="513.0" cy="570.4" rx="1.0" ry="1.3" fill="#999"/><ellipse cx="512.5" cy="569.9" rx="0.6" ry="0.7" fill="#1c1c1c"/><ellipse cx="512.1" cy="570.0" rx="0.9" ry="1.2" fill="#999"/><ellipse cx="527.2" cy="563.7" rx="0.5" ry="0.7" fill="#1c1c1c"/><ellipse cx="526.9" cy="560.2" rx="0.7" ry="0.7" fill="#e0e0e0"/><ellipse cx="521.4" cy="561.3" rx="0.9" ry="0.7" fill="#e0e0e0"/><ellipse cx="524.9" cy="566.1" rx="0.7" ry="0.8" fill="#1c1c1c"/><ellipse cx="531.0" cy="566.6" rx="1.0" ry="0.9" fill="#e0e0e0"/><ellipse cx="525.6" cy="563.5" rx="0.7" ry="0.8" fill="#aaa"/><ellipse cx="543.0" cy="557.8" rx="0.8" ry="0.6" fill="#aaa"/><ellipse cx="535.9" cy="557.1" rx="0.7" ry="0.8" fill="#222"/><ellipse cx="537.2" cy="558.9" rx="0.7" ry="1.2" fill="#222"/><ellipse cx="535.0" cy="572.3" rx="0.6" ry="1.3" fill="#222"/><ellipse cx="538.9" cy="568.7" rx="0.7" ry="0.8" fill="#aaa"/><ellipse cx="538.2" cy="572.9" rx="0.9" ry="0.9" fill="#1c1c1c"/><ellipse cx="547.8" cy="553.3" rx="0.6" ry="1.0" fill="#222"/><ellipse cx="552.8" cy="554.5" rx="1.0" ry="0.6" fill="#c5c5c5"/><ellipse cx="551.7" cy="552.9" rx="0.5" ry="0.7" fill="#999"/><ellipse cx="548.5" cy="566.0" rx="0.7" ry="0.7" fill="#c5c5c5"/><ellipse cx="554.0" cy="563.5" rx="0.6" ry="1.4" fill="#222"/><ellipse cx="549.5" cy="565.2" rx="0.9" ry="1.4" fill="#e0e0e0"/><ellipse cx="548.2" cy="576.7" rx="0.5" ry="0.7" fill="#999"/><ellipse cx="551.6" cy="575.6" rx="1.0" ry="0.8" fill="#e0e0e0"/><ellipse cx="550.1" cy="573.8" rx="0.9" ry="0.7" fill="#222"/><ellipse cx="558.8" cy="543.2" rx="1.0" ry="0.8" fill="#e0e0e0"/><ellipse cx="561.5" cy="539.7" rx="0.8" ry="0.8" fill="#222"/><ellipse cx="562.0" cy="541.0" rx="0.5" ry="0.7" fill="#c5c5c5"/><ellipse cx="571.5" cy="545.0" rx="0.9" ry="0.9" fill="#e0e0e0"/><ellipse cx="569.6" cy="545.0" rx="0.5" ry="1.3" fill="#222"/><ellipse cx="570.8" cy="543.7" rx="0.5" ry="1.3" fill="#222"/><ellipse cx="569.6" cy="562.2" rx="0.9" ry="0.7" fill="#222"/><ellipse cx="572.5" cy="561.7" rx="0.7" ry="0.8" fill="#999"/><ellipse cx="568.6" cy="561.0" rx="0.7" ry="0.6" fill="#222"/><ellipse cx="576.3" cy="566.6" rx="0.6" ry="0.8" fill="#e0e0e0"/><ellipse cx="573.4" cy="564.5" rx="0.8" ry="1.1" fill="#999"/><ellipse cx="577.7" cy="561.8" rx="0.5" ry="0.6" fill="#1c1c1c"/><ellipse cx="585.7" cy="562.3" rx="0.7" ry="0.7" fill="#c5c5c5"/><ellipse cx="587.4" cy="564.3" rx="0.5" ry="1.0" fill="#222"/><ellipse cx="589.5" cy="562.5" rx="0.6" ry="1.0" fill="#222"/><ellipse cx="596.8" cy="562.2" rx="0.9" ry="1.3" fill="#e0e0e0"/><ellipse cx="595.8" cy="562.2" rx="0.7" ry="1.3" fill="#aaa"/><ellipse cx="594.8" cy="559.8" rx="0.6" ry="0.9" fill="#1c1c1c"/><ellipse cx="570.3" cy="577.7" rx="0.6" ry="0.8" fill="#1c1c1c"/><ellipse cx="570.1" cy="579.8" rx="0.8" ry="1.5" fill="#c5c5c5"/><ellipse cx="573.6" cy="576.2" rx="0.6" ry="1.0" fill="#e0e0e0"/><ellipse cx="620.3" cy="527.2" rx="0.6" ry="0.8" fill="#1c1c1c"/><ellipse cx="618.6" cy="528.9" rx="0.8" ry="0.8" fill="#1c1c1c"/><ellipse cx="617.8" cy="532.4" rx="1.0" ry="0.7" fill="#1c1c1c"/><ellipse cx="609.7" cy="552.2" rx="0.5" ry="0.9" fill="#c5c5c5"/><ellipse cx="610.7" cy="556.7" rx="0.8" ry="1.2" fill="#aaa"/><ellipse cx="611.4" cy="551.2" rx="0.7" ry="0.9" fill="#1c1c1c"/><ellipse cx="470.1" cy="508.8" rx="0.9" ry="1.1" fill="#c5c5c5"/><ellipse cx="468.7" cy="508.9" rx="0.8" ry="0.7" fill="#1c1c1c"/><ellipse cx="471.6" cy="508.3" rx="0.8" ry="1.0" fill="#e0e0e0"/><ellipse cx="451.4" cy="528.1" rx="0.5" ry="1.3" fill="#e0e0e0"/><ellipse cx="451.4" cy="531.2" rx="0.9" ry="1.3" fill="#222"/><ellipse cx="453.9" cy="533.7" rx="0.6" ry="0.6" fill="#aaa"/><ellipse cx="457.3" cy="535.0" rx="0.7" ry="1.4" fill="#999"/><ellipse cx="460.9" cy="531.4" rx="0.5" ry="0.7" fill="#999"/><ellipse cx="463.4" cy="534.9" rx="0.7" ry="1.1" fill="#aaa"/><ellipse cx="434.7" cy="544.5" rx="0.6" ry="0.7" fill="#999"/><ellipse cx="432.1" cy="543.0" rx="1.0" ry="0.8" fill="#aaa"/><ellipse cx="436.7" cy="541.2" rx="1.0" ry="0.9" fill="#1c1c1c"/><ellipse cx="448.1" cy="538.7" rx="1.0" ry="1.2" fill="#aaa"/><ellipse cx="443.3" cy="536.9" rx="0.8" ry="1.2" fill="#aaa"/><ellipse cx="446.7" cy="538.1" rx="0.6" ry="1.0" fill="#1c1c1c"/><ellipse cx="452.1" cy="546.7" rx="0.6" ry="1.5" fill="#aaa"/><ellipse cx="453.7" cy="545.4" rx="0.9" ry="0.6" fill="#e0e0e0"/><ellipse cx="453.1" cy="546.8" rx="0.8" ry="1.2" fill="#e0e0e0"/><ellipse cx="457.3" cy="539.0" rx="0.6" ry="1.0" fill="#e0e0e0"/><ellipse cx="456.1" cy="541.7" rx="0.5" ry="1.2" fill="#999"/><ellipse cx="456.0" cy="541.4" rx="0.8" ry="1.3" fill="#aaa"/><ellipse cx="445.7" cy="549.9" rx="0.5" ry="0.9" fill="#e0e0e0"/><ellipse cx="447.0" cy="553.8" rx="0.8" ry="0.6" fill="#222"/><ellipse cx="447.5" cy="555.2" rx="0.7" ry="1.2" fill="#c5c5c5"/><ellipse cx="456.7" cy="558.1" rx="0.7" ry="1.5" fill="#aaa"/><ellipse cx="455.5" cy="557.3" rx="0.8" ry="1.2" fill="#c5c5c5"/><ellipse cx="455.3" cy="561.4" rx="0.7" ry="1.5" fill="#aaa"/><ellipse cx="425.7" cy="561.5" rx="0.6" ry="1.3" fill="#1c1c1c"/><ellipse cx="427.0" cy="562.7" rx="0.9" ry="0.8" fill="#999"/><ellipse cx="428.5" cy="566.9" rx="1.0" ry="0.8" fill="#e0e0e0"/><ellipse cx="418.5" cy="568.9" rx="0.7" ry="0.8" fill="#999"/><ellipse cx="421.9" cy="573.8" rx="0.8" ry="1.4" fill="#aaa"/><ellipse cx="420.5" cy="568.2" rx="0.9" ry="0.6" fill="#e0e0e0"/><ellipse cx="473.5" cy="539.2" rx="0.8" ry="1.2" fill="#c5c5c5"/><ellipse cx="470.5" cy="543.5" rx="0.9" ry="1.3" fill="#e0e0e0"/><ellipse cx="470.2" cy="545.0" rx="0.8" ry="0.9" fill="#c5c5c5"/><ellipse cx="472.7" cy="550.3" rx="0.9" ry="0.6" fill="#1c1c1c"/><ellipse cx="474.5" cy="553.3" rx="1.0" ry="1.1" fill="#222"/><ellipse cx="477.3" cy="546.9" rx="0.9" ry="0.8" fill="#e0e0e0"/><ellipse cx="476.5" cy="538.7" rx="0.8" ry="1.4" fill="#aaa"/><ellipse cx="475.4" cy="541.1" rx="0.5" ry="0.6" fill="#1c1c1c"/><ellipse cx="477.4" cy="542.6" rx="0.7" ry="0.8" fill="#1c1c1c"/><ellipse cx="454.2" cy="568.5" rx="0.7" ry="1.3" fill="#aaa"/><ellipse cx="457.1" cy="569.9" rx="0.6" ry="0.7" fill="#c5c5c5"/><ellipse cx="456.3" cy="567.4" rx="0.8" ry="0.8" fill="#e0e0e0"/><ellipse cx="460.1" cy="573.8" rx="0.9" ry="1.4" fill="#1c1c1c"/><ellipse cx="457.2" cy="571.6" rx="1.0" ry="1.3" fill="#aaa"/><ellipse cx="459.4" cy="575.7" rx="0.5" ry="0.6" fill="#aaa"/><ellipse cx="463.8" cy="550.1" rx="0.9" ry="0.6" fill="#1c1c1c"/><ellipse cx="462.5" cy="546.8" rx="0.7" ry="1.1" fill="#222"/><ellipse cx="460.4" cy="548.3" rx="0.9" ry="0.8" fill="#e0e0e0"/><ellipse cx="473.6" cy="560.5" rx="1.0" ry="1.3" fill="#999"/><ellipse cx="470.3" cy="557.2" rx="0.9" ry="1.3" fill="#999"/><ellipse cx="473.5" cy="560.9" rx="0.6" ry="1.5" fill="#e0e0e0"/><ellipse cx="478.7" cy="559.0" rx="0.7" ry="1.3" fill="#222"/><ellipse cx="480.2" cy="556.1" rx="0.5" ry="1.2" fill="#222"/><ellipse cx="475.8" cy="558.8" rx="0.8" ry="0.8" fill="#222"/><ellipse cx="415.6" cy="572.6" rx="0.5" ry="1.1" fill="#aaa"/><ellipse cx="411.9" cy="577.2" rx="0.9" ry="1.5" fill="#222"/><ellipse cx="413.7" cy="573.4" rx="0.7" ry="1.1" fill="#999"/><ellipse cx="436.6" cy="583.0" rx="0.8" ry="1.2" fill="#1c1c1c"/><ellipse cx="427.6" cy="586.5" rx="0.8" ry="1.4" fill="#999"/><ellipse cx="435.7" cy="584.7" rx="0.9" ry="1.3" fill="#999"/><ellipse cx="441.3" cy="585.0" rx="1.0" ry="0.7" fill="#c5c5c5"/><ellipse cx="445.7" cy="588.9" rx="0.6" ry="1.5" fill="#222"/><ellipse cx="444.7" cy="586.8" rx="0.8" ry="1.2" fill="#222"/><ellipse cx="456.3" cy="589.2" rx="0.9" ry="1.3" fill="#aaa"/><ellipse cx="456.4" cy="584.2" rx="0.9" ry="0.7" fill="#222"/><ellipse cx="456.6" cy="587.6" rx="0.6" ry="0.7" fill="#c5c5c5"/><ellipse cx="458.5" cy="574.0" rx="0.9" ry="0.7" fill="#222"/><ellipse cx="452.8" cy="572.6" rx="0.6" ry="1.3" fill="#222"/><ellipse cx="455.4" cy="579.6" rx="0.7" ry="0.6" fill="#e0e0e0"/><ellipse cx="432.6" cy="598.7" rx="0.9" ry="1.4" fill="#1c1c1c"/><ellipse cx="426.2" cy="599.7" rx="0.8" ry="0.6" fill="#999"/><ellipse cx="434.3" cy="600.6" rx="0.5" ry="1.0" fill="#c5c5c5"/><ellipse cx="435.6" cy="597.3" rx="0.9" ry="0.7" fill="#e0e0e0"/><ellipse cx="438.6" cy="599.5" rx="0.6" ry="1.3" fill="#c5c5c5"/><ellipse cx="440.9" cy="598.0" rx="0.7" ry="1.3" fill="#aaa"/><ellipse cx="428.0" cy="586.8" rx="1.0" ry="1.1" fill="#1c1c1c"/><ellipse cx="427.0" cy="586.6" rx="0.6" ry="1.2" fill="#999"/><ellipse cx="427.0" cy="590.9" rx="0.9" ry="1.0" fill="#222"/><ellipse cx="463.1" cy="592.3" rx="0.7" ry="0.7" fill="#999"/><ellipse cx="467.1" cy="590.4" rx="0.7" ry="1.2" fill="#e0e0e0"/><ellipse cx="465.2" cy="595.7" rx="1.0" ry="1.1" fill="#999"/><ellipse cx="477.9" cy="616.8" rx="1.0" ry="0.7" fill="#1c1c1c"/><ellipse cx="475.0" cy="612.3" rx="0.8" ry="0.9" fill="#e0e0e0"/><ellipse cx="471.5" cy="616.6" rx="0.7" ry="1.1" fill="#e0e0e0"/><ellipse cx="452.0" cy="650.5" rx="0.9" ry="1.1" fill="#aaa"/><ellipse cx="449.1" cy="651.1" rx="0.8" ry="1.1" fill="#e0e0e0"/><ellipse cx="449.6" cy="651.7" rx="0.9" ry="0.7" fill="#aaa"/><ellipse cx="494.1" cy="574.4" rx="0.8" ry="0.9" fill="#aaa"/><ellipse cx="487.9" cy="577.2" rx="1.0" ry="1.3" fill="#c5c5c5"/><ellipse cx="491.6" cy="578.4" rx="0.6" ry="0.7" fill="#aaa"/><ellipse cx="524.0" cy="567.8" rx="0.7" ry="0.8" fill="#222"/><ellipse cx="525.0" cy="570.0" rx="0.9" ry="1.0" fill="#c5c5c5"/><ellipse cx="520.1" cy="573.4" rx="0.8" ry="1.1" fill="#222"/><ellipse cx="549.4" cy="574.9" rx="0.6" ry="1.3" fill="#c5c5c5"/><ellipse cx="549.6" cy="568.3" rx="0.7" ry="1.1" fill="#222"/><ellipse cx="547.5" cy="569.4" rx="0.8" ry="1.2" fill="#222"/><ellipse cx="567.3" cy="573.5" rx="0.8" ry="1.2" fill="#999"/><ellipse cx="566.3" cy="579.0" rx="0.9" ry="1.4" fill="#aaa"/><ellipse cx="569.6" cy="573.8" rx="0.8" ry="0.8" fill="#999"/><ellipse cx="560.2" cy="584.7" rx="0.9" ry="1.1" fill="#222"/><ellipse cx="563.6" cy="583.7" rx="0.8" ry="1.3" fill="#999"/><ellipse cx="563.7" cy="581.1" rx="0.6" ry="0.8" fill="#aaa"/><ellipse cx="584.0" cy="572.7" rx="1.0" ry="1.1" fill="#c5c5c5"/><ellipse cx="583.5" cy="568.4" rx="0.6" ry="1.0" fill="#c5c5c5"/><ellipse cx="578.7" cy="567.9" rx="0.8" ry="1.0" fill="#999"/><ellipse cx="482.5" cy="609.4" rx="0.7" ry="1.3" fill="#c5c5c5"/><ellipse cx="481.3" cy="601.7" rx="0.8" ry="0.8" fill="#999"/><ellipse cx="480.5" cy="606.6" rx="0.7" ry="1.0" fill="#222"/><ellipse cx="485.3" cy="520.0" rx="0.6" ry="0.9" fill="#999"/><ellipse cx="488.6" cy="521.6" rx="0.6" ry="1.3" fill="#999"/><ellipse cx="484.9" cy="523.2" rx="1.0" ry="0.7" fill="#222"/><ellipse cx="486.3" cy="534.4" rx="0.9" ry="1.3" fill="#aaa"/><ellipse cx="483.8" cy="533.9" rx="0.9" ry="1.3" fill="#999"/><ellipse cx="488.3" cy="531.2" rx="0.8" ry="1.3" fill="#999"/><ellipse cx="593.5" cy="471.3" rx="0.6" ry="0.9" fill="#e0e0e0"/><ellipse cx="599.7" cy="466.5" rx="0.7" ry="1.3" fill="#e0e0e0"/><ellipse cx="593.8" cy="470.7" rx="0.7" ry="1.0" fill="#1c1c1c"/><ellipse cx="657.4" cy="451.5" rx="0.7" ry="1.4" fill="#999"/><ellipse cx="662.0" cy="458.4" rx="1.0" ry="1.3" fill="#aaa"/><ellipse cx="657.2" cy="455.2" rx="0.8" ry="1.2" fill="#aaa"/><ellipse cx="666.7" cy="458.5" rx="0.6" ry="0.7" fill="#aaa"/><ellipse cx="665.1" cy="457.5" rx="0.7" ry="1.3" fill="#aaa"/><ellipse cx="666.6" cy="456.7" rx="0.6" ry="1.4" fill="#1c1c1c"/><ellipse cx="668.4" cy="465.7" rx="1.0" ry="1.1" fill="#222"/><ellipse cx="667.9" cy="464.0" rx="0.8" ry="1.1" fill="#222"/><ellipse cx="668.4" cy="462.6" rx="0.6" ry="0.7" fill="#999"/><ellipse cx="591.2" cy="479.4" rx="0.7" ry="0.7" fill="#999"/><ellipse cx="592.9" cy="472.6" rx="0.6" ry="0.7" fill="#1c1c1c"/><ellipse cx="591.7" cy="474.0" rx="0.9" ry="1.0" fill="#1c1c1c"/><ellipse cx="604.4" cy="477.1" rx="0.7" ry="1.0" fill="#222"/><ellipse cx="608.1" cy="480.0" rx="0.8" ry="0.6" fill="#1c1c1c"/><ellipse cx="608.4" cy="479.1" rx="1.0" ry="1.3" fill="#c5c5c5"/><ellipse cx="613.4" cy="472.8" rx="0.9" ry="0.6" fill="#222"/><ellipse cx="614.1" cy="474.6" rx="0.5" ry="1.2" fill="#e0e0e0"/><ellipse cx="613.3" cy="473.8" rx="0.9" ry="0.8" fill="#999"/><ellipse cx="629.4" cy="476.4" rx="0.5" ry="0.9" fill="#e0e0e0"/><ellipse cx="630.8" cy="468.9" rx="0.8" ry="0.8" fill="#1c1c1c"/><ellipse cx="629.4" cy="476.1" rx="0.7" ry="0.7" fill="#aaa"/><ellipse cx="634.5" cy="486.5" rx="0.8" ry="1.2" fill="#c5c5c5"/><ellipse cx="633.6" cy="486.0" rx="0.7" ry="1.1" fill="#999"/><ellipse cx="634.8" cy="485.4" rx="0.6" ry="1.4" fill="#1c1c1c"/><ellipse cx="641.2" cy="482.1" rx="0.8" ry="1.1" fill="#999"/><ellipse cx="639.7" cy="481.5" rx="0.8" ry="1.1" fill="#222"/><ellipse cx="642.0" cy="485.0" rx="0.8" ry="1.2" fill="#aaa"/><ellipse cx="647.3" cy="492.9" rx="0.5" ry="1.3" fill="#222"/><ellipse cx="648.9" cy="490.9" rx="0.6" ry="0.9" fill="#222"/><ellipse cx="646.0" cy="495.7" rx="0.7" ry="0.9" fill="#999"/><ellipse cx="629.1" cy="500.3" rx="1.0" ry="1.0" fill="#1c1c1c"/><ellipse cx="632.3" cy="502.7" rx="0.9" ry="1.1" fill="#999"/><ellipse cx="630.1" cy="502.8" rx="0.7" ry="1.1" fill="#222"/><ellipse cx="644.8" cy="499.6" rx="0.7" ry="0.7" fill="#222"/><ellipse cx="640.8" cy="501.2" rx="0.8" ry="1.0" fill="#c5c5c5"/><ellipse cx="642.7" cy="497.4" rx="1.0" ry="0.7" fill="#c5c5c5"/><ellipse cx="654.0" cy="507.7" rx="0.9" ry="0.8" fill="#222"/><ellipse cx="653.0" cy="500.4" rx="0.7" ry="1.3" fill="#222"/><ellipse cx="654.9" cy="502.2" rx="0.5" ry="1.2" fill="#222"/><ellipse cx="620.2" cy="478.1" rx="0.9" ry="1.4" fill="#c5c5c5"/><ellipse cx="621.9" cy="476.0" rx="0.5" ry="1.2" fill="#1c1c1c"/><ellipse cx="623.3" cy="479.7" rx="0.9" ry="0.7" fill="#999"/><ellipse cx="597.8" cy="487.7" rx="1.0" ry="1.3" fill="#999"/><ellipse cx="598.5" cy="487.4" rx="0.9" ry="0.9" fill="#222"/><ellipse cx="600.4" cy="495.2" rx="0.7" ry="1.3" fill="#999"/><ellipse cx="611.1" cy="494.6" rx="0.8" ry="0.9" fill="#c5c5c5"/><ellipse cx="607.7" cy="493.4" rx="0.9" ry="1.1" fill="#1c1c1c"/><ellipse cx="608.9" cy="494.3" rx="0.6" ry="1.3" fill="#1c1c1c"/><ellipse cx="582.2" cy="487.5" rx="0.7" ry="1.2" fill="#1c1c1c"/><ellipse cx="585.3" cy="479.8" rx="0.7" ry="1.2" fill="#e0e0e0"/><ellipse cx="584.9" cy="489.4" rx="0.8" ry="1.3" fill="#c5c5c5"/><ellipse cx="592.6" cy="501.8" rx="0.9" ry="1.5" fill="#aaa"/><ellipse cx="592.5" cy="505.7" rx="0.9" ry="1.2" fill="#999"/><ellipse cx="592.2" cy="500.9" rx="0.8" ry="1.3" fill="#aaa"/><ellipse cx="602.8" cy="498.0" rx="1.0" ry="0.9" fill="#c5c5c5"/><ellipse cx="601.0" cy="499.6" rx="0.6" ry="0.8" fill="#c5c5c5"/><ellipse cx="602.7" cy="499.3" rx="0.5" ry="1.3" fill="#c5c5c5"/><ellipse cx="585.4" cy="513.7" rx="0.9" ry="1.4" fill="#1c1c1c"/><ellipse cx="583.8" cy="512.8" rx="0.6" ry="0.8" fill="#c5c5c5"/><ellipse cx="586.5" cy="513.7" rx="0.7" ry="1.1" fill="#999"/><ellipse cx="577.7" cy="489.3" rx="0.6" ry="1.4" fill="#999"/><ellipse cx="575.9" cy="498.4" rx="0.8" ry="1.3" fill="#aaa"/><ellipse cx="576.5" cy="498.7" rx="0.6" ry="1.1" fill="#c5c5c5"/><ellipse cx="615.4" cy="511.2" rx="0.9" ry="1.0" fill="#1c1c1c"/><ellipse cx="612.8" cy="514.8" rx="0.6" ry="0.7" fill="#999"/><ellipse cx="612.4" cy="505.6" rx="1.0" ry="0.8" fill="#c5c5c5"/><ellipse cx="619.5" cy="515.7" rx="0.7" ry="0.6" fill="#c5c5c5"/><ellipse cx="618.5" cy="510.7" rx="0.7" ry="1.5" fill="#c5c5c5"/><ellipse cx="622.6" cy="509.6" rx="1.0" ry="1.2" fill="#c5c5c5"/></g>
</g>
<rect x="79.9" y="379.4" width="665.4" height="335.0" fill="none" stroke="#1a1a1a" stroke-width="1.9"/>
<path d="M726.1 714.4v5.0M705.7 714.4v2.9M685.2 714.4v2.9M664.8 714.4v2.9M644.3 714.4v2.9M623.9 714.4v5.0M603.5 714.4v2.9M583.0 714.4v2.9M562.6 714.4v2.9M542.1 714.4v2.9M521.7 714.4v5.0M501.3 714.4v2.9M480.8 714.4v2.9M460.4 714.4v2.9M439.9 714.4v2.9M419.5 714.4v5.0M399.1 714.4v2.9M378.6 714.4v2.9M358.2 714.4v2.9M337.7 714.4v2.9M317.3 714.4v5.0M296.9 714.4v2.9M276.4 714.4v2.9M256.0 714.4v2.9M235.5 714.4v2.9M215.1 714.4v5.0M194.7 714.4v2.9M174.2 714.4v2.9M153.8 714.4v2.9M133.3 714.4v2.9M112.9 714.4v5.0M92.5 714.4v2.9" stroke="#1a1a1a" stroke-width="1.3" fill="none"/>
<path d="M79.9 382.6h-3.2M79.9 392.8h-3.2M79.9 403.1h-3.2M79.9 413.3h-5.3M79.9 423.5h-3.2M79.9 433.8h-3.2M79.9 444.0h-3.2M79.9 454.3h-3.2M79.9 464.5h-5.3M79.9 474.8h-3.2M79.9 485.0h-3.2M79.9 495.3h-3.2M79.9 505.5h-3.2M79.9 515.8h-5.3M79.9 526.0h-3.2M79.9 536.2h-3.2M79.9 546.5h-3.2M79.9 556.7h-3.2M79.9 567.0h-5.3M79.9 577.2h-3.2M79.9 587.5h-3.2M79.9 597.7h-3.2M79.9 608.0h-3.2M79.9 618.2h-5.3M79.9 628.4h-3.2M79.9 638.7h-3.2M79.9 648.9h-3.2M79.9 659.2h-3.2M79.9 669.4h-5.3M79.9 679.7h-3.2M79.9 689.9h-3.2M79.9 700.2h-3.2M79.9 710.4h-3.2" stroke="#1a1a1a" stroke-width="1.3" fill="none"/>
<text x="72.7" y="419.5" text-anchor="end" class="tk" font-size="17.1" textLength="27.6" lengthAdjust="spacingAndGlyphs">105</text>
<text x="72.7" y="470.7" text-anchor="end" class="tk" font-size="17.1" textLength="27.6" lengthAdjust="spacingAndGlyphs">110</text>
<text x="72.7" y="522.0" text-anchor="end" class="tk" font-size="17.1" textLength="27.6" lengthAdjust="spacingAndGlyphs">115</text>
<text x="72.7" y="573.2" text-anchor="end" class="tk" font-size="17.1" textLength="27.6" lengthAdjust="spacingAndGlyphs">120</text>
<text x="72.7" y="624.4" text-anchor="end" class="tk" font-size="17.1" textLength="27.6" lengthAdjust="spacingAndGlyphs">125</text>
<text x="72.7" y="675.6" text-anchor="end" class="tk" font-size="17.1" textLength="27.6" lengthAdjust="spacingAndGlyphs">130</text>
<text x="726.1" y="733.7" text-anchor="middle" class="tk" font-size="17.1">6</text>
<text x="623.9" y="733.7" text-anchor="middle" class="tk" font-size="17.1">7</text>
<text x="521.7" y="733.7" text-anchor="middle" class="tk" font-size="17.1">8</text>
<text x="419.5" y="733.7" text-anchor="middle" class="tk" font-size="17.1">9</text>
<text x="317.3" y="733.7" text-anchor="middle" class="tk" font-size="17.1" textLength="18.8" lengthAdjust="spacingAndGlyphs">10</text>
<text x="215.1" y="733.7" text-anchor="middle" class="tk" font-size="17.1" textLength="18.8" lengthAdjust="spacingAndGlyphs">11</text>
<text x="112.9" y="733.7" text-anchor="middle" class="tk" font-size="17.1" textLength="18.8" lengthAdjust="spacingAndGlyphs">12</text>
<g filter="url(#bl)">
<path d="M575.0 833.1L595.1 831.1L621.1 829.0L664.2 830.0L667.6 847.1L664.2 875.1L625.1 880.1L618.1 861.1L612.1 879.1L579.0 879.1L573.0 855.1Z" fill="url(#hat)" stroke="#7a7a7a" stroke-width="0.6"/>
<g fill="url(#hat)" stroke="#777" stroke-width="0.6"><ellipse cx="538.6" cy="814.7" rx="8.5" ry="10.7"/><ellipse cx="527.6" cy="828.0" rx="8.8" ry="9.9"/><ellipse cx="536.6" cy="827.4" rx="8.8" ry="9.9"/><ellipse cx="544.6" cy="823.5" rx="9.0" ry="9.9"/><ellipse cx="534.2" cy="840.5" rx="8.8" ry="10.7" transform="rotate(10 534.2 840.5)"/><ellipse cx="567.9" cy="836.8" rx="10.2" ry="11.8"/><ellipse cx="562.7" cy="846.9" rx="9.2" ry="11.8"/><ellipse cx="573.1" cy="848.6" rx="9.2" ry="12.7"/><ellipse cx="566.2" cy="860.4" rx="10.2" ry="11.8"/><ellipse cx="578.3" cy="858.7" rx="9.2" ry="12.7"/><ellipse cx="562.7" cy="870.5" rx="9.2" ry="10.8"/><ellipse cx="574.8" cy="870.5" rx="10.2" ry="10.8"/><ellipse cx="585.2" cy="853.7" rx="8.3" ry="12.7"/><ellipse cx="583.5" cy="879.0" rx="9.2" ry="10.8"/><ellipse cx="580.0" cy="889.1" rx="9.2" ry="9.9"/><ellipse cx="571.4" cy="890.8" rx="8.3" ry="8.9"/><ellipse cx="597.4" cy="890.8" rx="7.4" ry="8.0"/><ellipse cx="580.6" cy="877.0" rx="9.0" ry="11.9"/><ellipse cx="576.6" cy="890.6" rx="9.0" ry="13.0"/><ellipse cx="568.6" cy="892.6" rx="7.9" ry="9.6"/><ellipse cx="594.6" cy="894.5" rx="11.2" ry="9.6" transform="rotate(-30 594.6 894.5)"/><ellipse cx="590.6" cy="901.3" rx="9.0" ry="9.6"/><ellipse cx="602.6" cy="890.6" rx="7.9" ry="8.5"/><ellipse cx="502.6" cy="873.1" rx="9.0" ry="9.6"/><ellipse cx="496.5" cy="877.9" rx="9.0" ry="9.6"/><ellipse cx="486.5" cy="878.9" rx="9.5" ry="10.2"/><ellipse cx="480.5" cy="880.9" rx="9.0" ry="9.6"/><ellipse cx="541.6" cy="870.7" rx="7.4" ry="8.5"/><ellipse cx="504.6" cy="889.6" rx="9.0" ry="9.6"/><ellipse cx="498.5" cy="894.5" rx="7.9" ry="8.5"/><ellipse cx="541.6" cy="882.8" rx="11.2" ry="9.1"/><ellipse cx="536.6" cy="890.6" rx="8.5" ry="10.7"/><ellipse cx="549.6" cy="894.5" rx="9.5" ry="10.2"/><ellipse cx="558.6" cy="900.4" rx="9.0" ry="9.6"/><ellipse cx="527.6" cy="904.3" rx="8.5" ry="10.2"/><ellipse cx="478.5" cy="907.2" rx="10.1" ry="9.6"/><ellipse cx="488.5" cy="905.2" rx="10.1" ry="9.6"/><ellipse cx="498.5" cy="907.2" rx="9.0" ry="10.7"/><ellipse cx="502.6" cy="916.0" rx="8.5" ry="10.7"/><ellipse cx="500.5" cy="925.7" rx="8.5" ry="10.7"/><ellipse cx="496.5" cy="933.5" rx="9.0" ry="9.6"/><ellipse cx="490.5" cy="941.3" rx="9.5" ry="10.7"/><ellipse cx="474.5" cy="916.0" rx="7.9" ry="10.7"/><ellipse cx="484.5" cy="918.9" rx="7.9" ry="9.1"/><ellipse cx="518.6" cy="916.0" rx="8.5" ry="10.7"/><ellipse cx="515.6" cy="925.7" rx="9.0" ry="11.9"/><ellipse cx="512.6" cy="937.4" rx="9.5" ry="10.7"/><ellipse cx="526.6" cy="928.6" rx="9.0" ry="9.6"/><ellipse cx="530.6" cy="933.5" rx="9.0" ry="9.6"/><ellipse cx="542.6" cy="923.7" rx="10.1" ry="13.0"/><ellipse cx="540.6" cy="937.4" rx="9.0" ry="10.7"/><ellipse cx="552.6" cy="919.8" rx="9.0" ry="10.7"/><ellipse cx="554.6" cy="931.5" rx="9.0" ry="10.7"/><ellipse cx="552.6" cy="943.2" rx="9.0" ry="9.6"/><ellipse cx="564.6" cy="909.1" rx="10.1" ry="10.2"/><ellipse cx="574.6" cy="908.2" rx="9.0" ry="9.1"/><ellipse cx="570.6" cy="929.6" rx="10.1" ry="9.6"/><ellipse cx="580.6" cy="930.6" rx="10.1" ry="9.1"/><ellipse cx="590.6" cy="929.6" rx="9.0" ry="9.1"/><ellipse cx="599.6" cy="925.7" rx="8.5" ry="10.2"/><ellipse cx="572.6" cy="943.2" rx="9.0" ry="9.6"/><ellipse cx="613.4" cy="921.3" rx="7.9" ry="9.6"/><ellipse cx="454.7" cy="896.5" rx="9.0" ry="9.6"/><ellipse cx="462.7" cy="899.4" rx="9.0" ry="9.6"/><ellipse cx="437.7" cy="909.1" rx="9.0" ry="10.2"/><ellipse cx="447.7" cy="906.2" rx="9.0" ry="9.6"/><ellipse cx="452.7" cy="911.1" rx="9.0" ry="9.6"/><ellipse cx="460.7" cy="907.2" rx="9.0" ry="9.6"/><ellipse cx="446.7" cy="918.9" rx="9.0" ry="9.6"/><ellipse cx="455.7" cy="923.7" rx="9.5" ry="10.2"/><ellipse cx="428.7" cy="931.5" rx="8.5" ry="9.6"/><ellipse cx="421.7" cy="937.4" rx="8.5" ry="9.6"/><ellipse cx="472.7" cy="906.2" rx="9.5" ry="10.7"/><ellipse cx="476.7" cy="916.0" rx="9.0" ry="10.7"/><ellipse cx="480.7" cy="907.2" rx="9.0" ry="10.7"/><ellipse cx="456.7" cy="933.5" rx="8.5" ry="10.2"/><ellipse cx="460.7" cy="941.3" rx="8.5" ry="10.7"/><ellipse cx="465.7" cy="915.0" rx="9.0" ry="9.6"/><ellipse cx="472.7" cy="925.7" rx="9.0" ry="10.7"/><ellipse cx="480.7" cy="923.7" rx="7.9" ry="10.7"/><ellipse cx="434.7" cy="952.8" rx="11.2" ry="11.9"/><ellipse cx="444.7" cy="953.8" rx="10.1" ry="10.7"/><ellipse cx="456.7" cy="955.8" rx="9.5" ry="10.7"/><ellipse cx="456.7" cy="943.1" rx="9.0" ry="13.0"/><ellipse cx="432.7" cy="967.5" rx="10.1" ry="12.4"/><ellipse cx="439.7" cy="965.5" rx="9.5" ry="10.7"/><ellipse cx="426.7" cy="954.8" rx="9.0" ry="9.6"/><ellipse cx="466.7" cy="960.6" rx="8.5" ry="10.7"/><ellipse cx="477.1" cy="985.4" rx="8.5" ry="11.9" transform="rotate(15 477.1 985.4)"/><ellipse cx="452.7" cy="1016.2" rx="9.0" ry="11.3" transform="rotate(-10 452.7 1016.2)"/><ellipse cx="491.5" cy="942.1" rx="11.2" ry="10.7"/><ellipse cx="525.6" cy="938.2" rx="9.0" ry="9.6"/><ellipse cx="552.6" cy="940.2" rx="9.0" ry="10.7"/><ellipse cx="571.6" cy="945.1" rx="10.1" ry="10.7" transform="rotate(20 571.6 945.1)"/><ellipse cx="564.6" cy="951.9" rx="9.0" ry="9.6"/><ellipse cx="584.6" cy="937.3" rx="10.1" ry="8.5"/><ellipse cx="483.9" cy="973.3" rx="8.8" ry="10.7" transform="rotate(0.1 483.9 973.3)"/><ellipse cx="540.6" cy="990.5" rx="9.0" ry="9.6"/><ellipse cx="633.7" cy="995.7" rx="7.7" ry="10.0"/><ellipse cx="488.6" cy="888.6" rx="7.9" ry="9.6"/><ellipse cx="487.6" cy="897.4" rx="7.9" ry="9.6"/><ellipse cx="639.9" cy="988.8" rx="8.2" ry="9.6"/><ellipse cx="600.0" cy="986.0" rx="8.7" ry="9.9"/><ellipse cx="635.4" cy="996.0" rx="8.2" ry="9.6"/><ellipse cx="663.2" cy="843.1" rx="9.0" ry="11.9" transform="rotate(0.1 663.2 843.1)"/><ellipse cx="598.1" cy="828.0" rx="9.5" ry="11.9" transform="rotate(0.1 598.1 828.0)"/><ellipse cx="581.0" cy="841.1" rx="7.9" ry="14.1" transform="rotate(0.1 581.0 841.1)"/><ellipse cx="593.1" cy="841.1" rx="7.9" ry="15.2" transform="rotate(0.1 593.1 841.1)"/><ellipse cx="608.1" cy="838.1" rx="7.4" ry="14.1" transform="rotate(0.1 608.1 838.1)"/><ellipse cx="620.1" cy="833.1" rx="6.8" ry="11.9" transform="rotate(0.1 620.1 833.1)"/><ellipse cx="626.1" cy="849.1" rx="7.4" ry="10.7" transform="rotate(0.1 626.1 849.1)"/><ellipse cx="634.1" cy="835.1" rx="7.4" ry="14.1" transform="rotate(0.1 634.1 835.1)"/><ellipse cx="640.1" cy="847.1" rx="7.4" ry="15.2" transform="rotate(0.1 640.1 847.1)"/><ellipse cx="646.1" cy="831.1" rx="6.8" ry="13.0" transform="rotate(0.1 646.1 831.1)"/><ellipse cx="656.1" cy="839.1" rx="8.5" ry="16.3" transform="rotate(0.1 656.1 839.1)"/><ellipse cx="651.1" cy="853.1" rx="7.4" ry="13.0" transform="rotate(0.1 651.1 853.1)"/><ellipse cx="601.1" cy="859.1" rx="7.9" ry="14.1" transform="rotate(0.1 601.1 859.1)"/><ellipse cx="636.1" cy="869.1" rx="7.9" ry="13.0" transform="rotate(0.1 636.1 869.1)"/><ellipse cx="653.1" cy="865.1" rx="7.9" ry="13.0" transform="rotate(0.1 653.1 865.1)"/><ellipse cx="575.0" cy="865.1" rx="9.0" ry="13.0" transform="rotate(0.1 575.0 865.1)"/><ellipse cx="585.0" cy="871.1" rx="9.0" ry="11.9" transform="rotate(0.1 585.0 871.1)"/><ellipse cx="644.1" cy="863.1" rx="7.4" ry="11.9" transform="rotate(0.1 644.1 863.1)"/><ellipse cx="587.0" cy="855.1" rx="7.9" ry="13.0" transform="rotate(0.1 587.0 855.1)"/><ellipse cx="613.1" cy="847.1" rx="6.8" ry="10.7" transform="rotate(0.1 613.1 847.1)"/><ellipse cx="621.1" cy="861.1" rx="6.8" ry="10.7" transform="rotate(0.1 621.1 861.1)"/><ellipse cx="631.1" cy="855.1" rx="6.8" ry="11.9" transform="rotate(0.1 631.1 855.1)"/><ellipse cx="646.1" cy="853.1" rx="6.8" ry="11.9" transform="rotate(0.1 646.1 853.1)"/><ellipse cx="659.1" cy="855.1" rx="7.4" ry="11.9" transform="rotate(0.1 659.1 855.1)"/><ellipse cx="615.1" cy="835.1" rx="6.8" ry="10.7" transform="rotate(0.1 615.1 835.1)"/><ellipse cx="603.1" cy="845.1" rx="6.8" ry="10.7" transform="rotate(0.1 603.1 845.1)"/></g>
<g class="pl"><text x="442.3" y="800.1" textLength="14.9" lengthAdjust="spacingAndGlyphs">G64</text><text x="401.1" y="807.3" textLength="14.9" lengthAdjust="spacingAndGlyphs">G97</text><text x="425.7" y="806.9" textLength="19.8" lengthAdjust="spacingAndGlyphs">G187</text><text x="440.7" y="813.8" textLength="19.8" lengthAdjust="spacingAndGlyphs">C157</text><text x="466.7" y="811.8" textLength="19.8" lengthAdjust="spacingAndGlyphs">G135</text><text x="455.7" y="824.9" textLength="19.8" lengthAdjust="spacingAndGlyphs">W103</text><text x="417.7" y="837.7" textLength="14.9" lengthAdjust="spacingAndGlyphs">G80</text><text x="439.3" y="844.6" textLength="19.8" lengthAdjust="spacingAndGlyphs">G174</text><text x="540.0" y="770.9" textLength="19.8" lengthAdjust="spacingAndGlyphs">T201</text><text x="568.6" y="758.6" textLength="14.9" lengthAdjust="spacingAndGlyphs">G34</text><text x="581.6" y="768.0" textLength="14.9" lengthAdjust="spacingAndGlyphs">A14</text><text x="600.6" y="787.5" textLength="14.9" lengthAdjust="spacingAndGlyphs">T40</text><text x="493.1" y="792.3" textLength="14.9" lengthAdjust="spacingAndGlyphs">S68</text><text x="508.6" y="798.2" textLength="19.8" lengthAdjust="spacingAndGlyphs">G200</text><text x="566.6" y="806.0" textLength="14.9" lengthAdjust="spacingAndGlyphs">A99</text><text x="532.6" y="812.4" textLength="14.9" lengthAdjust="spacingAndGlyphs">G97</text><text x="554.2" y="822.2" textLength="19.8" lengthAdjust="spacingAndGlyphs">G147</text><text x="510.6" y="828.8" textLength="14.9" lengthAdjust="spacingAndGlyphs">G19</text><text x="543.6" y="820.6" textLength="14.9" lengthAdjust="spacingAndGlyphs">S58</text><text x="538.6" y="831.3" textLength="19.8" lengthAdjust="spacingAndGlyphs">S165</text><text x="520.6" y="839.5" textLength="19.8" lengthAdjust="spacingAndGlyphs">S152</text><text x="506.0" y="845.3" textLength="14.9" lengthAdjust="spacingAndGlyphs">L65</text><text x="547.6" y="844.0" textLength="9.9" lengthAdjust="spacingAndGlyphs">R2</text><text x="472.5" y="841.1" textLength="19.8" lengthAdjust="spacingAndGlyphs">T189</text><text x="525.0" y="823.5" textLength="9.9" lengthAdjust="spacingAndGlyphs">G1</text><text x="469.5" y="860.9" textLength="14.9" lengthAdjust="spacingAndGlyphs">G42</text><text x="517.6" y="867.2" textLength="19.8" lengthAdjust="spacingAndGlyphs">C169</text><text x="491.5" y="871.1" textLength="9.9" lengthAdjust="spacingAndGlyphs">M1</text><text x="511.6" y="873.1" textLength="9.9" lengthAdjust="spacingAndGlyphs">23</text><text x="547.6" y="871.1" textLength="14.9" lengthAdjust="spacingAndGlyphs">R14</text><text x="512.6" y="880.9" textLength="14.9" lengthAdjust="spacingAndGlyphs">C78</text><text x="532.6" y="878.9" textLength="19.8" lengthAdjust="spacingAndGlyphs">S175</text><text x="510.6" y="900.4" textLength="19.8" lengthAdjust="spacingAndGlyphs">R161</text><text x="502.6" y="904.3" textLength="14.9" lengthAdjust="spacingAndGlyphs">T79</text><text x="496.5" y="900.4" textLength="14.9" lengthAdjust="spacingAndGlyphs">V89</text><text x="503.6" y="911.1" textLength="14.9" lengthAdjust="spacingAndGlyphs">I94</text><text x="520.6" y="913.0" textLength="9.9" lengthAdjust="spacingAndGlyphs">44</text><text x="504.6" y="921.8" textLength="9.9" lengthAdjust="spacingAndGlyphs">76</text><text x="504.6" y="928.6" textLength="9.9" lengthAdjust="spacingAndGlyphs">F6</text><text x="481.5" y="935.4" textLength="9.9" lengthAdjust="spacingAndGlyphs">T1</text><text x="524.6" y="919.8" textLength="14.9" lengthAdjust="spacingAndGlyphs">Q10</text><text x="524.6" y="926.7" textLength="14.9" lengthAdjust="spacingAndGlyphs">A1E</text><text x="551.6" y="889.6" textLength="14.9" lengthAdjust="spacingAndGlyphs">L45</text><text x="560.6" y="889.6" textLength="19.8" lengthAdjust="spacingAndGlyphs">L195</text><text x="592.6" y="887.7" textLength="9.9" lengthAdjust="spacingAndGlyphs">66</text><text x="600.6" y="893.5" textLength="9.9" lengthAdjust="spacingAndGlyphs">85</text><text x="608.6" y="897.4" textLength="5.0" lengthAdjust="spacingAndGlyphs">Q</text><text x="555.6" y="904.3" textLength="19.8" lengthAdjust="spacingAndGlyphs">V189</text><text x="576.6" y="905.2" textLength="9.9" lengthAdjust="spacingAndGlyphs">I0</text><text x="591.6" y="907.2" textLength="14.9" lengthAdjust="spacingAndGlyphs">K91</text><text x="588.6" y="915.0" textLength="14.9" lengthAdjust="spacingAndGlyphs">145</text><text x="554.6" y="919.8" textLength="19.8" lengthAdjust="spacingAndGlyphs">R186</text><text x="570.6" y="919.8" textLength="9.9" lengthAdjust="spacingAndGlyphs">R5</text><text x="558.6" y="925.7" textLength="9.9" lengthAdjust="spacingAndGlyphs">29</text><text x="572.6" y="925.7" textLength="14.9" lengthAdjust="spacingAndGlyphs">110</text><text x="592.6" y="925.7" textLength="19.8" lengthAdjust="spacingAndGlyphs">I152</text><text x="531.6" y="943.2" textLength="14.9" lengthAdjust="spacingAndGlyphs">Q12</text><text x="558.6" y="943.2" textLength="9.9" lengthAdjust="spacingAndGlyphs">W1</text><text x="590.6" y="943.2" textLength="14.9" lengthAdjust="spacingAndGlyphs">124</text><text x="602.6" y="944.2" textLength="19.8" lengthAdjust="spacingAndGlyphs">W151</text><text x="538.6" y="950.1" textLength="19.8" lengthAdjust="spacingAndGlyphs">D128</text><text x="559.6" y="859.4" textLength="5.0" lengthAdjust="spacingAndGlyphs">N</text><text x="570.6" y="879.9" textLength="5.0" lengthAdjust="spacingAndGlyphs">F</text><text x="576.6" y="883.8" textLength="5.0" lengthAdjust="spacingAndGlyphs">N</text><text x="472.5" y="863.3" textLength="14.9" lengthAdjust="spacingAndGlyphs">G42</text><text x="472.5" y="875.0" textLength="14.9" lengthAdjust="spacingAndGlyphs">G38</text><text x="472.5" y="885.7" textLength="9.9" lengthAdjust="spacingAndGlyphs">D2</text><text x="472.5" y="896.5" textLength="19.8" lengthAdjust="spacingAndGlyphs">Q112</text><text x="498.5" y="950.1" textLength="19.8" lengthAdjust="spacingAndGlyphs">H137</text><text x="515.6" y="946.2" textLength="14.9" lengthAdjust="spacingAndGlyphs">C47</text><text x="616.7" y="924.7" textLength="9.9" lengthAdjust="spacingAndGlyphs">N1</text><text x="515.6" y="909.1" textLength="9.9" lengthAdjust="spacingAndGlyphs">M1</text><text x="538.6" y="900.4" textLength="9.9" lengthAdjust="spacingAndGlyphs">I1</text><text x="472.5" y="947.1" textLength="9.9" lengthAdjust="spacingAndGlyphs">02</text><text x="472.5" y="933.5" textLength="9.9" lengthAdjust="spacingAndGlyphs">61</text><text x="620.4" y="887.4" textLength="14.9" lengthAdjust="spacingAndGlyphs">C82</text><text x="642.2" y="892.6" textLength="14.9" lengthAdjust="spacingAndGlyphs">R49</text><text x="623.9" y="903.4" textLength="19.8" lengthAdjust="spacingAndGlyphs">L155</text><text x="614.4" y="926.5" textLength="19.8" lengthAdjust="spacingAndGlyphs">N178</text><text x="394.6" y="861.8" textLength="14.9" lengthAdjust="spacingAndGlyphs">G56</text><text x="426.3" y="859.8" textLength="14.9" lengthAdjust="spacingAndGlyphs">T84</text><text x="409.7" y="871.1" textLength="14.9" lengthAdjust="spacingAndGlyphs">R87</text><text x="444.7" y="878.3" textLength="19.8" lengthAdjust="spacingAndGlyphs">N164</text><text x="435.7" y="900.7" textLength="14.9" lengthAdjust="spacingAndGlyphs">L55</text><text x="422.7" y="909.1" textLength="14.9" lengthAdjust="spacingAndGlyphs">N77</text><text x="428.3" y="919.8" textLength="9.9" lengthAdjust="spacingAndGlyphs">E5</text><text x="371.6" y="920.8" textLength="14.9" lengthAdjust="spacingAndGlyphs">S43</text><text x="420.7" y="933.9" textLength="19.8" lengthAdjust="spacingAndGlyphs">F184</text><text x="440.7" y="931.2" textLength="14.9" lengthAdjust="spacingAndGlyphs">S11</text><text x="399.7" y="940.3" textLength="9.9" lengthAdjust="spacingAndGlyphs">W1</text><text x="443.1" y="940.7" textLength="9.9" lengthAdjust="spacingAndGlyphs">A5</text><text x="462.7" y="940.3" textLength="9.9" lengthAdjust="spacingAndGlyphs">22</text><text x="466.7" y="934.9" textLength="14.9" lengthAdjust="spacingAndGlyphs">R61</text><text x="418.7" y="949.5" textLength="9.9" lengthAdjust="spacingAndGlyphs">T1</text><text x="460.7" y="946.5" textLength="19.8" lengthAdjust="spacingAndGlyphs">I102</text><text x="468.7" y="900.4" textLength="14.9" lengthAdjust="spacingAndGlyphs">Q17</text><text x="342.6" y="945.1" textLength="14.9" lengthAdjust="spacingAndGlyphs">A53</text><text x="391.0" y="952.3" textLength="14.9" lengthAdjust="spacingAndGlyphs">N10</text><text x="390.6" y="962.6" textLength="9.9" lengthAdjust="spacingAndGlyphs">T4</text><text x="411.7" y="957.3" textLength="19.8" lengthAdjust="spacingAndGlyphs">S129</text><text x="397.7" y="972.3" textLength="9.9" lengthAdjust="spacingAndGlyphs">F5</text><text x="415.7" y="969.8" textLength="9.9" lengthAdjust="spacingAndGlyphs">N5</text><text x="441.7" y="971.4" textLength="14.9" lengthAdjust="spacingAndGlyphs">117</text><text x="460.3" y="973.9" textLength="14.9" lengthAdjust="spacingAndGlyphs">V93</text><text x="379.0" y="977.6" textLength="14.9" lengthAdjust="spacingAndGlyphs">K14</text><text x="410.3" y="987.0" textLength="14.9" lengthAdjust="spacingAndGlyphs">Y95</text><text x="432.7" y="983.4" textLength="9.9" lengthAdjust="spacingAndGlyphs">N2</text><text x="466.3" y="984.0" textLength="9.9" lengthAdjust="spacingAndGlyphs">Q7</text><text x="456.7" y="993.8" textLength="9.9" lengthAdjust="spacingAndGlyphs">D2</text><text x="428.7" y="1008.4" textLength="14.9" lengthAdjust="spacingAndGlyphs">A17</text><text x="443.7" y="1023.6" textLength="9.9" lengthAdjust="spacingAndGlyphs">A9</text><text x="460.7" y="1018.1" textLength="14.9" lengthAdjust="spacingAndGlyphs">L68</text><text x="470.7" y="960.1" textLength="9.9" lengthAdjust="spacingAndGlyphs">91</text><text x="422.7" y="949.9" textLength="9.9" lengthAdjust="spacingAndGlyphs">T1</text><text x="432.7" y="950.9" textLength="9.9" lengthAdjust="spacingAndGlyphs">76</text><text x="496.5" y="952.3" textLength="19.8" lengthAdjust="spacingAndGlyphs">H137</text><text x="479.5" y="952.8" textLength="9.9" lengthAdjust="spacingAndGlyphs">I5</text><text x="538.6" y="950.3" textLength="19.8" lengthAdjust="spacingAndGlyphs">D128</text><text x="540.6" y="957.7" textLength="19.8" lengthAdjust="spacingAndGlyphs">L203</text><text x="555.0" y="959.3" textLength="19.8" lengthAdjust="spacingAndGlyphs">M181</text><text x="575.6" y="953.8" textLength="9.9" lengthAdjust="spacingAndGlyphs">33</text><text x="478.5" y="962.6" textLength="14.9" lengthAdjust="spacingAndGlyphs">H31</text><text x="480.5" y="972.3" textLength="14.9" lengthAdjust="spacingAndGlyphs">I58</text><text x="501.1" y="968.8" textLength="14.9" lengthAdjust="spacingAndGlyphs">E70</text><text x="488.1" y="985.4" textLength="19.8" lengthAdjust="spacingAndGlyphs">Q100</text><text x="515.6" y="978.8" textLength="19.8" lengthAdjust="spacingAndGlyphs">V131</text><text x="535.6" y="977.6" textLength="9.9" lengthAdjust="spacingAndGlyphs">A1</text><text x="554.6" y="974.3" textLength="14.9" lengthAdjust="spacingAndGlyphs">251</text><text x="536.2" y="987.0" textLength="9.9" lengthAdjust="spacingAndGlyphs">V1</text><text x="583.2" y="973.3" textLength="19.8" lengthAdjust="spacingAndGlyphs">A196</text><text x="514.2" y="1023.0" textLength="19.8" lengthAdjust="spacingAndGlyphs">F156</text><text x="666.1" y="965.7" textLength="19.8" lengthAdjust="spacingAndGlyphs">I160</text><text x="683.0" y="969.2" textLength="19.8" lengthAdjust="spacingAndGlyphs">A151</text><text x="689.9" y="981.8" textLength="14.9" lengthAdjust="spacingAndGlyphs">L28</text><text x="644.2" y="988.5" textLength="19.8" lengthAdjust="spacingAndGlyphs">E109</text><text x="616.4" y="965.7" textLength="9.9" lengthAdjust="spacingAndGlyphs">W1</text><text x="267.4" y="937.3" textLength="19.8" lengthAdjust="spacingAndGlyphs">N170</text><text x="486.0" y="1011.0" textLength="14.9" lengthAdjust="spacingAndGlyphs">A88</text><text x="480.0" y="1035.5" textLength="19.8" lengthAdjust="spacingAndGlyphs">D198</text><text x="479.0" y="765.5" textLength="19.8" lengthAdjust="spacingAndGlyphs">G108</text><text x="508.0" y="764.5" textLength="19.8" lengthAdjust="spacingAndGlyphs">G111</text><text x="630.0" y="802.0" textLength="19.8" lengthAdjust="spacingAndGlyphs">T150</text><text x="661.0" y="842.5" textLength="19.8" lengthAdjust="spacingAndGlyphs">Y105</text><text x="660.0" y="878.0" textLength="19.8" lengthAdjust="spacingAndGlyphs">H146</text><text x="704.5" y="876.0" textLength="9.9" lengthAdjust="spacingAndGlyphs">T8</text><text x="432.0" y="766.0" textLength="14.9" lengthAdjust="spacingAndGlyphs">G95</text><text x="633.0" y="943.0" textLength="19.8" lengthAdjust="spacingAndGlyphs">L101</text><text x="652.0" y="948.0" textLength="19.8" lengthAdjust="spacingAndGlyphs">A148</text><text x="676.0" y="938.0" textLength="19.8" lengthAdjust="spacingAndGlyphs">N106</text><text x="372.0" y="1040.0" textLength="14.9" lengthAdjust="spacingAndGlyphs">D79</text></g>
<g fill="url(#cg)"><ellipse cx="452.3" cy="804.6" rx="5.7" ry="9.3" transform="rotate(10 452.3 804.6)"/><ellipse cx="436.7" cy="809.5" rx="4.9" ry="6.1" transform="rotate(12 436.7 809.5)"/><ellipse cx="408.7" cy="809.3" rx="4.9" ry="5.7" transform="rotate(12 408.7 809.3)"/><ellipse cx="463.1" cy="813.8" rx="5.7" ry="9.8" transform="rotate(5 463.1 813.8)"/><ellipse cx="425.3" cy="840.5" rx="4.9" ry="6.1" transform="rotate(20 425.3 840.5)"/><ellipse cx="449.7" cy="846.9" rx="4.9" ry="6.1" transform="rotate(15 449.7 846.9)"/><ellipse cx="552.6" cy="773.4" rx="5.4" ry="6.6" transform="rotate(12 552.6 773.4)"/><ellipse cx="578.0" cy="763.1" rx="4.9" ry="8.8" transform="rotate(-20 578.0 763.1)"/><ellipse cx="610.6" cy="789.4" rx="4.9" ry="6.1" transform="rotate(12 610.6 789.4)"/><ellipse cx="503.0" cy="794.7" rx="5.1" ry="6.4" transform="rotate(12 503.0 794.7)"/><ellipse cx="513.6" cy="799.2" rx="5.1" ry="7.5" transform="rotate(12 513.6 799.2)"/><ellipse cx="568.6" cy="807.9" rx="5.2" ry="6.1" transform="rotate(15 568.6 807.9)"/><ellipse cx="538.6" cy="814.7" rx="5.4" ry="7.3" transform="rotate(12 538.6 814.7)"/><ellipse cx="527.6" cy="828.0" rx="5.7" ry="6.3" transform="rotate(12 527.6 828.0)"/><ellipse cx="536.6" cy="827.4" rx="6.2" ry="6.9" transform="rotate(12 536.6 827.4)"/><ellipse cx="544.6" cy="823.5" rx="5.9" ry="6.3" transform="rotate(12 544.6 823.5)"/><ellipse cx="563.6" cy="824.5" rx="5.7" ry="6.9" transform="rotate(12 563.6 824.5)"/><ellipse cx="534.2" cy="840.5" rx="5.7" ry="7.3" transform="rotate(10 534.2 840.5)"/><ellipse cx="515.0" cy="845.9" rx="5.2" ry="5.5" transform="rotate(10 515.0 845.9)"/><ellipse cx="556.2" cy="846.9" rx="5.1" ry="6.4" transform="rotate(12 556.2 846.9)"/><ellipse cx="479.0" cy="848.2" rx="4.3" ry="11.6" transform="rotate(14 479.0 848.2)"/><ellipse cx="639.1" cy="803.6" rx="4.5" ry="5.8" transform="rotate(12 639.1 803.6)"/><ellipse cx="690.8" cy="806.9" rx="1.6" ry="3.3" fill="#fff" stroke="#2c2c2c" stroke-width="1.1"/><ellipse cx="567.9" cy="836.8" rx="7.9" ry="9.2" transform="rotate(12 567.9 836.8)"/><ellipse cx="562.7" cy="846.9" rx="6.8" ry="9.2" transform="rotate(12 562.7 846.9)"/><ellipse cx="573.1" cy="848.6" rx="6.8" ry="10.3" transform="rotate(12 573.1 848.6)"/><ellipse cx="566.2" cy="860.4" rx="7.9" ry="9.2" transform="rotate(12 566.2 860.4)"/><ellipse cx="578.3" cy="858.7" rx="6.8" ry="10.3" transform="rotate(12 578.3 858.7)"/><ellipse cx="562.7" cy="870.5" rx="6.5" ry="7.7" transform="rotate(12 562.7 870.5)"/><ellipse cx="574.8" cy="870.5" rx="7.9" ry="8.0"/><ellipse cx="585.2" cy="853.7" rx="5.6" ry="10.3"/><ellipse cx="583.5" cy="879.0" rx="6.8" ry="8.0" transform="rotate(12 583.5 879.0)"/><ellipse cx="580.0" cy="889.1" rx="6.8" ry="6.9"/><ellipse cx="571.4" cy="890.8" rx="5.4" ry="5.5"/><ellipse cx="597.4" cy="890.8" rx="4.3" ry="4.4"/><ellipse cx="708.7" cy="881.1" rx="1.8" ry="3.1" fill="#fff" stroke="#2c2c2c" stroke-width="1.1"/><ellipse cx="580.6" cy="877.0" rx="6.5" ry="9.3" transform="rotate(12 580.6 877.0)"/><ellipse cx="576.6" cy="890.6" rx="6.5" ry="10.6"/><ellipse cx="568.6" cy="892.6" rx="5.2" ry="6.6" transform="rotate(12 568.6 892.6)"/><ellipse cx="594.6" cy="894.5" rx="8.7" ry="6.3" transform="rotate(-30 594.6 894.5)"/><ellipse cx="590.6" cy="901.3" rx="5.9" ry="6.1"/><ellipse cx="602.6" cy="890.6" rx="4.8" ry="4.8"/><ellipse cx="508.6" cy="868.2" rx="5.1" ry="6.4" transform="rotate(20 508.6 868.2)"/><ellipse cx="502.6" cy="873.1" rx="5.9" ry="6.1"/><ellipse cx="496.5" cy="877.9" rx="6.5" ry="6.6"/><ellipse cx="486.5" cy="878.9" rx="6.8" ry="7.0"/><ellipse cx="480.5" cy="880.9" rx="6.2" ry="6.3"/><ellipse cx="527.0" cy="870.7" rx="4.5" ry="5.8" transform="rotate(12 527.0 870.7)"/><ellipse cx="541.6" cy="870.7" rx="4.2" ry="4.8" transform="rotate(12 541.6 870.7)"/><ellipse cx="518.2" cy="883.8" rx="4.5" ry="6.4" transform="rotate(15 518.2 883.8)"/><ellipse cx="504.6" cy="889.6" rx="6.2" ry="6.3"/><ellipse cx="498.5" cy="894.5" rx="5.2" ry="5.3"/><ellipse cx="541.6" cy="882.8" rx="8.7" ry="5.7"/><ellipse cx="536.6" cy="890.6" rx="5.4" ry="7.3" transform="rotate(12 536.6 890.6)"/><ellipse cx="549.6" cy="894.5" rx="6.8" ry="7.0"/><ellipse cx="558.6" cy="900.4" rx="6.2" ry="6.3"/><ellipse cx="527.6" cy="904.3" rx="5.4" ry="6.7" transform="rotate(12 527.6 904.3)"/><ellipse cx="478.5" cy="907.2" rx="7.8" ry="6.6"/><ellipse cx="488.5" cy="905.2" rx="7.8" ry="6.6"/><ellipse cx="498.5" cy="907.2" rx="6.5" ry="7.9" transform="rotate(12 498.5 907.2)"/><ellipse cx="502.6" cy="916.0" rx="5.4" ry="7.3" transform="rotate(12 502.6 916.0)"/><ellipse cx="500.5" cy="925.7" rx="5.4" ry="7.3" transform="rotate(12 500.5 925.7)"/><ellipse cx="496.5" cy="933.5" rx="6.2" ry="6.3"/><ellipse cx="490.5" cy="941.3" rx="6.5" ry="7.3" transform="rotate(12 490.5 941.3)"/><ellipse cx="474.5" cy="916.0" rx="5.2" ry="7.9" transform="rotate(12 474.5 916.0)"/><ellipse cx="484.5" cy="918.9" rx="5.2" ry="5.9" transform="rotate(12 484.5 918.9)"/><ellipse cx="518.6" cy="916.0" rx="5.6" ry="7.6" transform="rotate(12 518.6 916.0)"/><ellipse cx="515.6" cy="925.7" rx="6.2" ry="8.9" transform="rotate(12 515.6 925.7)"/><ellipse cx="512.6" cy="937.4" rx="6.8" ry="7.6" transform="rotate(12 512.6 937.4)"/><ellipse cx="526.6" cy="928.6" rx="6.5" ry="6.6"/><ellipse cx="530.6" cy="933.5" rx="6.2" ry="6.3"/><ellipse cx="541.6" cy="908.2" rx="6.2" ry="9.3" transform="rotate(12 541.6 908.2)"/><ellipse cx="542.6" cy="923.7" rx="7.5" ry="10.1" transform="rotate(12 542.6 923.7)"/><ellipse cx="540.6" cy="937.4" rx="6.5" ry="7.9" transform="rotate(12 540.6 937.4)"/><ellipse cx="552.6" cy="919.8" rx="5.9" ry="7.3" transform="rotate(12 552.6 919.8)"/><ellipse cx="554.6" cy="931.5" rx="6.5" ry="7.9" transform="rotate(12 554.6 931.5)"/><ellipse cx="552.6" cy="943.2" rx="6.5" ry="6.6"/><ellipse cx="564.6" cy="909.1" rx="7.1" ry="6.7"/><ellipse cx="574.6" cy="908.2" rx="5.9" ry="5.5"/><ellipse cx="581.6" cy="915.0" rx="5.1" ry="5.2"/><ellipse cx="570.6" cy="929.6" rx="7.1" ry="6.1"/><ellipse cx="580.6" cy="930.6" rx="7.8" ry="5.9"/><ellipse cx="590.6" cy="929.6" rx="6.2" ry="5.7"/><ellipse cx="599.6" cy="925.7" rx="5.4" ry="6.7" transform="rotate(12 599.6 925.7)"/><ellipse cx="572.6" cy="943.2" rx="6.5" ry="6.6"/><ellipse cx="608.6" cy="944.2" rx="4.5" ry="4.6"/><ellipse cx="613.7" cy="919.8" rx="4.0" ry="5.8" transform="rotate(12 613.7 919.8)"/><ellipse cx="618.7" cy="898.4" rx="5.7" ry="6.9" transform="rotate(12 618.7 898.4)"/><ellipse cx="621.3" cy="892.2" rx="5.6" ry="9.8" transform="rotate(20 621.3 892.2)"/><ellipse cx="647.2" cy="896.1" rx="4.5" ry="8.8" transform="rotate(22 647.2 896.1)"/><ellipse cx="634.3" cy="904.8" rx="4.1" ry="4.4" transform="rotate(12 634.3 904.8)"/><ellipse cx="613.4" cy="921.3" rx="4.7" ry="6.0" transform="rotate(12 613.4 921.3)"/><ellipse cx="384.2" cy="860.8" rx="2.8" ry="3.7" fill="#fff" stroke="#2c2c2c" stroke-width="1.1"/><ellipse cx="401.7" cy="864.3" rx="5.4" ry="6.1" transform="rotate(10 401.7 864.3)"/><ellipse cx="415.7" cy="873.1" rx="5.4" ry="6.1" transform="rotate(10 415.7 873.1)"/><ellipse cx="432.7" cy="861.4" rx="5.2" ry="6.1" transform="rotate(10 432.7 861.4)"/><ellipse cx="455.1" cy="879.9" rx="5.4" ry="6.6" transform="rotate(10 455.1 879.9)"/><ellipse cx="472.7" cy="873.1" rx="3.4" ry="4.0" transform="rotate(12 472.7 873.1)"/><ellipse cx="381.2" cy="922.4" rx="5.2" ry="6.4" transform="rotate(10 381.2 922.4)"/><ellipse cx="454.7" cy="896.5" rx="6.5" ry="6.6"/><ellipse cx="462.7" cy="899.4" rx="6.2" ry="6.3"/><ellipse cx="437.7" cy="909.1" rx="5.9" ry="6.7" transform="rotate(12 437.7 909.1)"/><ellipse cx="447.7" cy="906.2" rx="6.5" ry="6.6"/><ellipse cx="452.7" cy="911.1" rx="6.5" ry="6.6"/><ellipse cx="460.7" cy="907.2" rx="6.5" ry="6.6"/><ellipse cx="446.7" cy="918.9" rx="6.5" ry="6.6"/><ellipse cx="455.7" cy="923.7" rx="7.1" ry="7.3"/><ellipse cx="430.7" cy="924.7" rx="5.1" ry="5.8" transform="rotate(12 430.7 924.7)"/><ellipse cx="428.7" cy="931.5" rx="5.4" ry="6.1" transform="rotate(12 428.7 931.5)"/><ellipse cx="421.7" cy="937.4" rx="5.4" ry="6.1" transform="rotate(12 421.7 937.4)"/><ellipse cx="472.7" cy="906.2" rx="7.1" ry="7.9" transform="rotate(12 472.7 906.2)"/><ellipse cx="476.7" cy="916.0" rx="6.5" ry="7.9" transform="rotate(12 476.7 916.0)"/><ellipse cx="480.7" cy="907.2" rx="6.5" ry="7.9" transform="rotate(12 480.7 907.2)"/><ellipse cx="456.7" cy="933.5" rx="5.6" ry="7.0" transform="rotate(12 456.7 933.5)"/><ellipse cx="460.7" cy="941.3" rx="5.4" ry="7.3" transform="rotate(12 460.7 941.3)"/><ellipse cx="465.7" cy="915.0" rx="6.5" ry="6.6"/><ellipse cx="472.7" cy="925.7" rx="6.5" ry="7.9" transform="rotate(12 472.7 925.7)"/><ellipse cx="480.7" cy="923.7" rx="5.2" ry="7.9" transform="rotate(12 480.7 923.7)"/><ellipse cx="354.0" cy="947.6" rx="5.4" ry="6.1" transform="rotate(12 354.0 947.6)"/><ellipse cx="413.7" cy="941.7" rx="5.7" ry="6.9" transform="rotate(10 413.7 941.7)"/><ellipse cx="406.3" cy="954.8" rx="5.9" ry="9.9" transform="rotate(15 406.3 954.8)"/><ellipse cx="434.7" cy="952.8" rx="9.1" ry="9.3"/><ellipse cx="444.7" cy="953.8" rx="7.5" ry="7.6"/><ellipse cx="456.7" cy="955.8" rx="6.8" ry="7.6" transform="rotate(12 456.7 955.8)"/><ellipse cx="456.7" cy="943.1" rx="6.2" ry="10.1"/><ellipse cx="432.7" cy="967.5" rx="7.5" ry="9.5" transform="rotate(12 432.7 967.5)"/><ellipse cx="439.7" cy="965.5" rx="7.1" ry="7.9" transform="rotate(12 439.7 965.5)"/><ellipse cx="426.7" cy="954.8" rx="5.9" ry="6.1"/><ellipse cx="466.7" cy="960.6" rx="5.4" ry="7.3" transform="rotate(12 466.7 960.6)"/><ellipse cx="409.7" cy="972.7" rx="5.7" ry="6.9" transform="rotate(-15 409.7 972.7)"/><ellipse cx="418.7" cy="978.8" rx="5.7" ry="6.4" transform="rotate(12 418.7 978.8)"/><ellipse cx="376.6" cy="982.1" rx="5.2" ry="6.6" transform="rotate(15 376.6 982.1)"/><ellipse cx="394.6" cy="978.2" rx="5.4" ry="6.1" transform="rotate(10 394.6 978.2)"/><ellipse cx="448.3" cy="977.6" rx="5.1" ry="6.4" transform="rotate(10 448.3 977.6)"/><ellipse cx="463.7" cy="975.3" rx="5.1" ry="5.8" transform="rotate(12 463.7 975.3)"/><ellipse cx="477.1" cy="985.4" rx="5.4" ry="8.5" transform="rotate(15 477.1 985.4)"/><ellipse cx="470.7" cy="994.4" rx="5.1" ry="6.9" transform="rotate(15 470.7 994.4)"/><ellipse cx="367.0" cy="1003.5" rx="6.2" ry="8.1" transform="rotate(12 367.0 1003.5)"/><ellipse cx="372.6" cy="1004.9" rx="6.2" ry="7.5" transform="rotate(12 372.6 1004.9)"/><ellipse cx="445.3" cy="1009.4" rx="5.1" ry="7.5" transform="rotate(-10 445.3 1009.4)"/><ellipse cx="452.7" cy="1016.2" rx="5.9" ry="7.9" transform="rotate(-10 452.7 1016.2)"/><ellipse cx="465.7" cy="1020.1" rx="5.1" ry="5.8" transform="rotate(12 465.7 1020.1)"/><ellipse cx="389.6" cy="1032.8" rx="4.9" ry="6.6" transform="rotate(12 389.6 1032.8)"/><ellipse cx="491.5" cy="942.1" rx="8.3" ry="7.3"/><ellipse cx="510.6" cy="940.2" rx="7.9" ry="6.4"/><ellipse cx="525.6" cy="938.2" rx="6.2" ry="6.3"/><ellipse cx="552.6" cy="940.2" rx="6.2" ry="7.6" transform="rotate(12 552.6 940.2)"/><ellipse cx="571.6" cy="945.1" rx="7.1" ry="7.3" transform="rotate(20 571.6 945.1)"/><ellipse cx="564.6" cy="951.9" rx="6.2" ry="6.3"/><ellipse cx="584.6" cy="937.3" rx="7.5" ry="5.1"/><ellipse cx="608.6" cy="945.1" rx="5.7" ry="5.8" transform="rotate(15 608.6 945.1)"/><ellipse cx="483.9" cy="962.6" rx="5.5" ry="6.4" transform="rotate(0.1 483.9 962.6)"/><ellipse cx="483.9" cy="973.3" rx="5.7" ry="7.3" transform="rotate(0.1 483.9 973.3)"/><ellipse cx="508.2" cy="970.4" rx="4.5" ry="5.8" transform="rotate(25 508.2 970.4)"/><ellipse cx="499.5" cy="977.6" rx="5.5" ry="6.9" transform="rotate(15 499.5 977.6)"/><ellipse cx="532.2" cy="956.7" rx="5.7" ry="9.3"/><ellipse cx="541.6" cy="960.6" rx="5.7" ry="5.8"/><ellipse cx="555.6" cy="966.5" rx="5.5" ry="6.9" transform="rotate(12 555.6 966.5)"/><ellipse cx="549.2" cy="977.6" rx="5.7" ry="6.9" transform="rotate(10 549.2 977.6)"/><ellipse cx="528.2" cy="980.7" rx="4.9" ry="5.5" transform="rotate(12 528.2 980.7)"/><ellipse cx="540.6" cy="990.5" rx="5.9" ry="6.1"/><ellipse cx="522.0" cy="1013.3" rx="4.9" ry="5.5" transform="rotate(12 522.0 1013.3)"/><ellipse cx="594.6" cy="975.3" rx="5.7" ry="6.4" transform="rotate(20 594.6 975.3)"/><ellipse cx="622.3" cy="967.6" rx="4.8" ry="6.0" transform="rotate(10 622.3 967.6)"/><ellipse cx="675.6" cy="967.6" rx="3.8" ry="5.5" fill="url(#gg)"/><ellipse cx="688.4" cy="970.7" rx="4.5" ry="7.5" transform="rotate(5 688.4 970.7)"/><ellipse cx="694.3" cy="984.3" rx="3.9" ry="5.7" transform="rotate(5 694.3 984.3)"/><ellipse cx="633.7" cy="995.7" rx="4.5" ry="6.5" transform="rotate(12 633.7 995.7)"/><ellipse cx="278.1" cy="938.1" rx="4.8" ry="6.6" transform="rotate(20 278.1 938.1)"/><ellipse cx="179.4" cy="1045.9" rx="3.1" ry="4.2" fill="#fff" stroke="#2c2c2c" stroke-width="1.7"/><ellipse cx="122.3" cy="1055.0" rx="4.4" ry="5.6" transform="rotate(15 122.3 1055.0)"/><ellipse cx="153.4" cy="1071.5" rx="4.2" ry="5.8" transform="rotate(10 153.4 1071.5)"/><ellipse cx="488.6" cy="888.6" rx="5.2" ry="6.6" transform="rotate(12 488.6 888.6)"/><ellipse cx="487.6" cy="897.4" rx="5.2" ry="6.6" transform="rotate(12 487.6 897.4)"/><ellipse cx="639.9" cy="988.8" rx="5.0" ry="6.1" transform="rotate(12 639.9 988.8)"/><ellipse cx="495.8" cy="1016.8" rx="5.4" ry="6.1" transform="rotate(12 495.8 1016.8)"/><ellipse cx="490.2" cy="1027.5" rx="5.4" ry="6.1" transform="rotate(12 490.2 1027.5)"/><ellipse cx="546.9" cy="993.5" rx="5.1" ry="5.8" transform="rotate(12 546.9 993.5)"/><ellipse cx="529.5" cy="1000.1" rx="4.8" ry="5.5" transform="rotate(12 529.5 1000.1)"/><ellipse cx="416.7" cy="1015.2" rx="5.0" ry="3.9" fill="#fff" stroke="#2c2c2c" stroke-width="1.7"/><ellipse cx="488.7" cy="770.9" rx="4.9" ry="5.5" transform="rotate(12 488.7 770.9)"/><ellipse cx="518.1" cy="769.8" rx="5.1" ry="5.8" transform="rotate(12 518.1 769.8)"/><ellipse cx="379.6" cy="1045.5" rx="4.3" ry="5.5" transform="rotate(12 379.6 1045.5)"/><ellipse cx="438.8" cy="772.2" rx="4.6" ry="5.2" fill="url(#gg)"/><ellipse cx="637.7" cy="948.6" rx="4.3" ry="5.5" transform="rotate(12 637.7 948.6)"/><ellipse cx="661.9" cy="954.8" rx="5.1" ry="5.8" transform="rotate(12 661.9 954.8)"/><ellipse cx="685.6" cy="944.4" rx="3.8" ry="4.4" transform="rotate(12 685.6 944.4)"/><ellipse cx="600.0" cy="986.0" rx="5.6" ry="6.4" transform="rotate(12 600.0 986.0)"/><ellipse cx="602.8" cy="994.4" rx="5.4" ry="6.1" transform="rotate(12 602.8 994.4)"/><ellipse cx="635.4" cy="996.0" rx="5.0" ry="6.1" transform="rotate(12 635.4 996.0)"/><ellipse cx="637.1" cy="805.0" rx="4.5" ry="6.9" transform="rotate(0.1 637.1 805.0)"/><ellipse cx="636.1" cy="815.0" rx="4.1" ry="5.3" transform="rotate(0.1 636.1 815.0)" fill="url(#gg)"/><ellipse cx="692.2" cy="804.0" rx="0.8" ry="2.2" transform="rotate(0.1 692.2 804.0)" fill="#fff" stroke="#2c2c2c" stroke-width="1.1"/><ellipse cx="663.2" cy="843.1" rx="5.9" ry="8.5" transform="rotate(0.1 663.2 843.1)"/><ellipse cx="598.1" cy="818.0" rx="5.7" ry="9.3" transform="rotate(0.1 598.1 818.0)"/><ellipse cx="598.1" cy="828.0" rx="6.8" ry="8.9" transform="rotate(0.1 598.1 828.0)"/><ellipse cx="664.2" cy="818.0" rx="4.5" ry="11.6" transform="rotate(0.1 664.2 818.0)"/><ellipse cx="670.2" cy="821.0" rx="4.0" ry="10.4" transform="rotate(0.1 670.2 821.0)"/><ellipse cx="581.0" cy="841.1" rx="5.2" ry="11.9" transform="rotate(0.1 581.0 841.1)"/><ellipse cx="593.1" cy="841.1" rx="5.2" ry="13.2" transform="rotate(0.1 593.1 841.1)"/><ellipse cx="608.1" cy="838.1" rx="4.5" ry="11.9" transform="rotate(0.1 608.1 838.1)"/><ellipse cx="620.1" cy="833.1" rx="3.7" ry="8.9" transform="rotate(0.1 620.1 833.1)"/><ellipse cx="626.1" cy="849.1" rx="4.5" ry="7.9" transform="rotate(0.1 626.1 849.1)"/><ellipse cx="634.1" cy="835.1" rx="4.4" ry="11.4" transform="rotate(0.1 634.1 835.1)"/><ellipse cx="640.1" cy="847.1" rx="4.5" ry="13.2" transform="rotate(0.1 640.1 847.1)"/><ellipse cx="646.1" cy="831.1" rx="3.6" ry="9.7" transform="rotate(0.1 646.1 831.1)"/><ellipse cx="656.1" cy="839.1" rx="5.6" ry="13.9" transform="rotate(0.1 656.1 839.1)"/><ellipse cx="651.1" cy="853.1" rx="4.5" ry="10.6" transform="rotate(0.1 651.1 853.1)"/><ellipse cx="601.1" cy="859.1" rx="4.8" ry="10.9" transform="rotate(0.1 601.1 859.1)"/><ellipse cx="636.1" cy="869.1" rx="4.8" ry="9.7" transform="rotate(0.1 636.1 869.1)"/><ellipse cx="653.1" cy="865.1" rx="5.2" ry="10.6" transform="rotate(0.1 653.1 865.1)"/><ellipse cx="575.0" cy="865.1" rx="6.5" ry="10.6" transform="rotate(0.1 575.0 865.1)"/><ellipse cx="585.0" cy="871.1" rx="6.5" ry="9.3" transform="rotate(0.1 585.0 871.1)"/><ellipse cx="644.1" cy="863.1" rx="4.5" ry="9.3" transform="rotate(0.1 644.1 863.1)"/><ellipse cx="680.8" cy="859.1" rx="1.4" ry="2.2" transform="rotate(0.1 680.8 859.1)" fill="#fff" stroke="#2c2c2c" stroke-width="1.1"/><ellipse cx="666.8" cy="870.1" rx="2.0" ry="3.5" transform="rotate(0.1 666.8 870.1)"/><ellipse cx="587.0" cy="855.1" rx="5.0" ry="10.1" transform="rotate(0.1 587.0 855.1)"/><ellipse cx="613.1" cy="847.1" rx="3.9" ry="7.9" transform="rotate(0.1 613.1 847.1)"/><ellipse cx="621.1" cy="861.1" rx="3.6" ry="7.3" transform="rotate(0.1 621.1 861.1)"/><ellipse cx="631.1" cy="855.1" rx="3.9" ry="9.3" transform="rotate(0.1 631.1 855.1)"/><ellipse cx="646.1" cy="853.1" rx="3.9" ry="9.3" transform="rotate(0.1 646.1 853.1)"/><ellipse cx="659.1" cy="855.1" rx="4.5" ry="9.3" transform="rotate(0.1 659.1 855.1)"/><ellipse cx="615.1" cy="835.1" rx="3.7" ry="7.6" transform="rotate(0.1 615.1 835.1)"/><ellipse cx="603.1" cy="845.1" rx="3.9" ry="7.9" transform="rotate(0.1 603.1 845.1)"/><ellipse cx="708.8" cy="880.3" rx="1.8" ry="3.1" fill="#fff" stroke="#2c2c2c" stroke-width="1.1"/><ellipse cx="537.8" cy="816.8" rx="0.8" ry="0.7" fill="#1c1c1c"/><ellipse cx="540.9" cy="816.8" rx="1.0" ry="0.8" fill="#c5c5c5"/><ellipse cx="537.2" cy="815.6" rx="0.5" ry="1.0" fill="#1c1c1c"/><ellipse cx="529.0" cy="829.5" rx="0.8" ry="1.5" fill="#1c1c1c"/><ellipse cx="526.2" cy="827.1" rx="0.6" ry="1.1" fill="#aaa"/><ellipse cx="527.1" cy="829.9" rx="0.6" ry="0.9" fill="#222"/><ellipse cx="537.8" cy="830.3" rx="0.8" ry="0.9" fill="#1c1c1c"/><ellipse cx="535.9" cy="824.3" rx="0.8" ry="1.0" fill="#1c1c1c"/><ellipse cx="534.5" cy="828.5" rx="0.8" ry="1.0" fill="#e0e0e0"/><ellipse cx="544.6" cy="825.6" rx="0.9" ry="0.7" fill="#e0e0e0"/><ellipse cx="540.7" cy="822.9" rx="0.9" ry="0.9" fill="#c5c5c5"/><ellipse cx="546.5" cy="825.4" rx="0.9" ry="0.7" fill="#999"/><ellipse cx="530.7" cy="842.8" rx="0.5" ry="1.1" fill="#e0e0e0"/><ellipse cx="532.9" cy="843.0" rx="0.7" ry="1.3" fill="#c5c5c5"/><ellipse cx="536.3" cy="836.3" rx="0.7" ry="1.2" fill="#c5c5c5"/><ellipse cx="567.6" cy="833.5" rx="0.8" ry="1.2" fill="#999"/><ellipse cx="567.2" cy="840.2" rx="0.8" ry="0.6" fill="#999"/><ellipse cx="565.5" cy="840.2" rx="0.7" ry="0.8" fill="#e0e0e0"/><ellipse cx="564.2" cy="849.1" rx="0.7" ry="1.4" fill="#c5c5c5"/><ellipse cx="564.0" cy="850.0" rx="0.6" ry="0.7" fill="#999"/><ellipse cx="564.2" cy="844.5" rx="0.7" ry="0.9" fill="#999"/><ellipse cx="575.0" cy="847.8" rx="0.6" ry="0.8" fill="#aaa"/><ellipse cx="577.0" cy="849.0" rx="0.6" ry="0.9" fill="#aaa"/><ellipse cx="570.8" cy="850.5" rx="0.8" ry="1.5" fill="#222"/><ellipse cx="569.3" cy="856.0" rx="0.8" ry="1.3" fill="#999"/><ellipse cx="569.7" cy="857.4" rx="0.9" ry="1.3" fill="#999"/><ellipse cx="563.6" cy="862.6" rx="0.7" ry="1.0" fill="#aaa"/><ellipse cx="580.3" cy="860.1" rx="0.6" ry="0.9" fill="#c5c5c5"/><ellipse cx="580.9" cy="861.6" rx="0.8" ry="1.5" fill="#1c1c1c"/><ellipse cx="582.3" cy="859.7" rx="0.8" ry="0.7" fill="#e0e0e0"/><ellipse cx="565.8" cy="869.5" rx="0.7" ry="0.7" fill="#999"/><ellipse cx="565.6" cy="870.4" rx="0.7" ry="0.7" fill="#c5c5c5"/><ellipse cx="562.7" cy="866.2" rx="0.7" ry="1.2" fill="#1c1c1c"/><ellipse cx="579.8" cy="871.3" rx="0.8" ry="0.7" fill="#1c1c1c"/><ellipse cx="578.6" cy="868.3" rx="0.6" ry="1.2" fill="#c5c5c5"/><ellipse cx="573.9" cy="868.0" rx="0.7" ry="0.8" fill="#aaa"/><ellipse cx="582.2" cy="852.5" rx="0.7" ry="0.8" fill="#aaa"/><ellipse cx="586.4" cy="848.2" rx="0.9" ry="0.8" fill="#1c1c1c"/><ellipse cx="582.2" cy="853.9" rx="1.0" ry="1.3" fill="#999"/><ellipse cx="583.3" cy="883.1" rx="1.0" ry="1.0" fill="#222"/><ellipse cx="587.8" cy="878.6" rx="0.7" ry="0.8" fill="#aaa"/><ellipse cx="581.0" cy="879.5" rx="0.7" ry="1.5" fill="#1c1c1c"/><ellipse cx="581.6" cy="886.7" rx="0.8" ry="1.3" fill="#c5c5c5"/><ellipse cx="581.0" cy="887.5" rx="0.7" ry="1.2" fill="#aaa"/><ellipse cx="578.0" cy="889.4" rx="0.9" ry="0.9" fill="#222"/><ellipse cx="569.6" cy="892.2" rx="1.0" ry="1.3" fill="#aaa"/><ellipse cx="572.7" cy="890.8" rx="0.8" ry="1.0" fill="#222"/><ellipse cx="573.4" cy="893.4" rx="1.0" ry="1.2" fill="#e0e0e0"/><ellipse cx="598.6" cy="892.6" rx="0.5" ry="1.3" fill="#222"/><ellipse cx="596.2" cy="889.2" rx="1.0" ry="1.0" fill="#aaa"/><ellipse cx="598.1" cy="889.5" rx="0.6" ry="0.9" fill="#aaa"/><ellipse cx="580.8" cy="873.6" rx="0.8" ry="1.4" fill="#c5c5c5"/><ellipse cx="582.7" cy="875.1" rx="0.7" ry="1.1" fill="#1c1c1c"/><ellipse cx="577.1" cy="879.7" rx="0.8" ry="1.1" fill="#1c1c1c"/><ellipse cx="572.7" cy="890.2" rx="0.9" ry="1.1" fill="#aaa"/><ellipse cx="577.9" cy="894.6" rx="0.9" ry="1.1" fill="#e0e0e0"/><ellipse cx="575.4" cy="886.3" rx="0.7" ry="1.3" fill="#1c1c1c"/><ellipse cx="570.1" cy="893.3" rx="0.5" ry="0.7" fill="#999"/><ellipse cx="565.9" cy="891.2" rx="1.0" ry="1.0" fill="#1c1c1c"/><ellipse cx="571.1" cy="892.0" rx="0.6" ry="0.8" fill="#1c1c1c"/><ellipse cx="590.8" cy="893.9" rx="1.0" ry="1.2" fill="#e0e0e0"/><ellipse cx="599.5" cy="892.7" rx="0.6" ry="1.0" fill="#999"/><ellipse cx="597.4" cy="896.4" rx="0.5" ry="0.8" fill="#c5c5c5"/><ellipse cx="591.2" cy="903.6" rx="0.6" ry="1.3" fill="#222"/><ellipse cx="589.1" cy="899.4" rx="0.6" ry="0.7" fill="#999"/><ellipse cx="591.4" cy="905.4" rx="0.7" ry="1.0" fill="#222"/><ellipse cx="603.4" cy="889.3" rx="0.7" ry="1.1" fill="#e0e0e0"/><ellipse cx="600.9" cy="891.6" rx="0.5" ry="0.9" fill="#e0e0e0"/><ellipse cx="600.6" cy="889.9" rx="0.5" ry="0.9" fill="#1c1c1c"/><ellipse cx="501.4" cy="877.1" rx="0.6" ry="1.4" fill="#aaa"/><ellipse cx="504.3" cy="872.8" rx="0.6" ry="0.6" fill="#aaa"/><ellipse cx="502.3" cy="874.9" rx="0.7" ry="1.4" fill="#e0e0e0"/><ellipse cx="494.1" cy="879.6" rx="0.8" ry="1.0" fill="#e0e0e0"/><ellipse cx="498.0" cy="878.8" rx="0.8" ry="1.0" fill="#c5c5c5"/><ellipse cx="496.4" cy="879.5" rx="0.5" ry="0.8" fill="#1c1c1c"/><ellipse cx="487.7" cy="877.5" rx="0.9" ry="1.0" fill="#e0e0e0"/><ellipse cx="489.5" cy="878.8" rx="1.0" ry="1.2" fill="#c5c5c5"/><ellipse cx="484.2" cy="878.5" rx="0.6" ry="0.7" fill="#c5c5c5"/><ellipse cx="482.2" cy="884.6" rx="0.8" ry="1.1" fill="#aaa"/><ellipse cx="479.8" cy="883.7" rx="0.6" ry="0.9" fill="#c5c5c5"/><ellipse cx="482.1" cy="880.8" rx="0.5" ry="1.1" fill="#aaa"/><ellipse cx="540.1" cy="870.6" rx="0.7" ry="1.2" fill="#222"/><ellipse cx="539.8" cy="871.7" rx="0.9" ry="1.0" fill="#1c1c1c"/><ellipse cx="541.1" cy="872.3" rx="0.6" ry="0.8" fill="#222"/><ellipse cx="504.3" cy="887.8" rx="1.0" ry="1.5" fill="#aaa"/><ellipse cx="507.8" cy="889.9" rx="0.9" ry="1.0" fill="#c5c5c5"/><ellipse cx="507.8" cy="891.6" rx="0.9" ry="1.2" fill="#e0e0e0"/><ellipse cx="496.3" cy="892.9" rx="0.5" ry="0.8" fill="#e0e0e0"/><ellipse cx="496.9" cy="895.1" rx="1.0" ry="1.5" fill="#1c1c1c"/><ellipse cx="498.0" cy="895.7" rx="0.9" ry="0.8" fill="#aaa"/><ellipse cx="545.2" cy="882.8" rx="0.7" ry="1.1" fill="#aaa"/><ellipse cx="541.6" cy="886.1" rx="0.5" ry="1.3" fill="#aaa"/><ellipse cx="539.8" cy="883.7" rx="0.5" ry="0.9" fill="#aaa"/><ellipse cx="539.8" cy="893.1" rx="0.9" ry="0.7" fill="#222"/><ellipse cx="537.2" cy="886.9" rx="0.9" ry="1.2" fill="#999"/><ellipse cx="538.4" cy="894.0" rx="0.8" ry="0.6" fill="#222"/><ellipse cx="552.4" cy="892.3" rx="0.9" ry="1.3" fill="#aaa"/><ellipse cx="552.9" cy="892.4" rx="0.8" ry="1.3" fill="#c5c5c5"/><ellipse cx="551.2" cy="891.5" rx="0.9" ry="1.2" fill="#222"/><ellipse cx="557.5" cy="899.0" rx="0.5" ry="1.2" fill="#c5c5c5"/><ellipse cx="556.6" cy="902.3" rx="0.5" ry="0.6" fill="#1c1c1c"/><ellipse cx="557.4" cy="897.8" rx="0.5" ry="1.3" fill="#222"/><ellipse cx="530.8" cy="902.5" rx="0.5" ry="1.1" fill="#222"/><ellipse cx="527.4" cy="901.8" rx="0.5" ry="0.8" fill="#222"/><ellipse cx="527.7" cy="901.9" rx="0.8" ry="1.0" fill="#999"/><ellipse cx="482.8" cy="909.0" rx="0.6" ry="0.6" fill="#222"/><ellipse cx="477.2" cy="905.8" rx="0.6" ry="0.8" fill="#222"/><ellipse cx="477.2" cy="904.2" rx="0.6" ry="1.0" fill="#999"/><ellipse cx="488.1" cy="908.6" rx="0.8" ry="1.2" fill="#e0e0e0"/><ellipse cx="487.8" cy="903.0" rx="0.7" ry="1.3" fill="#1c1c1c"/><ellipse cx="490.1" cy="909.2" rx="1.0" ry="0.6" fill="#999"/><ellipse cx="501.1" cy="908.8" rx="1.0" ry="1.5" fill="#999"/><ellipse cx="499.6" cy="912.0" rx="0.6" ry="1.1" fill="#aaa"/><ellipse cx="498.5" cy="904.5" rx="0.7" ry="1.1" fill="#222"/><ellipse cx="499.0" cy="915.7" rx="0.9" ry="0.8" fill="#999"/><ellipse cx="501.2" cy="917.4" rx="1.0" ry="1.2" fill="#999"/><ellipse cx="502.0" cy="918.1" rx="0.7" ry="0.9" fill="#e0e0e0"/><ellipse cx="503.8" cy="925.7" rx="0.9" ry="0.7" fill="#aaa"/><ellipse cx="499.7" cy="921.0" rx="0.6" ry="0.9" fill="#999"/><ellipse cx="497.8" cy="928.7" rx="0.5" ry="1.4" fill="#e0e0e0"/><ellipse cx="497.9" cy="931.7" rx="0.5" ry="1.2" fill="#222"/><ellipse cx="498.6" cy="932.6" rx="0.6" ry="1.1" fill="#aaa"/><ellipse cx="497.1" cy="929.9" rx="0.7" ry="0.6" fill="#222"/><ellipse cx="487.1" cy="944.0" rx="0.8" ry="0.8" fill="#c5c5c5"/><ellipse cx="494.2" cy="942.6" rx="0.7" ry="1.3" fill="#222"/><ellipse cx="492.7" cy="938.8" rx="1.0" ry="1.1" fill="#aaa"/><ellipse cx="472.6" cy="916.5" rx="0.6" ry="1.3" fill="#222"/><ellipse cx="474.4" cy="919.9" rx="0.7" ry="1.1" fill="#999"/><ellipse cx="476.4" cy="918.6" rx="0.5" ry="1.1" fill="#999"/><ellipse cx="482.4" cy="918.1" rx="0.7" ry="1.3" fill="#999"/><ellipse cx="485.6" cy="920.3" rx="0.5" ry="0.9" fill="#c5c5c5"/><ellipse cx="483.7" cy="920.9" rx="0.9" ry="0.8" fill="#c5c5c5"/><ellipse cx="518.6" cy="912.8" rx="0.7" ry="1.1" fill="#999"/><ellipse cx="518.2" cy="920.2" rx="0.7" ry="1.1" fill="#e0e0e0"/><ellipse cx="520.4" cy="918.4" rx="0.8" ry="1.4" fill="#aaa"/><ellipse cx="518.9" cy="928.8" rx="0.7" ry="1.2" fill="#999"/><ellipse cx="519.2" cy="924.2" rx="0.9" ry="0.6" fill="#c5c5c5"/><ellipse cx="512.3" cy="928.0" rx="0.9" ry="1.5" fill="#999"/><ellipse cx="515.4" cy="937.4" rx="1.0" ry="1.3" fill="#999"/><ellipse cx="514.9" cy="936.9" rx="0.6" ry="0.7" fill="#1c1c1c"/><ellipse cx="514.5" cy="937.0" rx="0.9" ry="1.2" fill="#999"/><ellipse cx="529.7" cy="930.5" rx="0.5" ry="0.7" fill="#1c1c1c"/><ellipse cx="529.4" cy="927.0" rx="0.7" ry="0.7" fill="#e0e0e0"/><ellipse cx="523.9" cy="928.1" rx="0.9" ry="0.7" fill="#e0e0e0"/><ellipse cx="527.5" cy="933.0" rx="0.7" ry="0.8" fill="#1c1c1c"/><ellipse cx="533.6" cy="933.5" rx="1.0" ry="0.9" fill="#e0e0e0"/><ellipse cx="528.2" cy="930.4" rx="0.7" ry="0.8" fill="#aaa"/><ellipse cx="545.7" cy="924.5" rx="0.8" ry="0.6" fill="#aaa"/><ellipse cx="538.6" cy="923.8" rx="0.7" ry="0.8" fill="#222"/><ellipse cx="539.9" cy="925.6" rx="0.7" ry="1.2" fill="#222"/><ellipse cx="537.6" cy="939.3" rx="0.6" ry="1.3" fill="#222"/><ellipse cx="541.5" cy="935.7" rx="0.7" ry="0.8" fill="#aaa"/><ellipse cx="540.8" cy="939.9" rx="0.9" ry="0.9" fill="#1c1c1c"/><ellipse cx="550.6" cy="919.9" rx="0.6" ry="1.0" fill="#222"/><ellipse cx="555.5" cy="921.2" rx="1.0" ry="0.6" fill="#c5c5c5"/><ellipse cx="554.5" cy="919.5" rx="0.5" ry="0.7" fill="#999"/><ellipse cx="551.3" cy="932.8" rx="0.7" ry="0.7" fill="#c5c5c5"/><ellipse cx="556.8" cy="930.3" rx="0.6" ry="1.4" fill="#222"/><ellipse cx="552.3" cy="932.1" rx="0.9" ry="1.4" fill="#e0e0e0"/><ellipse cx="550.9" cy="943.9" rx="0.5" ry="0.7" fill="#999"/><ellipse cx="554.4" cy="942.7" rx="1.0" ry="0.8" fill="#e0e0e0"/><ellipse cx="552.9" cy="940.9" rx="0.9" ry="0.7" fill="#222"/><ellipse cx="561.6" cy="909.6" rx="1.0" ry="0.8" fill="#e0e0e0"/><ellipse cx="564.3" cy="906.0" rx="0.8" ry="0.8" fill="#222"/><ellipse cx="564.8" cy="907.4" rx="0.5" ry="0.7" fill="#c5c5c5"/><ellipse cx="574.5" cy="911.4" rx="0.9" ry="0.9" fill="#e0e0e0"/><ellipse cx="572.5" cy="911.4" rx="0.5" ry="1.3" fill="#222"/><ellipse cx="573.7" cy="910.0" rx="0.5" ry="1.3" fill="#222"/><ellipse cx="572.5" cy="929.0" rx="0.9" ry="0.7" fill="#222"/><ellipse cx="575.4" cy="928.5" rx="0.7" ry="0.8" fill="#999"/><ellipse cx="571.5" cy="927.9" rx="0.7" ry="0.6" fill="#222"/><ellipse cx="579.3" cy="933.5" rx="0.6" ry="0.8" fill="#e0e0e0"/><ellipse cx="576.4" cy="931.4" rx="0.8" ry="1.1" fill="#999"/><ellipse cx="580.7" cy="928.6" rx="0.5" ry="0.6" fill="#1c1c1c"/><ellipse cx="588.8" cy="929.1" rx="0.7" ry="0.7" fill="#c5c5c5"/><ellipse cx="590.5" cy="931.1" rx="0.5" ry="1.0" fill="#222"/><ellipse cx="592.6" cy="929.3" rx="0.6" ry="1.0" fill="#222"/><ellipse cx="599.9" cy="929.0" rx="0.9" ry="1.3" fill="#e0e0e0"/><ellipse cx="598.9" cy="928.9" rx="0.7" ry="1.3" fill="#aaa"/><ellipse cx="598.0" cy="926.5" rx="0.6" ry="0.9" fill="#1c1c1c"/><ellipse cx="573.3" cy="944.8" rx="0.6" ry="0.8" fill="#1c1c1c"/><ellipse cx="573.0" cy="946.9" rx="0.8" ry="1.5" fill="#c5c5c5"/><ellipse cx="576.5" cy="943.3" rx="0.6" ry="1.0" fill="#e0e0e0"/><ellipse cx="615.2" cy="921.8" rx="0.6" ry="0.8" fill="#1c1c1c"/><ellipse cx="613.9" cy="922.9" rx="0.8" ry="0.8" fill="#1c1c1c"/><ellipse cx="613.2" cy="924.9" rx="1.0" ry="0.7" fill="#1c1c1c"/><ellipse cx="454.1" cy="894.1" rx="0.5" ry="0.9" fill="#c5c5c5"/><ellipse cx="455.3" cy="898.6" rx="0.8" ry="1.2" fill="#aaa"/><ellipse cx="456.2" cy="893.0" rx="0.7" ry="0.9" fill="#1c1c1c"/><ellipse cx="461.9" cy="901.3" rx="0.9" ry="1.1" fill="#c5c5c5"/><ellipse cx="459.6" cy="901.4" rx="0.8" ry="0.7" fill="#1c1c1c"/><ellipse cx="464.4" cy="900.4" rx="0.8" ry="1.0" fill="#e0e0e0"/><ellipse cx="436.4" cy="906.6" rx="0.5" ry="1.3" fill="#e0e0e0"/><ellipse cx="436.4" cy="910.0" rx="0.9" ry="1.3" fill="#222"/><ellipse cx="438.8" cy="912.8" rx="0.6" ry="0.6" fill="#aaa"/><ellipse cx="444.4" cy="907.9" rx="0.7" ry="1.4" fill="#999"/><ellipse cx="448.0" cy="904.4" rx="0.5" ry="0.7" fill="#999"/><ellipse cx="450.4" cy="907.9" rx="0.7" ry="1.1" fill="#aaa"/><ellipse cx="451.6" cy="912.7" rx="0.6" ry="0.7" fill="#999"/><ellipse cx="449.0" cy="911.3" rx="1.0" ry="0.8" fill="#aaa"/><ellipse cx="453.5" cy="909.7" rx="1.0" ry="0.9" fill="#1c1c1c"/><ellipse cx="463.0" cy="906.0" rx="1.0" ry="1.2" fill="#aaa"/><ellipse cx="458.3" cy="904.2" rx="0.8" ry="1.2" fill="#aaa"/><ellipse cx="461.7" cy="905.4" rx="0.6" ry="1.0" fill="#1c1c1c"/><ellipse cx="448.1" cy="920.9" rx="0.6" ry="1.5" fill="#aaa"/><ellipse cx="449.6" cy="919.7" rx="0.9" ry="0.6" fill="#e0e0e0"/><ellipse cx="449.0" cy="921.0" rx="0.8" ry="1.2" fill="#e0e0e0"/><ellipse cx="454.2" cy="921.7" rx="0.6" ry="1.0" fill="#e0e0e0"/><ellipse cx="452.9" cy="924.7" rx="0.5" ry="1.2" fill="#999"/><ellipse cx="452.8" cy="924.4" rx="0.8" ry="1.3" fill="#aaa"/><ellipse cx="429.5" cy="929.1" rx="0.5" ry="0.9" fill="#e0e0e0"/><ellipse cx="430.7" cy="933.0" rx="0.8" ry="0.6" fill="#222"/><ellipse cx="431.2" cy="934.5" rx="0.7" ry="1.2" fill="#c5c5c5"/><ellipse cx="424.1" cy="938.4" rx="0.7" ry="1.5" fill="#aaa"/><ellipse cx="423.2" cy="937.7" rx="0.8" ry="1.2" fill="#c5c5c5"/><ellipse cx="423.0" cy="941.3" rx="0.7" ry="1.5" fill="#aaa"/><ellipse cx="471.2" cy="902.4" rx="0.6" ry="1.3" fill="#1c1c1c"/><ellipse cx="472.8" cy="903.9" rx="0.9" ry="0.8" fill="#999"/><ellipse cx="474.7" cy="908.9" rx="1.0" ry="0.8" fill="#e0e0e0"/><ellipse cx="475.1" cy="914.2" rx="0.7" ry="0.8" fill="#999"/><ellipse cx="478.9" cy="920.1" rx="0.8" ry="1.4" fill="#aaa"/><ellipse cx="477.3" cy="913.4" rx="0.9" ry="0.6" fill="#e0e0e0"/><ellipse cx="483.4" cy="906.5" rx="0.8" ry="1.2" fill="#c5c5c5"/><ellipse cx="480.7" cy="910.8" rx="0.9" ry="1.3" fill="#e0e0e0"/><ellipse cx="480.3" cy="912.2" rx="0.8" ry="0.9" fill="#c5c5c5"/><ellipse cx="455.0" cy="934.3" rx="0.9" ry="0.6" fill="#1c1c1c"/><ellipse cx="456.6" cy="937.1" rx="1.0" ry="1.1" fill="#222"/><ellipse cx="459.2" cy="931.1" rx="0.9" ry="0.8" fill="#e0e0e0"/><ellipse cx="458.9" cy="939.1" rx="0.8" ry="1.4" fill="#aaa"/><ellipse cx="457.8" cy="941.6" rx="0.5" ry="0.6" fill="#1c1c1c"/><ellipse cx="459.7" cy="943.0" rx="0.7" ry="0.8" fill="#1c1c1c"/><ellipse cx="465.1" cy="916.8" rx="0.7" ry="1.3" fill="#aaa"/><ellipse cx="468.4" cy="918.0" rx="0.6" ry="0.7" fill="#c5c5c5"/><ellipse cx="467.5" cy="915.7" rx="0.8" ry="0.8" fill="#e0e0e0"/><ellipse cx="474.3" cy="925.3" rx="0.9" ry="1.4" fill="#1c1c1c"/><ellipse cx="471.1" cy="923.1" rx="1.0" ry="1.3" fill="#aaa"/><ellipse cx="473.5" cy="927.2" rx="0.5" ry="0.6" fill="#aaa"/><ellipse cx="480.8" cy="925.7" rx="0.9" ry="0.6" fill="#1c1c1c"/><ellipse cx="479.8" cy="921.7" rx="0.7" ry="1.1" fill="#222"/><ellipse cx="478.1" cy="923.6" rx="0.9" ry="0.8" fill="#e0e0e0"/><ellipse cx="438.8" cy="954.6" rx="1.0" ry="1.3" fill="#999"/><ellipse cx="434.2" cy="950.8" rx="0.9" ry="1.3" fill="#999"/><ellipse cx="438.7" cy="955.1" rx="0.6" ry="1.5" fill="#e0e0e0"/><ellipse cx="444.9" cy="955.7" rx="0.7" ry="1.3" fill="#222"/><ellipse cx="447.2" cy="952.9" rx="0.5" ry="1.2" fill="#222"/><ellipse cx="440.6" cy="955.5" rx="0.8" ry="0.8" fill="#222"/><ellipse cx="460.6" cy="953.7" rx="0.5" ry="1.1" fill="#aaa"/><ellipse cx="456.6" cy="958.4" rx="0.9" ry="1.5" fill="#222"/><ellipse cx="458.6" cy="954.5" rx="0.7" ry="1.1" fill="#999"/><ellipse cx="459.4" cy="940.3" rx="0.8" ry="1.2" fill="#1c1c1c"/><ellipse cx="453.0" cy="944.3" rx="0.8" ry="1.4" fill="#999"/><ellipse cx="458.8" cy="942.2" rx="0.9" ry="1.3" fill="#999"/><ellipse cx="431.2" cy="965.7" rx="1.0" ry="0.7" fill="#c5c5c5"/><ellipse cx="435.6" cy="970.6" rx="0.6" ry="1.5" fill="#222"/><ellipse cx="434.6" cy="967.9" rx="0.8" ry="1.2" fill="#222"/><ellipse cx="441.3" cy="966.3" rx="0.9" ry="1.3" fill="#aaa"/><ellipse cx="441.4" cy="961.4" rx="0.9" ry="0.7" fill="#222"/><ellipse cx="441.5" cy="964.8" rx="0.6" ry="0.7" fill="#c5c5c5"/><ellipse cx="430.5" cy="953.5" rx="0.9" ry="0.7" fill="#222"/><ellipse cx="424.8" cy="952.7" rx="0.6" ry="1.3" fill="#222"/><ellipse cx="427.3" cy="957.1" rx="0.7" ry="0.6" fill="#e0e0e0"/><ellipse cx="468.0" cy="959.8" rx="0.9" ry="1.4" fill="#1c1c1c"/><ellipse cx="463.3" cy="960.5" rx="0.8" ry="0.6" fill="#999"/><ellipse cx="469.3" cy="961.3" rx="0.5" ry="1.0" fill="#c5c5c5"/><ellipse cx="475.3" cy="984.7" rx="0.9" ry="0.7" fill="#e0e0e0"/><ellipse cx="477.8" cy="987.2" rx="0.6" ry="1.3" fill="#c5c5c5"/><ellipse cx="479.7" cy="985.5" rx="0.7" ry="1.3" fill="#aaa"/><ellipse cx="455.8" cy="1015.4" rx="1.0" ry="1.1" fill="#1c1c1c"/><ellipse cx="454.8" cy="1015.2" rx="0.6" ry="1.2" fill="#999"/><ellipse cx="454.8" cy="1020.8" rx="0.9" ry="1.0" fill="#222"/><ellipse cx="489.2" cy="941.3" rx="0.7" ry="0.7" fill="#999"/><ellipse cx="495.4" cy="939.4" rx="0.7" ry="1.2" fill="#e0e0e0"/><ellipse cx="492.4" cy="944.7" rx="1.0" ry="1.1" fill="#999"/><ellipse cx="528.8" cy="937.9" rx="1.0" ry="0.7" fill="#1c1c1c"/><ellipse cx="525.7" cy="934.7" rx="0.8" ry="0.9" fill="#e0e0e0"/><ellipse cx="521.7" cy="937.7" rx="0.7" ry="1.1" fill="#e0e0e0"/><ellipse cx="553.9" cy="943.0" rx="0.9" ry="1.1" fill="#aaa"/><ellipse cx="550.9" cy="943.6" rx="0.8" ry="1.1" fill="#e0e0e0"/><ellipse cx="551.5" cy="944.1" rx="0.9" ry="0.7" fill="#aaa"/><ellipse cx="575.8" cy="944.4" rx="0.8" ry="0.9" fill="#aaa"/><ellipse cx="570.5" cy="947.2" rx="1.0" ry="1.3" fill="#c5c5c5"/><ellipse cx="573.6" cy="948.5" rx="0.6" ry="0.7" fill="#aaa"/><ellipse cx="565.6" cy="948.5" rx="0.7" ry="0.8" fill="#222"/><ellipse cx="566.5" cy="950.7" rx="0.9" ry="1.0" fill="#c5c5c5"/><ellipse cx="561.6" cy="954.1" rx="0.8" ry="1.1" fill="#222"/><ellipse cx="584.1" cy="938.5" rx="0.6" ry="1.3" fill="#c5c5c5"/><ellipse cx="584.4" cy="934.1" rx="0.7" ry="1.1" fill="#222"/><ellipse cx="581.9" cy="934.8" rx="0.8" ry="1.2" fill="#222"/><ellipse cx="482.8" cy="968.9" rx="0.8" ry="1.2" fill="#999"/><ellipse cx="482.0" cy="974.4" rx="0.9" ry="1.4" fill="#aaa"/><ellipse cx="484.6" cy="969.2" rx="0.8" ry="0.8" fill="#999"/><ellipse cx="539.0" cy="990.6" rx="0.9" ry="1.1" fill="#222"/><ellipse cx="542.4" cy="989.6" rx="0.8" ry="1.3" fill="#999"/><ellipse cx="542.6" cy="987.0" rx="0.6" ry="0.8" fill="#aaa"/><ellipse cx="635.2" cy="999.0" rx="1.0" ry="1.1" fill="#c5c5c5"/><ellipse cx="634.9" cy="993.3" rx="0.6" ry="1.0" fill="#c5c5c5"/><ellipse cx="631.8" cy="992.6" rx="0.8" ry="1.0" fill="#999"/><ellipse cx="489.3" cy="891.9" rx="0.7" ry="1.3" fill="#c5c5c5"/><ellipse cx="488.3" cy="885.5" rx="0.8" ry="0.8" fill="#999"/><ellipse cx="487.6" cy="889.5" rx="0.7" ry="1.0" fill="#222"/><ellipse cx="486.5" cy="894.6" rx="0.6" ry="0.9" fill="#999"/><ellipse cx="489.8" cy="896.3" rx="0.6" ry="1.3" fill="#999"/><ellipse cx="486.1" cy="897.9" rx="1.0" ry="0.7" fill="#222"/><ellipse cx="640.9" cy="991.9" rx="0.9" ry="1.3" fill="#aaa"/><ellipse cx="638.2" cy="991.4" rx="0.9" ry="1.3" fill="#999"/><ellipse cx="643.0" cy="988.7" rx="0.8" ry="1.3" fill="#999"/><ellipse cx="597.8" cy="989.2" rx="0.6" ry="0.9" fill="#e0e0e0"/><ellipse cx="603.2" cy="985.6" rx="0.7" ry="1.3" fill="#e0e0e0"/><ellipse cx="598.0" cy="988.7" rx="0.7" ry="1.0" fill="#1c1c1c"/><ellipse cx="633.6" cy="993.5" rx="0.7" ry="1.4" fill="#999"/><ellipse cx="638.4" cy="997.3" rx="1.0" ry="1.3" fill="#aaa"/><ellipse cx="633.4" cy="995.5" rx="0.8" ry="1.2" fill="#aaa"/><ellipse cx="666.3" cy="841.7" rx="0.6" ry="0.7" fill="#aaa"/><ellipse cx="664.4" cy="840.8" rx="0.7" ry="1.3" fill="#aaa"/><ellipse cx="666.2" cy="840.1" rx="0.6" ry="1.4" fill="#1c1c1c"/><ellipse cx="600.0" cy="827.7" rx="1.0" ry="1.1" fill="#222"/><ellipse cx="599.3" cy="825.6" rx="0.8" ry="1.1" fill="#222"/><ellipse cx="600.0" cy="824.1" rx="0.6" ry="0.7" fill="#999"/><ellipse cx="581.2" cy="844.4" rx="0.7" ry="0.7" fill="#999"/><ellipse cx="583.3" cy="837.6" rx="0.6" ry="0.7" fill="#1c1c1c"/><ellipse cx="581.8" cy="839.0" rx="0.9" ry="1.0" fill="#1c1c1c"/><ellipse cx="591.2" cy="841.1" rx="0.7" ry="1.0" fill="#222"/><ellipse cx="595.4" cy="844.0" rx="0.8" ry="0.6" fill="#1c1c1c"/><ellipse cx="595.8" cy="843.1" rx="1.0" ry="1.3" fill="#c5c5c5"/><ellipse cx="606.1" cy="837.7" rx="0.9" ry="0.6" fill="#222"/><ellipse cx="607.0" cy="839.7" rx="0.5" ry="1.2" fill="#e0e0e0"/><ellipse cx="606.0" cy="838.9" rx="0.9" ry="0.8" fill="#999"/><ellipse cx="619.4" cy="835.6" rx="0.5" ry="0.9" fill="#e0e0e0"/><ellipse cx="620.8" cy="829.8" rx="0.8" ry="0.8" fill="#1c1c1c"/><ellipse cx="619.4" cy="835.4" rx="0.7" ry="0.7" fill="#aaa"/><ellipse cx="625.4" cy="851.6" rx="0.8" ry="1.2" fill="#c5c5c5"/><ellipse cx="624.4" cy="851.2" rx="0.7" ry="1.1" fill="#999"/><ellipse cx="625.8" cy="850.8" rx="0.6" ry="1.4" fill="#1c1c1c"/><ellipse cx="634.2" cy="832.1" rx="0.8" ry="1.1" fill="#999"/><ellipse cx="632.4" cy="831.2" rx="0.8" ry="1.1" fill="#222"/><ellipse cx="635.1" cy="836.5" rx="0.8" ry="1.2" fill="#aaa"/><ellipse cx="641.2" cy="849.5" rx="0.5" ry="1.3" fill="#222"/><ellipse cx="642.8" cy="847.7" rx="0.6" ry="0.9" fill="#222"/><ellipse cx="640.0" cy="851.7" rx="0.7" ry="0.9" fill="#999"/><ellipse cx="644.4" cy="829.0" rx="1.0" ry="1.0" fill="#1c1c1c"/><ellipse cx="647.2" cy="831.8" rx="0.9" ry="1.1" fill="#999"/><ellipse cx="645.3" cy="831.9" rx="0.7" ry="1.1" fill="#222"/><ellipse cx="658.7" cy="838.3" rx="0.7" ry="0.7" fill="#222"/><ellipse cx="652.6" cy="840.6" rx="0.8" ry="1.0" fill="#c5c5c5"/><ellipse cx="655.5" cy="835.4" rx="1.0" ry="0.7" fill="#c5c5c5"/><ellipse cx="651.9" cy="854.9" rx="0.9" ry="0.8" fill="#222"/><ellipse cx="651.0" cy="846.6" rx="0.7" ry="1.3" fill="#222"/><ellipse cx="652.6" cy="848.7" rx="0.5" ry="1.2" fill="#222"/><ellipse cx="598.4" cy="859.2" rx="0.9" ry="1.4" fill="#c5c5c5"/><ellipse cx="600.8" cy="856.4" rx="0.5" ry="1.2" fill="#1c1c1c"/><ellipse cx="602.7" cy="861.1" rx="0.9" ry="0.7" fill="#999"/><ellipse cx="634.6" cy="866.7" rx="1.0" ry="1.3" fill="#999"/><ellipse cx="635.4" cy="866.4" rx="0.9" ry="0.9" fill="#222"/><ellipse cx="637.6" cy="874.2" rx="0.7" ry="1.3" fill="#999"/><ellipse cx="655.9" cy="863.1" rx="0.8" ry="0.9" fill="#c5c5c5"/><ellipse cx="651.2" cy="861.4" rx="0.9" ry="1.1" fill="#1c1c1c"/><ellipse cx="652.9" cy="862.7" rx="0.6" ry="1.3" fill="#1c1c1c"/><ellipse cx="571.5" cy="867.8" rx="0.7" ry="1.2" fill="#1c1c1c"/><ellipse cx="575.3" cy="861.7" rx="0.7" ry="1.2" fill="#e0e0e0"/><ellipse cx="574.8" cy="869.3" rx="0.8" ry="1.3" fill="#c5c5c5"/><ellipse cx="584.6" cy="873.7" rx="0.9" ry="1.5" fill="#aaa"/><ellipse cx="584.5" cy="876.4" rx="0.9" ry="1.2" fill="#999"/><ellipse cx="584.0" cy="873.1" rx="0.8" ry="1.3" fill="#aaa"/><ellipse cx="644.7" cy="858.3" rx="1.0" ry="0.9" fill="#c5c5c5"/><ellipse cx="643.3" cy="859.6" rx="0.6" ry="0.8" fill="#c5c5c5"/><ellipse cx="644.6" cy="859.4" rx="0.5" ry="1.3" fill="#c5c5c5"/><ellipse cx="587.3" cy="860.0" rx="0.9" ry="1.4" fill="#1c1c1c"/><ellipse cx="586.0" cy="859.3" rx="0.6" ry="0.8" fill="#c5c5c5"/><ellipse cx="588.2" cy="860.1" rx="0.7" ry="1.1" fill="#999"/><ellipse cx="613.5" cy="842.5" rx="0.6" ry="1.4" fill="#999"/><ellipse cx="612.3" cy="848.6" rx="0.8" ry="1.3" fill="#aaa"/><ellipse cx="612.7" cy="848.8" rx="0.6" ry="1.1" fill="#c5c5c5"/><ellipse cx="623.6" cy="862.2" rx="0.9" ry="1.0" fill="#1c1c1c"/><ellipse cx="621.6" cy="865.8" rx="0.6" ry="0.7" fill="#999"/><ellipse cx="621.3" cy="856.6" rx="1.0" ry="0.8" fill="#c5c5c5"/><ellipse cx="629.8" cy="860.1" rx="0.7" ry="0.6" fill="#c5c5c5"/><ellipse cx="628.9" cy="853.2" rx="0.7" ry="1.5" fill="#c5c5c5"/><ellipse cx="632.4" cy="851.6" rx="1.0" ry="1.2" fill="#c5c5c5"/><ellipse cx="646.0" cy="857.4" rx="0.8" ry="1.5" fill="#222"/><ellipse cx="644.9" cy="853.0" rx="0.9" ry="0.9" fill="#aaa"/><ellipse cx="647.4" cy="852.9" rx="0.5" ry="0.8" fill="#e0e0e0"/><ellipse cx="661.1" cy="856.6" rx="0.5" ry="1.4" fill="#e0e0e0"/><ellipse cx="659.7" cy="850.4" rx="0.8" ry="1.5" fill="#c5c5c5"/><ellipse cx="660.5" cy="857.1" rx="0.5" ry="0.8" fill="#222"/><ellipse cx="614.5" cy="838.6" rx="0.9" ry="0.7" fill="#e0e0e0"/><ellipse cx="614.0" cy="837.3" rx="0.7" ry="0.9" fill="#999"/><ellipse cx="615.2" cy="837.3" rx="0.8" ry="0.6" fill="#222"/><ellipse cx="605.0" cy="842.8" rx="0.6" ry="1.3" fill="#c5c5c5"/><ellipse cx="605.2" cy="843.2" rx="0.9" ry="0.7" fill="#999"/><ellipse cx="605.4" cy="843.8" rx="0.7" ry="0.6" fill="#c5c5c5"/></g>
</g>
<path d="M79.7 742.05V1086.80" stroke="#111" stroke-width="2.1" fill="none"/>
<path d="M78.7 743.40H748.3" stroke="#111" stroke-width="2.7" fill="none"/>
<path d="M747 743.40V1086.80" stroke="#111" stroke-width="2.6" fill="none"/>
<path d="M78.7 1085.50H748.3" stroke="#111" stroke-width="2.6" fill="none"/>
<path d="M731.3 1085.5v5.0M710.7 1085.5v2.9M690.0 1085.5v2.9M669.4 1085.5v2.9M648.8 1085.5v2.9M628.1 1085.5v5.0M607.5 1085.5v2.9M586.9 1085.5v2.9M566.3 1085.5v2.9M545.6 1085.5v2.9M525.0 1085.5v5.0M504.4 1085.5v2.9M483.8 1085.5v2.9M463.1 1085.5v2.9M442.5 1085.5v2.9M421.9 1085.5v5.0M401.3 1085.5v2.9M380.6 1085.5v2.9M360.0 1085.5v2.9M339.4 1085.5v2.9M318.8 1085.5v5.0M298.1 1085.5v2.9M277.5 1085.5v2.9M256.9 1085.5v2.9M236.3 1085.5v2.9M215.6 1085.5v5.0M195.0 1085.5v2.9M174.4 1085.5v2.9M153.8 1085.5v2.9M133.1 1085.5v2.9M112.5 1085.5v5.0M91.9 1085.5v2.9" stroke="#1a1a1a" stroke-width="1.8" fill="none"/>
<path d="M80.1 745.0h-3.2M80.1 755.4h-3.2M80.1 765.9h-3.2M80.1 776.4h-5.3M80.1 786.9h-3.2M80.1 797.4h-3.2M80.1 807.8h-3.2M80.1 818.3h-3.2M80.1 828.8h-5.3M80.1 839.3h-3.2M80.1 849.8h-3.2M80.1 860.2h-3.2M80.1 870.7h-3.2M80.1 881.2h-5.3M80.1 891.7h-3.2M80.1 902.2h-3.2M80.1 912.6h-3.2M80.1 923.1h-3.2M80.1 933.6h-5.3M80.1 944.1h-3.2M80.1 954.6h-3.2M80.1 965.0h-3.2M80.1 975.5h-3.2M80.1 986.0h-5.3M80.1 996.5h-3.2M80.1 1007.0h-3.2M80.1 1017.4h-3.2M80.1 1027.9h-3.2M80.1 1038.4h-5.3M80.1 1048.9h-3.2M80.1 1059.4h-3.2M80.1 1069.8h-3.2M80.1 1080.3h-3.2" stroke="#1a1a1a" stroke-width="1.8" fill="none"/>
<text x="72.7" y="782.7" text-anchor="end" class="tk" font-size="17.4" textLength="27.6" lengthAdjust="spacingAndGlyphs">105</text>
<text x="72.7" y="835.1" text-anchor="end" class="tk" font-size="17.4" textLength="27.6" lengthAdjust="spacingAndGlyphs">110</text>
<text x="72.7" y="887.5" text-anchor="end" class="tk" font-size="17.4" textLength="27.6" lengthAdjust="spacingAndGlyphs">115</text>
<text x="72.7" y="939.9" text-anchor="end" class="tk" font-size="17.4" textLength="27.6" lengthAdjust="spacingAndGlyphs">120</text>
<text x="72.7" y="992.3" text-anchor="end" class="tk" font-size="17.4" textLength="27.6" lengthAdjust="spacingAndGlyphs">125</text>
<text x="72.7" y="1044.7" text-anchor="end" class="tk" font-size="17.4" textLength="27.6" lengthAdjust="spacingAndGlyphs">130</text>
<text x="731.3" y="1105.9" text-anchor="middle" class="tk" font-size="17.4">6</text>
<text x="628.1" y="1105.9" text-anchor="middle" class="tk" font-size="17.4">7</text>
<text x="525.0" y="1105.9" text-anchor="middle" class="tk" font-size="17.4">8</text>
<text x="421.9" y="1105.9" text-anchor="middle" class="tk" font-size="17.4">9</text>
<text x="318.8" y="1105.9" text-anchor="middle" class="tk" font-size="17.4" textLength="18.8" lengthAdjust="spacingAndGlyphs">10</text>
<text x="215.6" y="1105.9" text-anchor="middle" class="tk" font-size="17.4" textLength="18.8" lengthAdjust="spacingAndGlyphs">11</text>
<text x="112.5" y="1105.9" text-anchor="middle" class="tk" font-size="17.4" textLength="18.8" lengthAdjust="spacingAndGlyphs">12</text>
<text x="123.8" y="453.7" class="ti">B</text>
<text x="154.8" y="453.7" class="ti" textLength="81.7" lengthAdjust="spacingAndGlyphs">W103F</text>
<text x="426.0" y="420.0" class="an" textLength="26.2" lengthAdjust="spacingAndGlyphs">G95</text>
<path d="M453.8 418.5L471.5 407.8M461.5 408.0L471.5 407.8L466.7 416.6" stroke="#111" stroke-width="1.8" fill="none" stroke-linecap="round" stroke-linejoin="round"/>
<text x="704.0" y="451.1" class="an" textLength="33.5" lengthAdjust="spacingAndGlyphs">Y105</text>
<path d="M718.0 460.4L694.3 467.9M704.1 470.1L694.3 467.9L701.0 460.5" stroke="#111" stroke-width="1.8" fill="none" stroke-linecap="round" stroke-linejoin="round"/>
<text x="640.4" y="557.7" class="an" textLength="30.7" lengthAdjust="spacingAndGlyphs">L101</text>
<path d="M639.9 564.1L630.7 581.4M639.2 576.1L630.7 581.4L630.4 571.4" stroke="#111" stroke-width="1.8" fill="none" stroke-linecap="round" stroke-linejoin="round"/>
<text x="694.9" y="547.9" class="an" textLength="34.8" lengthAdjust="spacingAndGlyphs">N106</text>
<path d="M709.6 559.1L686.5 577.2M696.4 575.8L686.5 577.2L690.2 567.9" stroke="#111" stroke-width="1.8" fill="none" stroke-linecap="round" stroke-linejoin="round"/>
<text x="306.5" y="644.7" class="an" textLength="26.5" lengthAdjust="spacingAndGlyphs">D79</text>
<path d="M324.4 653.2L345.8 663.9M340.3 655.6L345.8 663.9L335.8 664.5" stroke="#111" stroke-width="1.8" fill="none" stroke-linecap="round" stroke-linejoin="round"/>
<text x="118.5" y="810.2" class="ti">C</text>
<text x="150.5" y="810.2" class="ti" textLength="87.0" lengthAdjust="spacingAndGlyphs">W103A</text>
<text x="388.1" y="786.4" class="an" textLength="27.5" lengthAdjust="spacingAndGlyphs">G95</text>
<path d="M416.6 785.6L434.8 778.4M424.9 776.9L434.8 778.4L428.6 786.2" stroke="#111" stroke-width="1.8" fill="none" stroke-linecap="round" stroke-linejoin="round"/>
<text x="690.7" y="824.0" class="an" textLength="33.0" lengthAdjust="spacingAndGlyphs">Y105</text>
<path d="M704.0 832.9L680.9 839.9M690.6 842.2L680.9 839.9L687.7 832.6" stroke="#111" stroke-width="1.8" fill="none" stroke-linecap="round" stroke-linejoin="round"/>
<text x="652.4" y="917.6" class="an" textLength="30.7" lengthAdjust="spacingAndGlyphs">L101</text>
<path d="M652.4 923.5L642.7 940.8M651.3 935.7L642.7 940.8L642.6 930.8" stroke="#111" stroke-width="1.8" fill="none" stroke-linecap="round" stroke-linejoin="round"/>
<text x="703.8" y="908.7" class="an" textLength="34.9" lengthAdjust="spacingAndGlyphs">N106</text>
<path d="M718.6 919.9L695.7 938.0M705.6 936.6L695.7 938.0L699.4 928.7" stroke="#111" stroke-width="1.8" fill="none" stroke-linecap="round" stroke-linejoin="round"/>
<text x="327.0" y="1020.3" class="an" textLength="26.5" lengthAdjust="spacingAndGlyphs">D79</text>
<path d="M345.0 1030.5L365.5 1039.5M359.6 1031.4L365.5 1039.5L355.6 1040.6" stroke="#111" stroke-width="1.8" fill="none" stroke-linecap="round" stroke-linejoin="round"/>
<g class="ax" stroke="#111" stroke-width="0.45">
<text transform="translate(12.8 617) rotate(-90)" font-size="11.5" textLength="16.4" lengthAdjust="spacingAndGlyphs">15</text>
<text transform="translate(23.4 597.8) rotate(-90)" font-size="25" textLength="20.1" lengthAdjust="spacingAndGlyphs">N</text>
<text transform="translate(23.4 572.2) rotate(-90)" font-size="25" textLength="86.7" lengthAdjust="spacingAndGlyphs">(ppm)</text>
<text x="351.6" y="1135" font-size="14" textLength="5.6" lengthAdjust="spacingAndGlyphs">1</text>
<text x="363" y="1141.7" font-size="29" textLength="21" lengthAdjust="spacingAndGlyphs">H</text>
<text x="397.1" y="1141.7" font-size="29" textLength="77.5" lengthAdjust="spacingAndGlyphs">(ppm)</text>
</g>
</svg></body></html>
